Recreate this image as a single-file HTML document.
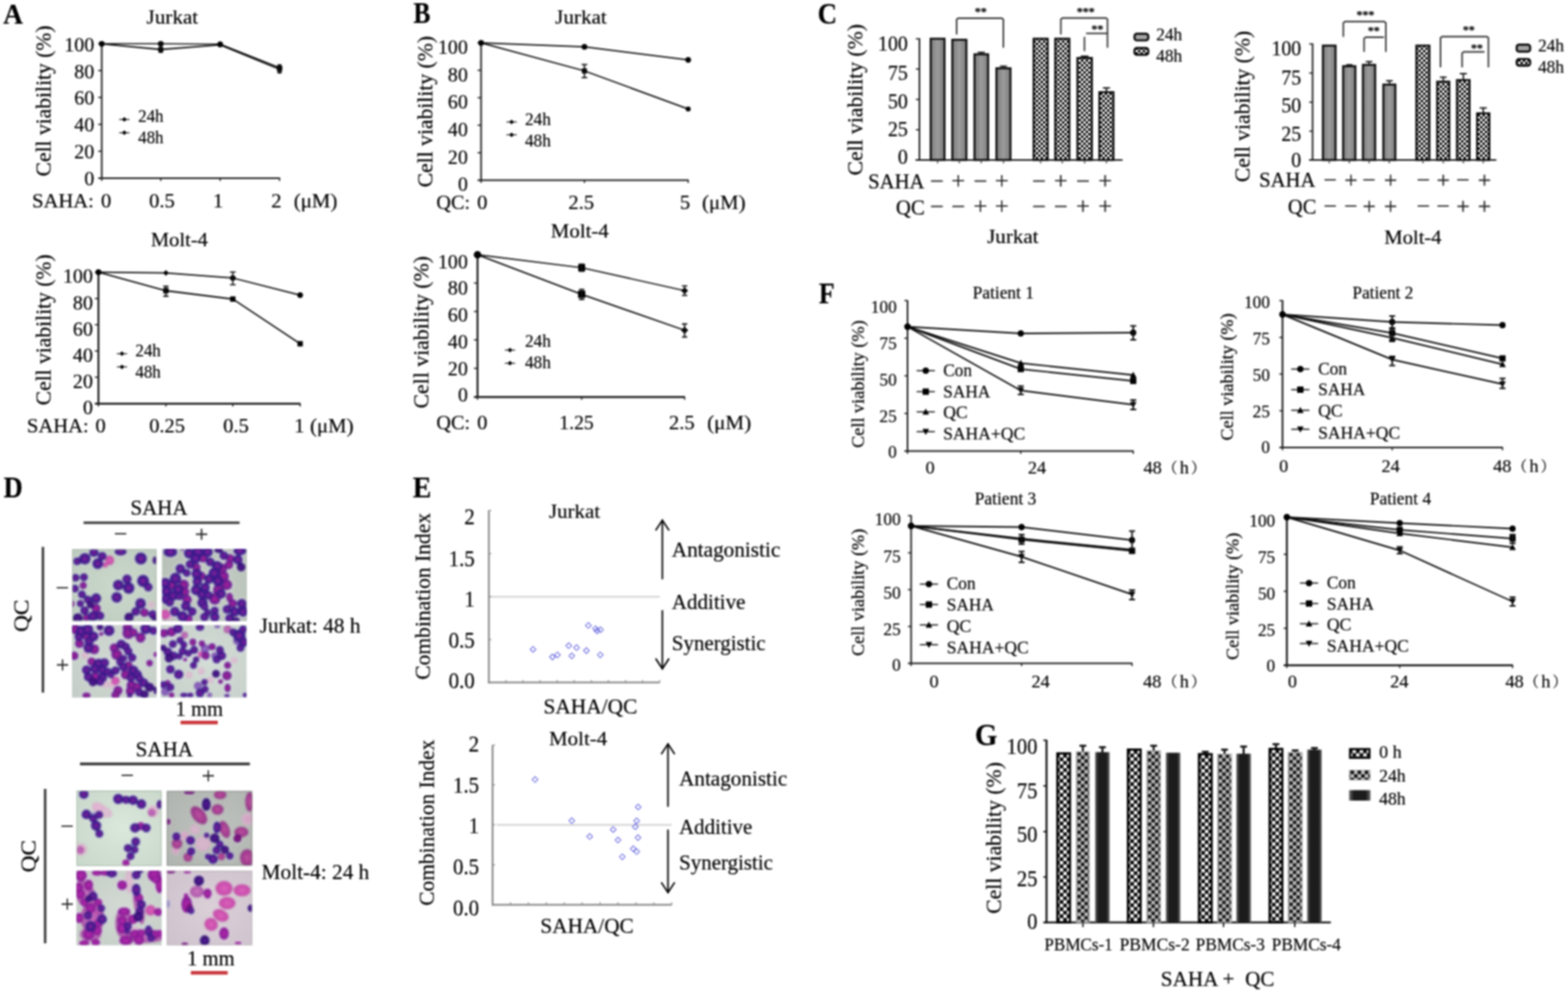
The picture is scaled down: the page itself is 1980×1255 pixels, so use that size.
<!DOCTYPE html>
<html lang="en">
<head>
<meta charset="utf-8">
<title>Figure: SAHA and QC cell viability</title>
<style>
html,body{margin:0;padding:0;background:#fff;}
body{width:1980px;height:1255px;overflow:hidden;}
svg{display:block;font-family:'Liberation Serif', serif;fill:#000;}
text{font-family:"Liberation Serif","Noto Serif CJK SC",serif;stroke:#000;stroke-width:0.22px;stroke-linejoin:round;}
</style>
</head>
<body>
<svg width="1980" height="1255" viewBox="0 0 1980 1255">
<defs>
<filter id="soft" x="0" y="0" width="100%" height="100%" filterUnits="userSpaceOnUse" color-interpolation-filters="sRGB"><feGaussianBlur stdDeviation="0.8"/></filter>
<pattern id="chk" width="6" height="6" patternUnits="userSpaceOnUse"><rect width="6" height="6" fill="#fff"/><rect width="3" height="3" fill="#000"/><rect x="3" y="3" width="3" height="3" fill="#000"/></pattern>
<pattern id="chkd" x="2.1" y="2" width="9" height="9" patternUnits="userSpaceOnUse"><rect width="9" height="9" fill="#000"/><rect x="2.3" y="0.1" width="4.4" height="4.4" rx="0.8" fill="#fff"/><rect x="6.8" y="4.6" width="4.4" height="4.4" rx="0.8" fill="#fff"/><rect x="-2.2" y="4.6" width="4.4" height="4.4" rx="0.8" fill="#fff"/></pattern>
<pattern id="chkl" x="-0.45" y="1" width="9" height="9" patternUnits="userSpaceOnUse"><rect width="9" height="9" fill="#c6c6c6"/><rect x="2.25" y="0" width="4.5" height="4.5" rx="0.9" fill="#0c0c0c"/><rect x="6.75" y="4.5" width="4.5" height="4.5" rx="0.9" fill="#0c0c0c"/><rect x="-2.25" y="4.5" width="4.5" height="4.5" rx="0.9" fill="#0c0c0c"/></pattern>
<linearGradient id="gbar" x1="0" x2="1" y1="0" y2="0"><stop offset="0" stop-color="#7c7c7c"/><stop offset="0.5" stop-color="#9c9c9c"/><stop offset="1" stop-color="#7c7c7c"/></linearGradient>
<linearGradient id="dbar" x1="0" x2="1" y1="0" y2="0"><stop offset="0" stop-color="#6a6a6a"/><stop offset="0.22" stop-color="#1c1c1c"/><stop offset="0.78" stop-color="#1c1c1c"/><stop offset="1" stop-color="#6a6a6a"/></linearGradient>
<radialGradient id="c_p" cx="0.5" cy="0.5" r="0.5"><stop offset="0" stop-color="#92229e"/><stop offset="0.55" stop-color="#4c1a92"/><stop offset="1" stop-color="#2b1a82"/></radialGradient>
<radialGradient id="c_pd" cx="0.5" cy="0.5" r="0.5"><stop offset="0" stop-color="#6a1e96"/><stop offset="0.55" stop-color="#3a1280"/><stop offset="1" stop-color="#250a66"/></radialGradient>
<radialGradient id="c_pl" cx="0.5" cy="0.5" r="0.5"><stop offset="0" stop-color="#9a6cc8"/><stop offset="0.55" stop-color="#7a4ab4"/><stop offset="1" stop-color="#6a44a8"/></radialGradient>
<radialGradient id="c_m" cx="0.5" cy="0.5" r="0.5"><stop offset="0" stop-color="#b62cae"/><stop offset="0.55" stop-color="#9a1f9e"/><stop offset="1" stop-color="#7a1a90"/></radialGradient>
<radialGradient id="c_md" cx="0.5" cy="0.5" r="0.5"><stop offset="0" stop-color="#8e1888"/><stop offset="0.55" stop-color="#74107c"/><stop offset="1" stop-color="#560a68"/></radialGradient>
<radialGradient id="c_ml" cx="0.5" cy="0.5" r="0.5"><stop offset="0" stop-color="#c868bc"/><stop offset="0.55" stop-color="#b450ac"/><stop offset="1" stop-color="#a044a0"/></radialGradient>
<radialGradient id="c_k" cx="0.5" cy="0.5" r="0.5"><stop offset="0" stop-color="#dc5cba"/><stop offset="0.55" stop-color="#cf48ae"/><stop offset="1" stop-color="#c040a2"/></radialGradient>
<radialGradient id="c_kf" cx="0.5" cy="0.5" r="0.5"><stop offset="0" stop-color="#e3b4d4"/><stop offset="0.55" stop-color="#e0b0d0"/><stop offset="1" stop-color="#dca8cc"/></radialGradient>
<radialGradient id="c_b" cx="0.5" cy="0.5" r="0.5"><stop offset="0" stop-color="#8a86d0"/><stop offset="0.55" stop-color="#7c78c8"/><stop offset="1" stop-color="#7070c0"/></radialGradient>
<radialGradient id="c_mj" cx="0.5" cy="0.5" r="0.5"><stop offset="0" stop-color="#a6249c"/><stop offset="0.55" stop-color="#861c94"/><stop offset="1" stop-color="#4c1c8c"/></radialGradient>
<radialGradient id="c_mr" cx="0.5" cy="0.5" r="0.5"><stop offset="0" stop-color="#bc4a9e"/><stop offset="0.55" stop-color="#a83a90"/><stop offset="1" stop-color="#8c2a82"/></radialGradient>
<radialGradient id="c_kp" cx="0.5" cy="0.5" r="0.5"><stop offset="0" stop-color="#dc9cc6"/><stop offset="0.55" stop-color="#dda4ca"/><stop offset="1" stop-color="#deb0d0"/></radialGradient>
<filter id="mb" x="-5%" y="-5%" width="110%" height="110%" color-interpolation-filters="sRGB"><feGaussianBlur stdDeviation="0.8"/></filter>
</defs>
<rect x="0" y="0" width="1980" height="1255" fill="#fff"/>
<g filter="url(#soft)">
<text x="4.0" y="29.7" font-size="36.5" textLength="25.0" lengthAdjust="spacingAndGlyphs" font-weight="bold">A</text>
<text x="185.0" y="30.4" font-size="25" textLength="65.3" lengthAdjust="spacingAndGlyphs">Jurkat</text>
<text x="64.1" y="127.5" font-size="27" text-anchor="middle" textLength="190.6" lengthAdjust="spacingAndGlyphs" transform="rotate(-90 64.1 127.5)">Cell viability (%)</text>
<line x1="128.5" y1="54.5" x2="128.5" y2="226.0" stroke="#1a1a1a" stroke-width="2.0" stroke-linecap="butt"/>
<line x1="124.0" y1="225.0" x2="353.5" y2="225.0" stroke="#1a1a1a" stroke-width="2.0" stroke-linecap="butt"/>
<line x1="124.0" y1="55.2" x2="128.5" y2="55.2" stroke="#1a1a1a" stroke-width="1.6" stroke-linecap="butt"/>
<line x1="124.0" y1="89.1" x2="128.5" y2="89.1" stroke="#1a1a1a" stroke-width="1.6" stroke-linecap="butt"/>
<line x1="124.0" y1="123.0" x2="128.5" y2="123.0" stroke="#1a1a1a" stroke-width="1.6" stroke-linecap="butt"/>
<line x1="124.0" y1="157.0" x2="128.5" y2="157.0" stroke="#1a1a1a" stroke-width="1.6" stroke-linecap="butt"/>
<line x1="124.0" y1="190.9" x2="128.5" y2="190.9" stroke="#1a1a1a" stroke-width="1.6" stroke-linecap="butt"/>
<line x1="128.5" y1="225.0" x2="128.5" y2="228.5" stroke="#1a1a1a" stroke-width="1.6" stroke-linecap="butt"/>
<line x1="203.0" y1="225.0" x2="203.0" y2="228.5" stroke="#1a1a1a" stroke-width="1.6" stroke-linecap="butt"/>
<line x1="278.0" y1="225.0" x2="278.0" y2="228.5" stroke="#1a1a1a" stroke-width="1.6" stroke-linecap="butt"/>
<line x1="353.0" y1="225.0" x2="353.0" y2="228.5" stroke="#1a1a1a" stroke-width="1.6" stroke-linecap="butt"/>
<text x="119.0" y="64.6" font-size="26.2" text-anchor="end" textLength="37.8" lengthAdjust="spacingAndGlyphs">100</text>
<text x="119.0" y="98.5" font-size="26.2" text-anchor="end" textLength="25.2" lengthAdjust="spacingAndGlyphs">80</text>
<text x="119.0" y="132.4" font-size="26.2" text-anchor="end" textLength="25.2" lengthAdjust="spacingAndGlyphs">60</text>
<text x="119.0" y="166.3" font-size="26.2" text-anchor="end" textLength="25.2" lengthAdjust="spacingAndGlyphs">40</text>
<text x="119.0" y="200.3" font-size="26.2" text-anchor="end" textLength="25.2" lengthAdjust="spacingAndGlyphs">20</text>
<text x="119.0" y="234.2" font-size="26.2" text-anchor="end" textLength="12.6" lengthAdjust="spacingAndGlyphs">0</text>
<path d="M128.5 55.3 L203.0 55.3 L278.0 55.8 L353.0 85.5" fill="none" stroke="#0a0a0a" stroke-width="1.6" stroke-linejoin="miter"/>
<circle cx="128.5" cy="55.3" r="3.6" fill="#000"/>
<circle cx="203.0" cy="55.3" r="3.6" fill="#000"/>
<circle cx="278.0" cy="55.8" r="3.6" fill="#000"/>
<circle cx="353.0" cy="85.5" r="3.6" fill="#000"/>
<path d="M128.5 55.3 L203.0 62.5 L278.0 56.6 L353.0 87.5" fill="none" stroke="#0a0a0a" stroke-width="1.8" stroke-linejoin="miter"/>
<circle cx="128.5" cy="55.3" r="3.2" fill="#000"/>
<rect x="199.8" y="59.3" width="6.4" height="6.4" fill="#000"/>
<circle cx="278.0" cy="56.6" r="3.2" fill="#000"/>
<rect x="349.8" y="84.3" width="6.4" height="6.4" fill="#000"/>
<line x1="203.0" y1="53.5" x2="203.0" y2="66.0" stroke="#111" stroke-width="1.8" stroke-linecap="butt"/>
<line x1="200.4" y1="53.5" x2="205.6" y2="53.5" stroke="#111" stroke-width="1.8" stroke-linecap="butt"/>
<line x1="200.4" y1="66.0" x2="205.6" y2="66.0" stroke="#111" stroke-width="1.8" stroke-linecap="butt"/>
<line x1="353.0" y1="82.0" x2="353.0" y2="92.0" stroke="#111" stroke-width="1.8" stroke-linecap="butt"/>
<line x1="350.4" y1="82.0" x2="355.6" y2="82.0" stroke="#111" stroke-width="1.8" stroke-linecap="butt"/>
<line x1="350.4" y1="92.0" x2="355.6" y2="92.0" stroke="#111" stroke-width="1.8" stroke-linecap="butt"/>
<line x1="150.5" y1="150.8" x2="163.5" y2="150.8" stroke="#222" stroke-width="1.3" stroke-linecap="butt"/>
<path d="M154.0 150.8 L157.0 147.8 L160.0 150.8 L157.0 153.8Z" fill="#000"/>
<line x1="150.5" y1="167.6" x2="163.5" y2="167.6" stroke="#222" stroke-width="1.3" stroke-linecap="butt"/>
<path d="M154.0 167.6 L157.0 164.6 L160.0 167.6 L157.0 170.6Z" fill="#000"/>
<text x="174.5" y="154.2" font-size="22.5" textLength="32.0" lengthAdjust="spacingAndGlyphs">24h</text>
<text x="174.5" y="181.0" font-size="22.5" textLength="32.0" lengthAdjust="spacingAndGlyphs">48h</text>
<text x="40.5" y="262.2" font-size="26" textLength="78.0" lengthAdjust="spacingAndGlyphs">SAHA:</text>
<text x="134.0" y="262.2" font-size="26" text-anchor="middle">0</text>
<text x="204.5" y="262.2" font-size="26" text-anchor="middle">0.5</text>
<text x="275.5" y="262.2" font-size="26" text-anchor="middle">1</text>
<text x="349.0" y="262.2" font-size="26" text-anchor="middle">2</text>
<text x="371.0" y="262.2" font-size="26" textLength="55.0" lengthAdjust="spacingAndGlyphs">(μM)</text>
<text x="190.5" y="311.2" font-size="25" textLength="72.0" lengthAdjust="spacingAndGlyphs">Molt-4</text>
<text x="64.1" y="416.5" font-size="27" text-anchor="middle" textLength="190.6" lengthAdjust="spacingAndGlyphs" transform="rotate(-90 64.1 416.5)">Cell viability (%)</text>
<line x1="124.3" y1="343.0" x2="124.3" y2="510.7" stroke="#1a1a1a" stroke-width="2.4" stroke-linecap="butt"/>
<line x1="119.8" y1="509.7" x2="379.5" y2="509.7" stroke="#1a1a1a" stroke-width="2.4" stroke-linecap="butt"/>
<line x1="119.8" y1="343.7" x2="124.3" y2="343.7" stroke="#1a1a1a" stroke-width="1.6" stroke-linecap="butt"/>
<line x1="119.8" y1="376.9" x2="124.3" y2="376.9" stroke="#1a1a1a" stroke-width="1.6" stroke-linecap="butt"/>
<line x1="119.8" y1="410.0" x2="124.3" y2="410.0" stroke="#1a1a1a" stroke-width="1.6" stroke-linecap="butt"/>
<line x1="119.8" y1="443.2" x2="124.3" y2="443.2" stroke="#1a1a1a" stroke-width="1.6" stroke-linecap="butt"/>
<line x1="119.8" y1="476.3" x2="124.3" y2="476.3" stroke="#1a1a1a" stroke-width="1.6" stroke-linecap="butt"/>
<line x1="124.3" y1="509.7" x2="124.3" y2="513.2" stroke="#1a1a1a" stroke-width="1.6" stroke-linecap="butt"/>
<line x1="209.5" y1="509.7" x2="209.5" y2="513.2" stroke="#1a1a1a" stroke-width="1.6" stroke-linecap="butt"/>
<line x1="294.0" y1="509.7" x2="294.0" y2="513.2" stroke="#1a1a1a" stroke-width="1.6" stroke-linecap="butt"/>
<line x1="379.0" y1="509.7" x2="379.0" y2="513.2" stroke="#1a1a1a" stroke-width="1.6" stroke-linecap="butt"/>
<text x="117.3" y="357.4" font-size="26.2" text-anchor="end" textLength="37.8" lengthAdjust="spacingAndGlyphs">100</text>
<text x="117.3" y="390.5" font-size="26.2" text-anchor="end" textLength="25.2" lengthAdjust="spacingAndGlyphs">80</text>
<text x="117.3" y="423.7" font-size="26.2" text-anchor="end" textLength="25.2" lengthAdjust="spacingAndGlyphs">60</text>
<text x="117.3" y="456.9" font-size="26.2" text-anchor="end" textLength="25.2" lengthAdjust="spacingAndGlyphs">40</text>
<text x="117.3" y="490.0" font-size="26.2" text-anchor="end" textLength="25.2" lengthAdjust="spacingAndGlyphs">20</text>
<text x="117.3" y="523.2" font-size="26.2" text-anchor="end" textLength="12.6" lengthAdjust="spacingAndGlyphs">0</text>
<path d="M124.3 343.7 L209.5 344.6 L294.0 351.0 L379.0 372.6" fill="none" stroke="#0a0a0a" stroke-width="1.7" stroke-linejoin="miter"/>
<circle cx="124.3" cy="343.7" r="3.6" fill="#000"/>
<path d="M205.9 344.6 L209.5 341.0 L213.1 344.6 L209.5 348.2Z" fill="#000"/>
<circle cx="294.0" cy="351.0" r="3.6" fill="#000"/>
<circle cx="379.0" cy="372.6" r="3.6" fill="#000"/>
<path d="M124.3 343.7 L209.5 367.0 L294.0 377.6 L379.0 434.0" fill="none" stroke="#0a0a0a" stroke-width="1.8" stroke-linejoin="miter"/>
<circle cx="124.3" cy="343.7" r="3.4" fill="#000"/>
<rect x="206.1" y="363.6" width="6.8" height="6.8" fill="#000"/>
<rect x="290.6" y="374.2" width="6.8" height="6.8" fill="#000"/>
<rect x="375.6" y="430.6" width="6.8" height="6.8" fill="#000"/>
<line x1="294.0" y1="343.5" x2="294.0" y2="359.5" stroke="#111" stroke-width="1.6" stroke-linecap="butt"/>
<line x1="290.4" y1="343.5" x2="297.6" y2="343.5" stroke="#111" stroke-width="1.6" stroke-linecap="butt"/>
<line x1="290.4" y1="359.5" x2="297.6" y2="359.5" stroke="#111" stroke-width="1.6" stroke-linecap="butt"/>
<line x1="209.5" y1="361.5" x2="209.5" y2="374.0" stroke="#111" stroke-width="1.8" stroke-linecap="butt"/>
<line x1="206.1" y1="361.5" x2="212.9" y2="361.5" stroke="#111" stroke-width="1.8" stroke-linecap="butt"/>
<line x1="206.1" y1="374.0" x2="212.9" y2="374.0" stroke="#111" stroke-width="1.8" stroke-linecap="butt"/>
<line x1="147.5" y1="446.6" x2="160.5" y2="446.6" stroke="#222" stroke-width="1.3" stroke-linecap="butt"/>
<path d="M151.0 446.6 L154.0 443.6 L157.0 446.6 L154.0 449.6Z" fill="#000"/>
<line x1="147.5" y1="463.2" x2="160.5" y2="463.2" stroke="#222" stroke-width="1.3" stroke-linecap="butt"/>
<path d="M151.0 463.2 L154.0 460.2 L157.0 463.2 L154.0 466.2Z" fill="#000"/>
<text x="171.0" y="450.3" font-size="22.5" textLength="32.0" lengthAdjust="spacingAndGlyphs">24h</text>
<text x="171.0" y="476.6" font-size="22.5" textLength="32.0" lengthAdjust="spacingAndGlyphs">48h</text>
<text x="34.0" y="545.8" font-size="26" textLength="78.0" lengthAdjust="spacingAndGlyphs">SAHA:</text>
<text x="127.0" y="545.8" font-size="26" text-anchor="middle">0</text>
<text x="211.0" y="545.8" font-size="26" text-anchor="middle" textLength="45.0" lengthAdjust="spacingAndGlyphs">0.25</text>
<text x="298.0" y="545.8" font-size="26" text-anchor="middle">0.5</text>
<text x="378.0" y="545.8" font-size="26" text-anchor="middle">1</text>
<text x="391.5" y="545.8" font-size="26" textLength="55.0" lengthAdjust="spacingAndGlyphs">(μM)</text>
<text x="522.0" y="29.0" font-size="37" textLength="21.5" lengthAdjust="spacingAndGlyphs" font-weight="bold">B</text>
<text x="701.0" y="30.2" font-size="25" textLength="65.3" lengthAdjust="spacingAndGlyphs">Jurkat</text>
<text x="545.6" y="141.0" font-size="27" text-anchor="middle" textLength="191.1" lengthAdjust="spacingAndGlyphs" transform="rotate(-90 545.6 141.0)">Cell viability (%)</text>
<line x1="607.5" y1="53.5" x2="607.5" y2="228.5" stroke="#1a1a1a" stroke-width="2.0" stroke-linecap="butt"/>
<line x1="603.0" y1="227.5" x2="869.5" y2="227.5" stroke="#1a1a1a" stroke-width="2.0" stroke-linecap="butt"/>
<line x1="603.0" y1="54.0" x2="607.5" y2="54.0" stroke="#1a1a1a" stroke-width="1.6" stroke-linecap="butt"/>
<line x1="603.0" y1="88.7" x2="607.5" y2="88.7" stroke="#1a1a1a" stroke-width="1.6" stroke-linecap="butt"/>
<line x1="603.0" y1="123.4" x2="607.5" y2="123.4" stroke="#1a1a1a" stroke-width="1.6" stroke-linecap="butt"/>
<line x1="603.0" y1="158.1" x2="607.5" y2="158.1" stroke="#1a1a1a" stroke-width="1.6" stroke-linecap="butt"/>
<line x1="603.0" y1="192.8" x2="607.5" y2="192.8" stroke="#1a1a1a" stroke-width="1.6" stroke-linecap="butt"/>
<line x1="607.5" y1="227.5" x2="607.5" y2="231.0" stroke="#1a1a1a" stroke-width="1.6" stroke-linecap="butt"/>
<line x1="738.0" y1="227.5" x2="738.0" y2="231.0" stroke="#1a1a1a" stroke-width="1.6" stroke-linecap="butt"/>
<line x1="869.0" y1="227.5" x2="869.0" y2="231.0" stroke="#1a1a1a" stroke-width="1.6" stroke-linecap="butt"/>
<text x="590.8" y="67.9" font-size="26.2" text-anchor="end" textLength="37.8" lengthAdjust="spacingAndGlyphs">100</text>
<text x="590.8" y="102.6" font-size="26.2" text-anchor="end" textLength="25.2" lengthAdjust="spacingAndGlyphs">80</text>
<text x="590.8" y="137.3" font-size="26.2" text-anchor="end" textLength="25.2" lengthAdjust="spacingAndGlyphs">60</text>
<text x="590.8" y="172.0" font-size="26.2" text-anchor="end" textLength="25.2" lengthAdjust="spacingAndGlyphs">40</text>
<text x="590.8" y="206.7" font-size="26.2" text-anchor="end" textLength="25.2" lengthAdjust="spacingAndGlyphs">20</text>
<text x="590.8" y="241.4" font-size="26.2" text-anchor="end" textLength="12.6" lengthAdjust="spacingAndGlyphs">0</text>
<path d="M607.5 54.2 L738.0 59.2 L869.0 75.6" fill="none" stroke="#0a0a0a" stroke-width="1.7" stroke-linejoin="miter"/>
<circle cx="607.5" cy="54.2" r="3.6" fill="#000"/>
<circle cx="738.0" cy="59.2" r="3.6" fill="#000"/>
<circle cx="869.0" cy="75.6" r="3.6" fill="#000"/>
<path d="M607.5 54.2 L738.0 89.5 L869.0 137.6" fill="none" stroke="#0a0a0a" stroke-width="1.8" stroke-linejoin="miter"/>
<circle cx="607.5" cy="54.2" r="3.2" fill="#000"/>
<rect x="734.8" y="86.3" width="6.4" height="6.4" fill="#000"/>
<circle cx="869.0" cy="137.6" r="3.2" fill="#000"/>
<line x1="738.0" y1="81.5" x2="738.0" y2="98.0" stroke="#111" stroke-width="1.7" stroke-linecap="butt"/>
<line x1="734.4" y1="81.5" x2="741.6" y2="81.5" stroke="#111" stroke-width="1.7" stroke-linecap="butt"/>
<line x1="734.4" y1="98.0" x2="741.6" y2="98.0" stroke="#111" stroke-width="1.7" stroke-linecap="butt"/>
<line x1="639.5" y1="154.0" x2="652.5" y2="154.0" stroke="#222" stroke-width="1.3" stroke-linecap="butt"/>
<path d="M643.0 154.0 L646.0 151.0 L649.0 154.0 L646.0 157.0Z" fill="#000"/>
<line x1="639.5" y1="170.2" x2="652.5" y2="170.2" stroke="#222" stroke-width="1.3" stroke-linecap="butt"/>
<path d="M643.0 170.2 L646.0 167.2 L649.0 170.2 L646.0 173.2Z" fill="#000"/>
<text x="663.0" y="157.6" font-size="22.5" textLength="32.5" lengthAdjust="spacingAndGlyphs">24h</text>
<text x="663.0" y="184.6" font-size="22.5" textLength="32.5" lengthAdjust="spacingAndGlyphs">48h</text>
<text x="551.0" y="263.8" font-size="26" textLength="42.5" lengthAdjust="spacingAndGlyphs">QC:</text>
<text x="609.0" y="263.8" font-size="26" text-anchor="middle">0</text>
<text x="734.0" y="263.8" font-size="26" text-anchor="middle">2.5</text>
<text x="865.0" y="263.8" font-size="26" text-anchor="middle">5</text>
<text x="886.5" y="263.8" font-size="26" textLength="55.0" lengthAdjust="spacingAndGlyphs">(μM)</text>
<text x="695.5" y="300.3" font-size="25" textLength="73.3" lengthAdjust="spacingAndGlyphs">Molt-4</text>
<text x="540.6" y="419.5" font-size="27" text-anchor="middle" textLength="192.6" lengthAdjust="spacingAndGlyphs" transform="rotate(-90 540.6 419.5)">Cell viability (%)</text>
<line x1="603.0" y1="321.0" x2="603.0" y2="502.2" stroke="#1a1a1a" stroke-width="2.4" stroke-linecap="butt"/>
<line x1="598.5" y1="501.2" x2="865.0" y2="501.2" stroke="#1a1a1a" stroke-width="2.4" stroke-linecap="butt"/>
<line x1="598.5" y1="321.5" x2="603.0" y2="321.5" stroke="#1a1a1a" stroke-width="1.6" stroke-linecap="butt"/>
<line x1="598.5" y1="357.4" x2="603.0" y2="357.4" stroke="#1a1a1a" stroke-width="1.6" stroke-linecap="butt"/>
<line x1="598.5" y1="393.3" x2="603.0" y2="393.3" stroke="#1a1a1a" stroke-width="1.6" stroke-linecap="butt"/>
<line x1="598.5" y1="429.2" x2="603.0" y2="429.2" stroke="#1a1a1a" stroke-width="1.6" stroke-linecap="butt"/>
<line x1="598.5" y1="465.1" x2="603.0" y2="465.1" stroke="#1a1a1a" stroke-width="1.6" stroke-linecap="butt"/>
<line x1="603.0" y1="501.2" x2="603.0" y2="504.7" stroke="#1a1a1a" stroke-width="1.6" stroke-linecap="butt"/>
<line x1="734.5" y1="501.2" x2="734.5" y2="504.7" stroke="#1a1a1a" stroke-width="1.6" stroke-linecap="butt"/>
<line x1="864.5" y1="501.2" x2="864.5" y2="504.7" stroke="#1a1a1a" stroke-width="1.6" stroke-linecap="butt"/>
<text x="590.8" y="338.7" font-size="26.2" text-anchor="end" textLength="37.8" lengthAdjust="spacingAndGlyphs">100</text>
<text x="590.8" y="372.4" font-size="26.2" text-anchor="end" textLength="25.2" lengthAdjust="spacingAndGlyphs">80</text>
<text x="590.8" y="406.2" font-size="26.2" text-anchor="end" textLength="25.2" lengthAdjust="spacingAndGlyphs">60</text>
<text x="590.8" y="440.0" font-size="26.2" text-anchor="end" textLength="25.2" lengthAdjust="spacingAndGlyphs">40</text>
<text x="590.8" y="474.4" font-size="26.2" text-anchor="end" textLength="25.2" lengthAdjust="spacingAndGlyphs">20</text>
<text x="590.8" y="507.0" font-size="26.2" text-anchor="end" textLength="12.6" lengthAdjust="spacingAndGlyphs">0</text>
<path d="M603.0 321.7 L734.5 338.0 L864.5 367.0" fill="none" stroke="#0a0a0a" stroke-width="1.7" stroke-linejoin="miter"/>
<circle cx="603.0" cy="321.7" r="4.4" fill="#000"/>
<rect x="730.1" y="333.6" width="8.8" height="8.8" fill="#000"/>
<path d="M860.1 367.0 L864.5 362.6 L868.9 367.0 L864.5 371.4Z" fill="#000"/>
<path d="M603.0 321.7 L734.5 371.6 L864.5 417.0" fill="none" stroke="#0a0a0a" stroke-width="1.8" stroke-linejoin="miter"/>
<circle cx="603.0" cy="321.7" r="4.6" fill="#000"/>
<rect x="729.9" y="367.0" width="9.2" height="9.2" fill="#000"/>
<path d="M859.9 417.0 L864.5 412.4 L869.1 417.0 L864.5 421.6Z" fill="#000"/>
<line x1="734.5" y1="333.5" x2="734.5" y2="342.5" stroke="#111" stroke-width="1.6" stroke-linecap="butt"/>
<line x1="731.1" y1="333.5" x2="737.9" y2="333.5" stroke="#111" stroke-width="1.6" stroke-linecap="butt"/>
<line x1="731.1" y1="342.5" x2="737.9" y2="342.5" stroke="#111" stroke-width="1.6" stroke-linecap="butt"/>
<line x1="734.5" y1="365.5" x2="734.5" y2="378.0" stroke="#111" stroke-width="1.8" stroke-linecap="butt"/>
<line x1="731.1" y1="365.5" x2="737.9" y2="365.5" stroke="#111" stroke-width="1.8" stroke-linecap="butt"/>
<line x1="731.1" y1="378.0" x2="737.9" y2="378.0" stroke="#111" stroke-width="1.8" stroke-linecap="butt"/>
<line x1="864.5" y1="361.0" x2="864.5" y2="373.0" stroke="#111" stroke-width="1.6" stroke-linecap="butt"/>
<line x1="861.1" y1="361.0" x2="867.9" y2="361.0" stroke="#111" stroke-width="1.6" stroke-linecap="butt"/>
<line x1="861.1" y1="373.0" x2="867.9" y2="373.0" stroke="#111" stroke-width="1.6" stroke-linecap="butt"/>
<line x1="864.5" y1="409.0" x2="864.5" y2="425.5" stroke="#111" stroke-width="1.8" stroke-linecap="butt"/>
<line x1="861.1" y1="409.0" x2="867.9" y2="409.0" stroke="#111" stroke-width="1.8" stroke-linecap="butt"/>
<line x1="861.1" y1="425.5" x2="867.9" y2="425.5" stroke="#111" stroke-width="1.8" stroke-linecap="butt"/>
<line x1="637.5" y1="442.0" x2="650.5" y2="442.0" stroke="#222" stroke-width="1.3" stroke-linecap="butt"/>
<path d="M641.0 442.0 L644.0 439.0 L647.0 442.0 L644.0 445.0Z" fill="#000"/>
<line x1="637.5" y1="458.6" x2="650.5" y2="458.6" stroke="#222" stroke-width="1.3" stroke-linecap="butt"/>
<path d="M641.0 458.6 L644.0 455.6 L647.0 458.6 L644.0 461.6Z" fill="#000"/>
<text x="663.0" y="438.2" font-size="22.5" textLength="32.5" lengthAdjust="spacingAndGlyphs">24h</text>
<text x="663.0" y="465.2" font-size="22.5" textLength="32.5" lengthAdjust="spacingAndGlyphs">48h</text>
<text x="551.0" y="541.8" font-size="26" textLength="42.5" lengthAdjust="spacingAndGlyphs">QC:</text>
<text x="609.0" y="541.8" font-size="26" text-anchor="middle">0</text>
<text x="728.0" y="541.8" font-size="26" text-anchor="middle" textLength="43.5" lengthAdjust="spacingAndGlyphs">1.25</text>
<text x="861.0" y="541.8" font-size="26" text-anchor="middle">2.5</text>
<text x="893.0" y="541.8" font-size="26" textLength="55.5" lengthAdjust="spacingAndGlyphs">(μM)</text>
<text x="1032.5" y="29.5" font-size="37" textLength="24.5" lengthAdjust="spacingAndGlyphs" font-weight="bold">C</text>
<text x="1089.3" y="126.0" font-size="27" text-anchor="middle" textLength="191.1" lengthAdjust="spacingAndGlyphs" transform="rotate(-90 1089.3 126.0)">Cell viability (%)</text>
<line x1="1161.0" y1="48.3" x2="1161.0" y2="202.6" stroke="#1a1a1a" stroke-width="2.0" stroke-linecap="butt"/>
<line x1="1156.0" y1="202.0" x2="1417.5" y2="202.0" stroke="#1a1a1a" stroke-width="2.0" stroke-linecap="butt"/>
<line x1="1156.5" y1="49.0" x2="1161.0" y2="49.0" stroke="#1a1a1a" stroke-width="1.6" stroke-linecap="butt"/>
<line x1="1156.5" y1="87.2" x2="1161.0" y2="87.2" stroke="#1a1a1a" stroke-width="1.6" stroke-linecap="butt"/>
<line x1="1156.5" y1="125.5" x2="1161.0" y2="125.5" stroke="#1a1a1a" stroke-width="1.6" stroke-linecap="butt"/>
<line x1="1156.5" y1="163.8" x2="1161.0" y2="163.8" stroke="#1a1a1a" stroke-width="1.6" stroke-linecap="butt"/>
<text x="1146.4" y="64.0" font-size="28" text-anchor="end" textLength="37.8" lengthAdjust="spacingAndGlyphs">100</text>
<text x="1146.4" y="101.0" font-size="28" text-anchor="end" textLength="25.2" lengthAdjust="spacingAndGlyphs">75</text>
<text x="1146.4" y="137.4" font-size="28" text-anchor="end" textLength="25.2" lengthAdjust="spacingAndGlyphs">50</text>
<text x="1146.4" y="172.4" font-size="28" text-anchor="end" textLength="25.2" lengthAdjust="spacingAndGlyphs">25</text>
<text x="1146.4" y="206.6" font-size="28" text-anchor="end" textLength="12.6" lengthAdjust="spacingAndGlyphs">0</text>
<rect x="1175.2" y="48.9" width="17.5" height="153.1" fill="url(#gbar)" stroke="#0a0a0a" stroke-width="2.5"/>
<line x1="1183.9" y1="202.0" x2="1183.9" y2="206.3" stroke="#444" stroke-width="1.5" stroke-linecap="butt"/>
<rect x="1202.5" y="50.2" width="17.8" height="151.8" fill="url(#gbar)" stroke="#0a0a0a" stroke-width="2.5"/>
<line x1="1211.4" y1="202.0" x2="1211.4" y2="206.3" stroke="#444" stroke-width="1.5" stroke-linecap="butt"/>
<rect x="1230.5" y="68.6" width="17.3" height="133.4" fill="url(#gbar)" stroke="#0a0a0a" stroke-width="2.5"/>
<line x1="1239.1" y1="202.0" x2="1239.1" y2="206.3" stroke="#444" stroke-width="1.5" stroke-linecap="butt"/>
<rect x="1258.2" y="86.2" width="17.8" height="115.8" fill="url(#gbar)" stroke="#0a0a0a" stroke-width="2.5"/>
<line x1="1267.2" y1="202.0" x2="1267.2" y2="206.3" stroke="#444" stroke-width="1.5" stroke-linecap="butt"/>
<rect x="1305.2" y="48.9" width="17.8" height="153.1" fill="url(#chk)" stroke="#0a0a0a" stroke-width="2.5"/>
<line x1="1314.1" y1="202.0" x2="1314.1" y2="206.3" stroke="#444" stroke-width="1.5" stroke-linecap="butt"/>
<rect x="1332.5" y="48.9" width="17.8" height="153.1" fill="url(#chk)" stroke="#0a0a0a" stroke-width="2.5"/>
<line x1="1341.4" y1="202.0" x2="1341.4" y2="206.3" stroke="#444" stroke-width="1.5" stroke-linecap="butt"/>
<rect x="1360.5" y="73.2" width="18.3" height="128.8" fill="url(#chk)" stroke="#0a0a0a" stroke-width="2.5"/>
<line x1="1369.6" y1="202.0" x2="1369.6" y2="206.3" stroke="#444" stroke-width="1.5" stroke-linecap="butt"/>
<rect x="1388.2" y="116.4" width="17.8" height="85.6" fill="url(#chk)" stroke="#0a0a0a" stroke-width="2.5"/>
<line x1="1397.2" y1="202.0" x2="1397.2" y2="206.3" stroke="#444" stroke-width="1.5" stroke-linecap="butt"/>
<line x1="1239.1" y1="66.2" x2="1239.1" y2="68.0" stroke="#111" stroke-width="1.8" stroke-linecap="butt"/>
<line x1="1234.6" y1="66.2" x2="1243.6" y2="66.2" stroke="#111" stroke-width="1.8" stroke-linecap="butt"/>
<line x1="1267.1" y1="83.6" x2="1267.1" y2="85.6" stroke="#111" stroke-width="1.8" stroke-linecap="butt"/>
<line x1="1262.6" y1="83.6" x2="1271.6" y2="83.6" stroke="#111" stroke-width="1.8" stroke-linecap="butt"/>
<line x1="1369.6" y1="71.0" x2="1369.6" y2="72.6" stroke="#111" stroke-width="1.8" stroke-linecap="butt"/>
<line x1="1364.6" y1="71.0" x2="1374.6" y2="71.0" stroke="#111" stroke-width="1.8" stroke-linecap="butt"/>
<line x1="1397.2" y1="111.0" x2="1397.2" y2="116.0" stroke="#111" stroke-width="1.8" stroke-linecap="butt"/>
<line x1="1392.7" y1="111.0" x2="1401.7" y2="111.0" stroke="#111" stroke-width="1.8" stroke-linecap="butt"/>
<path d="M1208.0 43.5 L1208.0 24.5 L1210.0 23.0 L1265.0 23.0 L1267.0 24.5 L1267.0 60.2" fill="none" stroke="#303030" stroke-width="1.9" stroke-linejoin="round"/>
<path d="M1339.6 43.5 L1339.6 24.2 L1341.6 22.7 L1396.5 22.7 L1398.5 24.2 L1398.5 60.2" fill="none" stroke="#303030" stroke-width="1.9" stroke-linejoin="round"/>
<path d="M1369.4 64.5 L1369.4 46.5" fill="none" stroke="#303030" stroke-width="1.9" stroke-linejoin="miter"/>
<path d="M1371.5 42.2 L1398.5 42.2" fill="none" stroke="#303030" stroke-width="1.9" stroke-linejoin="miter"/>
<text x="1238.4" y="19.5" font-size="15.5" text-anchor="middle" textLength="15.0" lengthAdjust="spacingAndGlyphs" font-weight="bold" stroke-width="0.8">**</text>
<text x="1371.0" y="20.0" font-size="15.5" text-anchor="middle" textLength="22.5" lengthAdjust="spacingAndGlyphs" font-weight="bold" stroke-width="0.8">***</text>
<text x="1385.7" y="42.0" font-size="15.5" text-anchor="middle" textLength="15.0" lengthAdjust="spacingAndGlyphs" font-weight="bold" stroke-width="0.8">**</text>
<rect x="1432.6" y="42.6" width="17.4" height="8.4" rx="3" fill="#a4a4a4" stroke="#0a0a0a" stroke-width="2.7"/>
<rect x="1432.6" y="60.6" width="17.4" height="8.6" rx="3" fill="url(#chk)" stroke="#0a0a0a" stroke-width="2.7"/>
<text x="1460.0" y="50.8" font-size="23" textLength="32.8" lengthAdjust="spacingAndGlyphs">24h</text>
<text x="1460.0" y="78.4" font-size="23" textLength="32.8" lengthAdjust="spacingAndGlyphs">48h</text>
<text x="1096.3" y="237.5" font-size="26.5" textLength="71.0" lengthAdjust="spacingAndGlyphs">SAHA</text>
<text x="1131.3" y="270.5" font-size="26.5" textLength="36.5" lengthAdjust="spacingAndGlyphs">QC</text>
<text x="1183.0" y="239.1" font-size="31.1" text-anchor="middle" fill="#222" stroke="#222" stroke-width="0.54">−</text>
<text x="1210.0" y="239.1" font-size="31.1" text-anchor="middle" fill="#222" stroke="#222" stroke-width="0.54">+</text>
<text x="1238.0" y="239.1" font-size="31.1" text-anchor="middle" fill="#222" stroke="#222" stroke-width="0.54">−</text>
<text x="1265.0" y="239.1" font-size="31.1" text-anchor="middle" fill="#222" stroke="#222" stroke-width="0.54">+</text>
<text x="1312.0" y="239.1" font-size="31.1" text-anchor="middle" fill="#222" stroke="#222" stroke-width="0.54">−</text>
<text x="1339.5" y="239.1" font-size="31.1" text-anchor="middle" fill="#222" stroke="#222" stroke-width="0.54">+</text>
<text x="1367.5" y="239.1" font-size="31.1" text-anchor="middle" fill="#222" stroke="#222" stroke-width="0.54">−</text>
<text x="1395.5" y="239.1" font-size="31.1" text-anchor="middle" fill="#222" stroke="#222" stroke-width="0.54">+</text>
<text x="1183.0" y="271.4" font-size="31.1" text-anchor="middle" fill="#222" stroke="#222" stroke-width="0.54">−</text>
<text x="1210.0" y="271.4" font-size="31.1" text-anchor="middle" fill="#222" stroke="#222" stroke-width="0.54">−</text>
<text x="1238.0" y="271.4" font-size="31.1" text-anchor="middle" fill="#222" stroke="#222" stroke-width="0.54">+</text>
<text x="1265.0" y="271.4" font-size="31.1" text-anchor="middle" fill="#222" stroke="#222" stroke-width="0.54">+</text>
<text x="1312.0" y="271.4" font-size="31.1" text-anchor="middle" fill="#222" stroke="#222" stroke-width="0.54">−</text>
<text x="1339.5" y="271.4" font-size="31.1" text-anchor="middle" fill="#222" stroke="#222" stroke-width="0.54">−</text>
<text x="1367.5" y="271.4" font-size="31.1" text-anchor="middle" fill="#222" stroke="#222" stroke-width="0.54">+</text>
<text x="1395.5" y="271.4" font-size="31.1" text-anchor="middle" fill="#222" stroke="#222" stroke-width="0.54">+</text>
<text x="1246.5" y="307.4" font-size="25.5" textLength="65.0" lengthAdjust="spacingAndGlyphs">Jurkat</text>
<text x="1577.6" y="134.5" font-size="27" text-anchor="middle" textLength="191.1" lengthAdjust="spacingAndGlyphs" transform="rotate(-90 1577.6 134.5)">Cell viability (%)</text>
<line x1="1657.5" y1="54.8" x2="1657.5" y2="202.6" stroke="#1a1a1a" stroke-width="2.0" stroke-linecap="butt"/>
<line x1="1653.0" y1="202.0" x2="1889.5" y2="202.0" stroke="#1a1a1a" stroke-width="2.0" stroke-linecap="butt"/>
<line x1="1653.2" y1="55.5" x2="1657.5" y2="55.5" stroke="#1a1a1a" stroke-width="1.6" stroke-linecap="butt"/>
<line x1="1653.2" y1="92.3" x2="1657.5" y2="92.3" stroke="#1a1a1a" stroke-width="1.6" stroke-linecap="butt"/>
<line x1="1653.2" y1="129.0" x2="1657.5" y2="129.0" stroke="#1a1a1a" stroke-width="1.6" stroke-linecap="butt"/>
<line x1="1653.2" y1="165.6" x2="1657.5" y2="165.6" stroke="#1a1a1a" stroke-width="1.6" stroke-linecap="butt"/>
<text x="1643.2" y="70.4" font-size="28" text-anchor="end" textLength="37.8" lengthAdjust="spacingAndGlyphs">100</text>
<text x="1643.2" y="107.2" font-size="28" text-anchor="end" textLength="25.2" lengthAdjust="spacingAndGlyphs">75</text>
<text x="1643.2" y="142.4" font-size="28" text-anchor="end" textLength="25.2" lengthAdjust="spacingAndGlyphs">50</text>
<text x="1643.2" y="178.0" font-size="28" text-anchor="end" textLength="25.2" lengthAdjust="spacingAndGlyphs">25</text>
<text x="1643.2" y="211.4" font-size="28" text-anchor="end" textLength="12.6" lengthAdjust="spacingAndGlyphs">0</text>
<rect x="1670.5" y="57.6" width="16.0" height="144.4" fill="url(#gbar)" stroke="#0a0a0a" stroke-width="2.5"/>
<line x1="1678.5" y1="202.0" x2="1678.5" y2="206.3" stroke="#444" stroke-width="1.5" stroke-linecap="butt"/>
<rect x="1696.0" y="83.6" width="15.5" height="118.4" fill="url(#gbar)" stroke="#0a0a0a" stroke-width="2.5"/>
<line x1="1703.8" y1="202.0" x2="1703.8" y2="206.3" stroke="#444" stroke-width="1.5" stroke-linecap="butt"/>
<rect x="1721.0" y="81.9" width="15.5" height="120.1" fill="url(#gbar)" stroke="#0a0a0a" stroke-width="2.5"/>
<line x1="1728.8" y1="202.0" x2="1728.8" y2="206.3" stroke="#444" stroke-width="1.5" stroke-linecap="butt"/>
<rect x="1746.8" y="106.8" width="15.2" height="95.2" fill="url(#gbar)" stroke="#0a0a0a" stroke-width="2.5"/>
<line x1="1754.4" y1="202.0" x2="1754.4" y2="206.3" stroke="#444" stroke-width="1.5" stroke-linecap="butt"/>
<rect x="1788.5" y="57.6" width="16.5" height="144.4" fill="url(#chk)" stroke="#0a0a0a" stroke-width="2.5"/>
<line x1="1796.8" y1="202.0" x2="1796.8" y2="206.3" stroke="#444" stroke-width="1.5" stroke-linecap="butt"/>
<rect x="1814.8" y="103.1" width="15.3" height="98.9" fill="url(#chk)" stroke="#0a0a0a" stroke-width="2.5"/>
<line x1="1822.5" y1="202.0" x2="1822.5" y2="206.3" stroke="#444" stroke-width="1.5" stroke-linecap="butt"/>
<rect x="1839.8" y="101.1" width="15.9" height="100.9" fill="url(#chk)" stroke="#0a0a0a" stroke-width="2.5"/>
<line x1="1847.8" y1="202.0" x2="1847.8" y2="206.3" stroke="#444" stroke-width="1.5" stroke-linecap="butt"/>
<rect x="1865.2" y="143.1" width="15.5" height="58.9" fill="url(#chk)" stroke="#0a0a0a" stroke-width="2.5"/>
<line x1="1873.0" y1="202.0" x2="1873.0" y2="206.3" stroke="#444" stroke-width="1.5" stroke-linecap="butt"/>
<line x1="1703.8" y1="81.8" x2="1703.8" y2="83.0" stroke="#111" stroke-width="1.8" stroke-linecap="butt"/>
<line x1="1699.8" y1="81.8" x2="1707.8" y2="81.8" stroke="#111" stroke-width="1.8" stroke-linecap="butt"/>
<line x1="1728.8" y1="77.8" x2="1728.8" y2="81.3" stroke="#111" stroke-width="1.8" stroke-linecap="butt"/>
<line x1="1724.6" y1="77.8" x2="1733.0" y2="77.8" stroke="#111" stroke-width="1.8" stroke-linecap="butt"/>
<line x1="1754.5" y1="102.0" x2="1754.5" y2="106.2" stroke="#111" stroke-width="1.8" stroke-linecap="butt"/>
<line x1="1750.3" y1="102.0" x2="1758.7" y2="102.0" stroke="#111" stroke-width="1.8" stroke-linecap="butt"/>
<line x1="1822.5" y1="97.5" x2="1822.5" y2="102.5" stroke="#111" stroke-width="1.8" stroke-linecap="butt"/>
<line x1="1818.3" y1="97.5" x2="1826.7" y2="97.5" stroke="#111" stroke-width="1.8" stroke-linecap="butt"/>
<line x1="1847.8" y1="93.0" x2="1847.8" y2="100.5" stroke="#111" stroke-width="1.8" stroke-linecap="butt"/>
<line x1="1843.3" y1="93.0" x2="1852.3" y2="93.0" stroke="#111" stroke-width="1.8" stroke-linecap="butt"/>
<line x1="1873.0" y1="136.3" x2="1873.0" y2="142.5" stroke="#111" stroke-width="1.8" stroke-linecap="butt"/>
<line x1="1868.5" y1="136.3" x2="1877.5" y2="136.3" stroke="#111" stroke-width="1.8" stroke-linecap="butt"/>
<path d="M1696.3 46.5 L1696.3 29.0 L1698.3 27.3 L1748.0 27.3 L1750.0 29.0 L1750.0 65.5" fill="none" stroke="#303030" stroke-width="1.9" stroke-linejoin="round"/>
<path d="M1722.5 65.5 L1722.5 48.5 L1724.5 47.0 L1747.5 47.0" fill="none" stroke="#303030" stroke-width="1.9" stroke-linejoin="round"/>
<path d="M1819.0 85.0 L1819.0 47.8 L1821.0 46.2 L1877.5 46.2 L1879.5 47.8 L1879.5 85.0" fill="none" stroke="#303030" stroke-width="1.9" stroke-linejoin="round"/>
<path d="M1846.3 85.0 L1846.3 67.0 L1848.3 65.5 L1874.5 65.5" fill="none" stroke="#303030" stroke-width="1.9" stroke-linejoin="round"/>
<text x="1724.2" y="24.3" font-size="15.5" text-anchor="middle" textLength="22.5" lengthAdjust="spacingAndGlyphs" font-weight="bold" stroke-width="0.8">***</text>
<text x="1734.8" y="44.0" font-size="15.5" text-anchor="middle" textLength="15.0" lengthAdjust="spacingAndGlyphs" font-weight="bold" stroke-width="0.8">**</text>
<text x="1854.8" y="43.2" font-size="15.5" text-anchor="middle" textLength="15.0" lengthAdjust="spacingAndGlyphs" font-weight="bold" stroke-width="0.8">**</text>
<text x="1865.1" y="65.5" font-size="15.5" text-anchor="middle" textLength="15.0" lengthAdjust="spacingAndGlyphs" font-weight="bold" stroke-width="0.8">**</text>
<rect x="1915.2" y="56.3" width="17.0" height="8.9" rx="3" fill="#a4a4a4" stroke="#0a0a0a" stroke-width="2.7"/>
<rect x="1915.2" y="74.5" width="17.0" height="8.3" rx="3" fill="url(#chk)" stroke="#0a0a0a" stroke-width="2.7"/>
<text x="1942.2" y="64.8" font-size="23" textLength="32.8" lengthAdjust="spacingAndGlyphs">24h</text>
<text x="1942.2" y="92.0" font-size="23" textLength="32.8" lengthAdjust="spacingAndGlyphs">48h</text>
<text x="1590.0" y="236.2" font-size="26.5" textLength="71.0" lengthAdjust="spacingAndGlyphs">SAHA</text>
<text x="1626.3" y="269.5" font-size="26.5" textLength="36.0" lengthAdjust="spacingAndGlyphs">QC</text>
<text x="1680.0" y="237.2" font-size="30.0" text-anchor="middle" fill="#222" stroke="#222" stroke-width="0.60">−</text>
<text x="1706.0" y="237.2" font-size="30.0" text-anchor="middle" fill="#222" stroke="#222" stroke-width="0.60">+</text>
<text x="1729.0" y="237.2" font-size="30.0" text-anchor="middle" fill="#222" stroke="#222" stroke-width="0.60">−</text>
<text x="1756.0" y="237.2" font-size="30.0" text-anchor="middle" fill="#222" stroke="#222" stroke-width="0.60">+</text>
<text x="1797.5" y="237.2" font-size="30.0" text-anchor="middle" fill="#222" stroke="#222" stroke-width="0.60">−</text>
<text x="1822.5" y="237.2" font-size="30.0" text-anchor="middle" fill="#222" stroke="#222" stroke-width="0.60">+</text>
<text x="1847.5" y="237.2" font-size="30.0" text-anchor="middle" fill="#222" stroke="#222" stroke-width="0.60">−</text>
<text x="1874.5" y="237.2" font-size="30.0" text-anchor="middle" fill="#222" stroke="#222" stroke-width="0.60">+</text>
<text x="1680.0" y="269.8" font-size="30.0" text-anchor="middle" fill="#222" stroke="#222" stroke-width="0.60">−</text>
<text x="1706.0" y="269.8" font-size="30.0" text-anchor="middle" fill="#222" stroke="#222" stroke-width="0.60">−</text>
<text x="1729.0" y="269.8" font-size="30.0" text-anchor="middle" fill="#222" stroke="#222" stroke-width="0.60">+</text>
<text x="1756.0" y="269.8" font-size="30.0" text-anchor="middle" fill="#222" stroke="#222" stroke-width="0.60">+</text>
<text x="1797.5" y="269.8" font-size="30.0" text-anchor="middle" fill="#222" stroke="#222" stroke-width="0.60">−</text>
<text x="1822.5" y="269.8" font-size="30.0" text-anchor="middle" fill="#222" stroke="#222" stroke-width="0.60">−</text>
<text x="1847.5" y="269.8" font-size="30.0" text-anchor="middle" fill="#222" stroke="#222" stroke-width="0.60">+</text>
<text x="1874.5" y="269.8" font-size="30.0" text-anchor="middle" fill="#222" stroke="#222" stroke-width="0.60">+</text>
<text x="1748.0" y="307.6" font-size="25.5" textLength="72.3" lengthAdjust="spacingAndGlyphs">Molt-4</text>
<text x="1034.0" y="383.0" font-size="37" textLength="20.0" lengthAdjust="spacingAndGlyphs" font-weight="bold">F</text>
<text x="1228.3" y="376.5" font-size="22.5" textLength="77.3" lengthAdjust="spacingAndGlyphs">Patient 1</text>
<text x="1091.1" y="485.0" font-size="22.5" text-anchor="middle" textLength="161.1" lengthAdjust="spacingAndGlyphs" transform="rotate(-90 1091.1 485.0)">Cell viability (%)</text>
<line x1="1146.0" y1="379.0" x2="1146.0" y2="570.5" stroke="#1a1a1a" stroke-width="2.0" stroke-linecap="butt"/>
<line x1="1142.0" y1="569.5" x2="1431.5" y2="569.5" stroke="#1a1a1a" stroke-width="2.0" stroke-linecap="butt"/>
<line x1="1142.0" y1="379.5" x2="1146.0" y2="379.5" stroke="#1a1a1a" stroke-width="1.6" stroke-linecap="butt"/>
<line x1="1142.0" y1="427.0" x2="1146.0" y2="427.0" stroke="#1a1a1a" stroke-width="1.6" stroke-linecap="butt"/>
<line x1="1142.0" y1="474.5" x2="1146.0" y2="474.5" stroke="#1a1a1a" stroke-width="1.6" stroke-linecap="butt"/>
<line x1="1142.0" y1="522.0" x2="1146.0" y2="522.0" stroke="#1a1a1a" stroke-width="1.6" stroke-linecap="butt"/>
<line x1="1146.0" y1="569.5" x2="1146.0" y2="573.0" stroke="#1a1a1a" stroke-width="1.6" stroke-linecap="butt"/>
<line x1="1289.0" y1="569.5" x2="1289.0" y2="573.0" stroke="#1a1a1a" stroke-width="1.6" stroke-linecap="butt"/>
<line x1="1431.0" y1="569.5" x2="1431.0" y2="573.0" stroke="#1a1a1a" stroke-width="1.6" stroke-linecap="butt"/>
<text x="1132.3" y="394.5" font-size="23.3" text-anchor="end" textLength="32.7" lengthAdjust="spacingAndGlyphs">100</text>
<text x="1132.3" y="441.0" font-size="23.3" text-anchor="end" textLength="21.8" lengthAdjust="spacingAndGlyphs">75</text>
<text x="1132.3" y="486.5" font-size="23.3" text-anchor="end" textLength="21.8" lengthAdjust="spacingAndGlyphs">50</text>
<text x="1132.3" y="532.5" font-size="23.3" text-anchor="end" textLength="21.8" lengthAdjust="spacingAndGlyphs">25</text>
<text x="1132.3" y="577.5" font-size="23.3" text-anchor="end" textLength="10.9" lengthAdjust="spacingAndGlyphs">0</text>
<text x="1174.5" y="598.0" font-size="23" text-anchor="middle">0</text>
<text x="1309.5" y="598.0" font-size="23" text-anchor="middle">24</text>
<text x="1455.5" y="598.0" font-size="23" text-anchor="middle">48</text>
<text y="598.0" font-size="23"><tspan x="1468.2" dy="-0.8" font-size="18.5">（</tspan><tspan x="1489.8" dy="0.8">h</tspan><tspan x="1504.1" dy="-0.8" font-size="18.5">）</tspan></text>
<path d="M1146.0 412.5 L1289.0 421.0 L1431.0 420.0" fill="none" stroke="#0a0a0a" stroke-width="1.9" stroke-linejoin="miter"/>
<circle cx="1289.0" cy="421.0" r="3.9" fill="#000"/>
<circle cx="1431.0" cy="420.0" r="3.9" fill="#000"/>
<path d="M1146.0 412.5 L1289.0 466.0 L1431.0 481.0" fill="none" stroke="#0a0a0a" stroke-width="1.9" stroke-linejoin="miter"/>
<rect x="1285.1" y="462.1" width="7.8" height="7.8" fill="#000"/>
<rect x="1427.1" y="477.1" width="7.8" height="7.8" fill="#000"/>
<path d="M1146.0 412.5 L1289.0 458.5 L1431.0 473.5" fill="none" stroke="#0a0a0a" stroke-width="1.9" stroke-linejoin="miter"/>
<path d="M1284.8 462.1 L1293.2 462.1 L1289.0 454.3Z" fill="#000"/>
<path d="M1426.8 477.1 L1435.2 477.1 L1431.0 469.3Z" fill="#000"/>
<path d="M1146.0 412.5 L1289.0 493.0 L1431.0 511.0" fill="none" stroke="#0a0a0a" stroke-width="1.9" stroke-linejoin="miter"/>
<path d="M1284.8 489.4 L1293.2 489.4 L1289.0 497.2Z" fill="#000"/>
<path d="M1426.8 507.4 L1435.2 507.4 L1431.0 515.2Z" fill="#000"/>
<circle cx="1146.0" cy="412.5" r="4.2" fill="#000"/>
<line x1="1431.0" y1="411.5" x2="1431.0" y2="429.0" stroke="#111" stroke-width="2.0" stroke-linecap="butt"/>
<line x1="1427.2" y1="411.5" x2="1434.8" y2="411.5" stroke="#111" stroke-width="2.0" stroke-linecap="butt"/>
<line x1="1427.2" y1="429.0" x2="1434.8" y2="429.0" stroke="#111" stroke-width="2.0" stroke-linecap="butt"/>
<line x1="1289.0" y1="487.5" x2="1289.0" y2="498.0" stroke="#111" stroke-width="2.0" stroke-linecap="butt"/>
<line x1="1285.2" y1="487.5" x2="1292.8" y2="487.5" stroke="#111" stroke-width="2.0" stroke-linecap="butt"/>
<line x1="1285.2" y1="498.0" x2="1292.8" y2="498.0" stroke="#111" stroke-width="2.0" stroke-linecap="butt"/>
<line x1="1431.0" y1="505.0" x2="1431.0" y2="517.0" stroke="#111" stroke-width="2.0" stroke-linecap="butt"/>
<line x1="1427.2" y1="505.0" x2="1434.8" y2="505.0" stroke="#111" stroke-width="2.0" stroke-linecap="butt"/>
<line x1="1427.2" y1="517.0" x2="1434.8" y2="517.0" stroke="#111" stroke-width="2.0" stroke-linecap="butt"/>
<line x1="1157.5" y1="468.0" x2="1180.5" y2="468.0" stroke="#111" stroke-width="1.5" stroke-linecap="butt"/>
<circle cx="1169.0" cy="468.0" r="4.0" fill="#000"/>
<line x1="1157.5" y1="494.5" x2="1180.5" y2="494.5" stroke="#111" stroke-width="1.5" stroke-linecap="butt"/>
<rect x="1165.0" y="490.5" width="8.0" height="8.0" fill="#000"/>
<line x1="1157.5" y1="520.0" x2="1180.5" y2="520.0" stroke="#111" stroke-width="1.5" stroke-linecap="butt"/>
<path d="M1164.8 523.6 L1173.2 523.6 L1169.0 515.8Z" fill="#000"/>
<line x1="1157.5" y1="545.0" x2="1180.5" y2="545.0" stroke="#111" stroke-width="1.5" stroke-linecap="butt"/>
<path d="M1164.8 541.4 L1173.2 541.4 L1169.0 549.2Z" fill="#000"/>
<text x="1191.0" y="474.5" font-size="22.5" textLength="36.5" lengthAdjust="spacingAndGlyphs">Con</text>
<text x="1191.0" y="501.5" font-size="22.5" textLength="59.5" lengthAdjust="spacingAndGlyphs">SAHA</text>
<text x="1191.0" y="528.0" font-size="22.5" textLength="31.0" lengthAdjust="spacingAndGlyphs">QC</text>
<text x="1191.0" y="555.0" font-size="22.5" textLength="103.5" lengthAdjust="spacingAndGlyphs">SAHA+QC</text>
<text x="1707.8" y="376.5" font-size="22.5" textLength="77.0" lengthAdjust="spacingAndGlyphs">Patient 2</text>
<text x="1556.6" y="476.0" font-size="22.5" text-anchor="middle" textLength="160.6" lengthAdjust="spacingAndGlyphs" transform="rotate(-90 1556.6 476.0)">Cell viability (%)</text>
<line x1="1619.5" y1="379.0" x2="1619.5" y2="566.0" stroke="#1a1a1a" stroke-width="2.2" stroke-linecap="butt"/>
<line x1="1615.5" y1="565.0" x2="1897.8" y2="565.0" stroke="#1a1a1a" stroke-width="2.2" stroke-linecap="butt"/>
<line x1="1615.5" y1="379.5" x2="1619.5" y2="379.5" stroke="#1a1a1a" stroke-width="1.6" stroke-linecap="butt"/>
<line x1="1615.5" y1="426.0" x2="1619.5" y2="426.0" stroke="#1a1a1a" stroke-width="1.6" stroke-linecap="butt"/>
<line x1="1615.5" y1="472.3" x2="1619.5" y2="472.3" stroke="#1a1a1a" stroke-width="1.6" stroke-linecap="butt"/>
<line x1="1615.5" y1="518.6" x2="1619.5" y2="518.6" stroke="#1a1a1a" stroke-width="1.6" stroke-linecap="butt"/>
<line x1="1619.5" y1="565.0" x2="1619.5" y2="568.5" stroke="#1a1a1a" stroke-width="1.6" stroke-linecap="butt"/>
<line x1="1758.0" y1="565.0" x2="1758.0" y2="568.5" stroke="#1a1a1a" stroke-width="1.6" stroke-linecap="butt"/>
<line x1="1897.3" y1="565.0" x2="1897.3" y2="568.5" stroke="#1a1a1a" stroke-width="1.6" stroke-linecap="butt"/>
<text x="1603.6" y="389.0" font-size="23.3" text-anchor="end" textLength="32.7" lengthAdjust="spacingAndGlyphs">100</text>
<text x="1603.6" y="434.5" font-size="23.3" text-anchor="end" textLength="21.8" lengthAdjust="spacingAndGlyphs">75</text>
<text x="1603.6" y="480.5" font-size="23.3" text-anchor="end" textLength="21.8" lengthAdjust="spacingAndGlyphs">50</text>
<text x="1603.6" y="526.5" font-size="23.3" text-anchor="end" textLength="21.8" lengthAdjust="spacingAndGlyphs">25</text>
<text x="1603.6" y="571.5" font-size="23.3" text-anchor="end" textLength="10.9" lengthAdjust="spacingAndGlyphs">0</text>
<text x="1621.0" y="596.0" font-size="23" text-anchor="middle">0</text>
<text x="1756.0" y="596.0" font-size="23" text-anchor="middle">24</text>
<text x="1897.0" y="596.0" font-size="23" text-anchor="middle">48</text>
<text y="596.0" font-size="23"><tspan x="1909.7" dy="-0.8" font-size="18.5">（</tspan><tspan x="1931.3" dy="0.8">h</tspan><tspan x="1945.6" dy="-0.8" font-size="18.5">）</tspan></text>
<path d="M1619.5 397.0 L1758.0 406.5 L1897.3 410.5" fill="none" stroke="#0a0a0a" stroke-width="1.9" stroke-linejoin="miter"/>
<circle cx="1758.0" cy="406.5" r="3.9" fill="#000"/>
<circle cx="1897.3" cy="410.5" r="3.9" fill="#000"/>
<path d="M1619.5 397.0 L1758.0 420.5 L1897.3 452.5" fill="none" stroke="#0a0a0a" stroke-width="1.9" stroke-linejoin="miter"/>
<rect x="1754.1" y="416.6" width="7.8" height="7.8" fill="#000"/>
<rect x="1893.4" y="448.6" width="7.8" height="7.8" fill="#000"/>
<path d="M1619.5 397.0 L1758.0 426.5 L1897.3 460.0" fill="none" stroke="#0a0a0a" stroke-width="1.9" stroke-linejoin="miter"/>
<path d="M1753.8 430.1 L1762.2 430.1 L1758.0 422.3Z" fill="#000"/>
<path d="M1893.1 463.6 L1901.5 463.6 L1897.3 455.8Z" fill="#000"/>
<path d="M1619.5 397.0 L1758.0 454.0 L1897.3 485.0" fill="none" stroke="#0a0a0a" stroke-width="1.9" stroke-linejoin="miter"/>
<path d="M1753.8 450.4 L1762.2 450.4 L1758.0 458.2Z" fill="#000"/>
<path d="M1893.1 481.4 L1901.5 481.4 L1897.3 489.2Z" fill="#000"/>
<circle cx="1619.5" cy="397.0" r="4.2" fill="#000"/>
<line x1="1758.0" y1="399.0" x2="1758.0" y2="414.0" stroke="#111" stroke-width="2.0" stroke-linecap="butt"/>
<line x1="1754.2" y1="399.0" x2="1761.8" y2="399.0" stroke="#111" stroke-width="2.0" stroke-linecap="butt"/>
<line x1="1754.2" y1="414.0" x2="1761.8" y2="414.0" stroke="#111" stroke-width="2.0" stroke-linecap="butt"/>
<line x1="1758.0" y1="415.0" x2="1758.0" y2="431.0" stroke="#111" stroke-width="2.0" stroke-linecap="butt"/>
<line x1="1754.2" y1="415.0" x2="1761.8" y2="415.0" stroke="#111" stroke-width="2.0" stroke-linecap="butt"/>
<line x1="1754.2" y1="431.0" x2="1761.8" y2="431.0" stroke="#111" stroke-width="2.0" stroke-linecap="butt"/>
<line x1="1758.0" y1="450.0" x2="1758.0" y2="461.5" stroke="#111" stroke-width="2.0" stroke-linecap="butt"/>
<line x1="1754.2" y1="450.0" x2="1761.8" y2="450.0" stroke="#111" stroke-width="2.0" stroke-linecap="butt"/>
<line x1="1754.2" y1="461.5" x2="1761.8" y2="461.5" stroke="#111" stroke-width="2.0" stroke-linecap="butt"/>
<line x1="1897.3" y1="477.8" x2="1897.3" y2="490.3" stroke="#111" stroke-width="2.0" stroke-linecap="butt"/>
<line x1="1893.5" y1="477.8" x2="1901.1" y2="477.8" stroke="#111" stroke-width="2.0" stroke-linecap="butt"/>
<line x1="1893.5" y1="490.3" x2="1901.1" y2="490.3" stroke="#111" stroke-width="2.0" stroke-linecap="butt"/>
<line x1="1630.5" y1="466.0" x2="1653.5" y2="466.0" stroke="#111" stroke-width="1.5" stroke-linecap="butt"/>
<circle cx="1642.0" cy="466.0" r="4.0" fill="#000"/>
<line x1="1630.5" y1="492.0" x2="1653.5" y2="492.0" stroke="#111" stroke-width="1.5" stroke-linecap="butt"/>
<rect x="1638.0" y="488.0" width="8.0" height="8.0" fill="#000"/>
<line x1="1630.5" y1="518.0" x2="1653.5" y2="518.0" stroke="#111" stroke-width="1.5" stroke-linecap="butt"/>
<path d="M1637.8 521.6 L1646.2 521.6 L1642.0 513.8Z" fill="#000"/>
<line x1="1630.5" y1="542.0" x2="1653.5" y2="542.0" stroke="#111" stroke-width="1.5" stroke-linecap="butt"/>
<path d="M1637.8 538.4 L1646.2 538.4 L1642.0 546.2Z" fill="#000"/>
<text x="1664.5" y="473.0" font-size="22.5" textLength="36.5" lengthAdjust="spacingAndGlyphs">Con</text>
<text x="1664.5" y="499.0" font-size="22.5" textLength="59.5" lengthAdjust="spacingAndGlyphs">SAHA</text>
<text x="1664.5" y="526.0" font-size="22.5" textLength="31.0" lengthAdjust="spacingAndGlyphs">QC</text>
<text x="1664.5" y="553.5" font-size="22.5" textLength="103.5" lengthAdjust="spacingAndGlyphs">SAHA+QC</text>
<text x="1230.7" y="637.0" font-size="22.5" textLength="78.0" lengthAdjust="spacingAndGlyphs">Patient 3</text>
<text x="1091.1" y="748.0" font-size="22.5" text-anchor="middle" textLength="160.6" lengthAdjust="spacingAndGlyphs" transform="rotate(-90 1091.1 748.0)">Cell viability (%)</text>
<line x1="1150.5" y1="650.5" x2="1150.5" y2="838.5" stroke="#1a1a1a" stroke-width="2.0" stroke-linecap="butt"/>
<line x1="1146.5" y1="837.5" x2="1430.0" y2="837.5" stroke="#1a1a1a" stroke-width="2.0" stroke-linecap="butt"/>
<line x1="1146.5" y1="651.0" x2="1150.5" y2="651.0" stroke="#1a1a1a" stroke-width="1.6" stroke-linecap="butt"/>
<line x1="1146.5" y1="698.0" x2="1150.5" y2="698.0" stroke="#1a1a1a" stroke-width="1.6" stroke-linecap="butt"/>
<line x1="1146.5" y1="744.5" x2="1150.5" y2="744.5" stroke="#1a1a1a" stroke-width="1.6" stroke-linecap="butt"/>
<line x1="1146.5" y1="791.0" x2="1150.5" y2="791.0" stroke="#1a1a1a" stroke-width="1.6" stroke-linecap="butt"/>
<line x1="1150.5" y1="837.5" x2="1150.5" y2="841.0" stroke="#1a1a1a" stroke-width="1.6" stroke-linecap="butt"/>
<line x1="1290.0" y1="837.5" x2="1290.0" y2="841.0" stroke="#1a1a1a" stroke-width="1.6" stroke-linecap="butt"/>
<line x1="1429.5" y1="837.5" x2="1429.5" y2="841.0" stroke="#1a1a1a" stroke-width="1.6" stroke-linecap="butt"/>
<text x="1137.3" y="663.0" font-size="23.3" text-anchor="end" textLength="32.7" lengthAdjust="spacingAndGlyphs">100</text>
<text x="1137.3" y="709.5" font-size="23.3" text-anchor="end" textLength="21.8" lengthAdjust="spacingAndGlyphs">75</text>
<text x="1137.3" y="755.5" font-size="23.3" text-anchor="end" textLength="21.8" lengthAdjust="spacingAndGlyphs">50</text>
<text x="1137.3" y="802.0" font-size="23.3" text-anchor="end" textLength="21.8" lengthAdjust="spacingAndGlyphs">25</text>
<text x="1137.3" y="846.5" font-size="23.3" text-anchor="end" textLength="10.9" lengthAdjust="spacingAndGlyphs">0</text>
<text x="1179.5" y="867.5" font-size="23" text-anchor="middle">0</text>
<text x="1314.0" y="867.5" font-size="23" text-anchor="middle">24</text>
<text x="1455.0" y="867.5" font-size="23" text-anchor="middle">48</text>
<text y="867.5" font-size="23"><tspan x="1468.2" dy="-0.8" font-size="18.5">（</tspan><tspan x="1489.8" dy="0.8">h</tspan><tspan x="1504.1" dy="-0.8" font-size="18.5">）</tspan></text>
<path d="M1150.5 664.0 L1290.0 665.5 L1429.5 682.0" fill="none" stroke="#0a0a0a" stroke-width="1.9" stroke-linejoin="miter"/>
<circle cx="1290.0" cy="665.5" r="3.9" fill="#000"/>
<circle cx="1429.5" cy="682.0" r="3.9" fill="#000"/>
<path d="M1150.5 664.0 L1290.0 681.3 L1429.5 695.6" fill="none" stroke="#0a0a0a" stroke-width="1.9" stroke-linejoin="miter"/>
<rect x="1286.1" y="677.4" width="7.8" height="7.8" fill="#000"/>
<rect x="1425.6" y="691.7" width="7.8" height="7.8" fill="#000"/>
<path d="M1150.5 664.0 L1290.0 680.0 L1429.5 694.0" fill="none" stroke="#0a0a0a" stroke-width="1.9" stroke-linejoin="miter"/>
<path d="M1285.8 683.6 L1294.2 683.6 L1290.0 675.8Z" fill="#000"/>
<path d="M1425.3 697.6 L1433.7 697.6 L1429.5 689.8Z" fill="#000"/>
<path d="M1150.5 664.0 L1290.0 703.0 L1429.5 750.5" fill="none" stroke="#0a0a0a" stroke-width="1.9" stroke-linejoin="miter"/>
<path d="M1285.8 699.4 L1294.2 699.4 L1290.0 707.2Z" fill="#000"/>
<path d="M1425.3 746.9 L1433.7 746.9 L1429.5 754.7Z" fill="#000"/>
<circle cx="1150.5" cy="664.0" r="4.2" fill="#000"/>
<line x1="1429.5" y1="670.5" x2="1429.5" y2="692.5" stroke="#111" stroke-width="2.0" stroke-linecap="butt"/>
<line x1="1425.7" y1="670.5" x2="1433.3" y2="670.5" stroke="#111" stroke-width="2.0" stroke-linecap="butt"/>
<line x1="1425.7" y1="692.5" x2="1433.3" y2="692.5" stroke="#111" stroke-width="2.0" stroke-linecap="butt"/>
<line x1="1290.0" y1="696.3" x2="1290.0" y2="710.0" stroke="#111" stroke-width="2.0" stroke-linecap="butt"/>
<line x1="1286.2" y1="696.3" x2="1293.8" y2="696.3" stroke="#111" stroke-width="2.0" stroke-linecap="butt"/>
<line x1="1286.2" y1="710.0" x2="1293.8" y2="710.0" stroke="#111" stroke-width="2.0" stroke-linecap="butt"/>
<line x1="1429.5" y1="745.0" x2="1429.5" y2="757.0" stroke="#111" stroke-width="2.0" stroke-linecap="butt"/>
<line x1="1425.7" y1="745.0" x2="1433.3" y2="745.0" stroke="#111" stroke-width="2.0" stroke-linecap="butt"/>
<line x1="1425.7" y1="757.0" x2="1433.3" y2="757.0" stroke="#111" stroke-width="2.0" stroke-linecap="butt"/>
<line x1="1290.0" y1="675.0" x2="1290.0" y2="687.0" stroke="#111" stroke-width="2.0" stroke-linecap="butt"/>
<line x1="1286.2" y1="675.0" x2="1293.8" y2="675.0" stroke="#111" stroke-width="2.0" stroke-linecap="butt"/>
<line x1="1286.2" y1="687.0" x2="1293.8" y2="687.0" stroke="#111" stroke-width="2.0" stroke-linecap="butt"/>
<line x1="1161.5" y1="737.5" x2="1184.5" y2="737.5" stroke="#111" stroke-width="1.5" stroke-linecap="butt"/>
<circle cx="1173.0" cy="737.5" r="4.0" fill="#000"/>
<line x1="1161.5" y1="763.3" x2="1184.5" y2="763.3" stroke="#111" stroke-width="1.5" stroke-linecap="butt"/>
<rect x="1169.0" y="759.3" width="8.0" height="8.0" fill="#000"/>
<line x1="1161.5" y1="789.0" x2="1184.5" y2="789.0" stroke="#111" stroke-width="1.5" stroke-linecap="butt"/>
<path d="M1168.8 792.6 L1177.2 792.6 L1173.0 784.8Z" fill="#000"/>
<line x1="1161.5" y1="814.0" x2="1184.5" y2="814.0" stroke="#111" stroke-width="1.5" stroke-linecap="butt"/>
<path d="M1168.8 810.4 L1177.2 810.4 L1173.0 818.2Z" fill="#000"/>
<text x="1195.5" y="744.0" font-size="22.5" textLength="36.5" lengthAdjust="spacingAndGlyphs">Con</text>
<text x="1195.5" y="771.0" font-size="22.5" textLength="59.5" lengthAdjust="spacingAndGlyphs">SAHA</text>
<text x="1195.5" y="797.5" font-size="22.5" textLength="31.0" lengthAdjust="spacingAndGlyphs">QC</text>
<text x="1195.5" y="824.5" font-size="22.5" textLength="103.5" lengthAdjust="spacingAndGlyphs">SAHA+QC</text>
<text x="1729.7" y="637.0" font-size="22.5" textLength="77.5" lengthAdjust="spacingAndGlyphs">Patient 4</text>
<text x="1564.4" y="753.0" font-size="22.5" text-anchor="middle" textLength="160.6" lengthAdjust="spacingAndGlyphs" transform="rotate(-90 1564.4 753.0)">Cell viability (%)</text>
<line x1="1625.0" y1="651.0" x2="1625.0" y2="841.0" stroke="#1a1a1a" stroke-width="2.4" stroke-linecap="butt"/>
<line x1="1621.0" y1="840.0" x2="1910.5" y2="840.0" stroke="#1a1a1a" stroke-width="2.4" stroke-linecap="butt"/>
<line x1="1621.0" y1="653.0" x2="1625.0" y2="653.0" stroke="#1a1a1a" stroke-width="1.6" stroke-linecap="butt"/>
<line x1="1621.0" y1="699.8" x2="1625.0" y2="699.8" stroke="#1a1a1a" stroke-width="1.6" stroke-linecap="butt"/>
<line x1="1621.0" y1="746.5" x2="1625.0" y2="746.5" stroke="#1a1a1a" stroke-width="1.6" stroke-linecap="butt"/>
<line x1="1621.0" y1="793.3" x2="1625.0" y2="793.3" stroke="#1a1a1a" stroke-width="1.6" stroke-linecap="butt"/>
<line x1="1625.0" y1="840.0" x2="1625.0" y2="843.5" stroke="#1a1a1a" stroke-width="1.6" stroke-linecap="butt"/>
<line x1="1767.5" y1="840.0" x2="1767.5" y2="843.5" stroke="#1a1a1a" stroke-width="1.6" stroke-linecap="butt"/>
<line x1="1910.0" y1="840.0" x2="1910.0" y2="843.5" stroke="#1a1a1a" stroke-width="1.6" stroke-linecap="butt"/>
<text x="1610.2" y="664.5" font-size="23.3" text-anchor="end" textLength="32.7" lengthAdjust="spacingAndGlyphs">100</text>
<text x="1610.2" y="710.5" font-size="23.3" text-anchor="end" textLength="21.8" lengthAdjust="spacingAndGlyphs">75</text>
<text x="1610.2" y="756.7" font-size="23.3" text-anchor="end" textLength="21.8" lengthAdjust="spacingAndGlyphs">50</text>
<text x="1610.2" y="802.5" font-size="23.3" text-anchor="end" textLength="21.8" lengthAdjust="spacingAndGlyphs">25</text>
<text x="1610.2" y="848.0" font-size="23.3" text-anchor="end" textLength="10.9" lengthAdjust="spacingAndGlyphs">0</text>
<text x="1632.0" y="867.5" font-size="23" text-anchor="middle">0</text>
<text x="1767.0" y="867.5" font-size="23" text-anchor="middle">24</text>
<text x="1912.5" y="867.5" font-size="23" text-anchor="middle">48</text>
<text y="867.5" font-size="23"><tspan x="1924.7" dy="-0.8" font-size="18.5">（</tspan><tspan x="1946.3" dy="0.8">h</tspan><tspan x="1960.6" dy="-0.8" font-size="18.5">）</tspan></text>
<path d="M1625.0 653.0 L1767.5 660.5 L1910.0 667.5" fill="none" stroke="#0a0a0a" stroke-width="1.9" stroke-linejoin="miter"/>
<circle cx="1767.5" cy="660.5" r="3.9" fill="#000"/>
<circle cx="1910.0" cy="667.5" r="3.9" fill="#000"/>
<path d="M1625.0 653.0 L1767.5 669.0 L1910.0 680.0" fill="none" stroke="#0a0a0a" stroke-width="1.9" stroke-linejoin="miter"/>
<rect x="1763.6" y="665.1" width="7.8" height="7.8" fill="#000"/>
<rect x="1906.1" y="676.1" width="7.8" height="7.8" fill="#000"/>
<path d="M1625.0 653.0 L1767.5 673.5 L1910.0 691.0" fill="none" stroke="#0a0a0a" stroke-width="1.9" stroke-linejoin="miter"/>
<path d="M1763.3 677.1 L1771.7 677.1 L1767.5 669.3Z" fill="#000"/>
<path d="M1905.8 694.6 L1914.2 694.6 L1910.0 686.8Z" fill="#000"/>
<path d="M1625.0 653.0 L1767.5 695.0 L1910.0 759.5" fill="none" stroke="#0a0a0a" stroke-width="1.9" stroke-linejoin="miter"/>
<path d="M1763.3 691.4 L1771.7 691.4 L1767.5 699.2Z" fill="#000"/>
<path d="M1905.8 755.9 L1914.2 755.9 L1910.0 763.7Z" fill="#000"/>
<circle cx="1625.0" cy="653.0" r="4.2" fill="#000"/>
<line x1="1767.5" y1="690.5" x2="1767.5" y2="699.0" stroke="#111" stroke-width="2.0" stroke-linecap="butt"/>
<line x1="1763.7" y1="690.5" x2="1771.3" y2="690.5" stroke="#111" stroke-width="2.0" stroke-linecap="butt"/>
<line x1="1763.7" y1="699.0" x2="1771.3" y2="699.0" stroke="#111" stroke-width="2.0" stroke-linecap="butt"/>
<line x1="1910.0" y1="754.0" x2="1910.0" y2="765.0" stroke="#111" stroke-width="2.0" stroke-linecap="butt"/>
<line x1="1906.2" y1="754.0" x2="1913.8" y2="754.0" stroke="#111" stroke-width="2.0" stroke-linecap="butt"/>
<line x1="1906.2" y1="765.0" x2="1913.8" y2="765.0" stroke="#111" stroke-width="2.0" stroke-linecap="butt"/>
<line x1="1910.0" y1="675.0" x2="1910.0" y2="686.0" stroke="#111" stroke-width="2.0" stroke-linecap="butt"/>
<line x1="1906.2" y1="675.0" x2="1913.8" y2="675.0" stroke="#111" stroke-width="2.0" stroke-linecap="butt"/>
<line x1="1906.2" y1="686.0" x2="1913.8" y2="686.0" stroke="#111" stroke-width="2.0" stroke-linecap="butt"/>
<line x1="1641.5" y1="736.2" x2="1664.5" y2="736.2" stroke="#111" stroke-width="1.5" stroke-linecap="butt"/>
<circle cx="1653.0" cy="736.2" r="4.0" fill="#000"/>
<line x1="1641.5" y1="762.0" x2="1664.5" y2="762.0" stroke="#111" stroke-width="1.5" stroke-linecap="butt"/>
<rect x="1649.0" y="758.0" width="8.0" height="8.0" fill="#000"/>
<line x1="1641.5" y1="787.5" x2="1664.5" y2="787.5" stroke="#111" stroke-width="1.5" stroke-linecap="butt"/>
<path d="M1648.8 791.1 L1657.2 791.1 L1653.0 783.3Z" fill="#000"/>
<line x1="1641.5" y1="812.5" x2="1664.5" y2="812.5" stroke="#111" stroke-width="1.5" stroke-linecap="butt"/>
<path d="M1648.8 808.9 L1657.2 808.9 L1653.0 816.7Z" fill="#000"/>
<text x="1675.5" y="743.2" font-size="22.5" textLength="36.5" lengthAdjust="spacingAndGlyphs">Con</text>
<text x="1675.5" y="770.0" font-size="22.5" textLength="59.5" lengthAdjust="spacingAndGlyphs">SAHA</text>
<text x="1675.5" y="796.2" font-size="22.5" textLength="31.0" lengthAdjust="spacingAndGlyphs">QC</text>
<text x="1675.5" y="823.2" font-size="22.5" textLength="103.5" lengthAdjust="spacingAndGlyphs">SAHA+QC</text>
<text x="1231.0" y="941.0" font-size="39" textLength="28.5" lengthAdjust="spacingAndGlyphs" font-weight="bold">G</text>
<text x="1264.0" y="1058.0" font-size="27.5" text-anchor="middle" textLength="191.6" lengthAdjust="spacingAndGlyphs" transform="rotate(-90 1264.0 1058.0)">Cell viability (%)</text>
<line x1="1321.5" y1="934.0" x2="1321.5" y2="1165.5" stroke="#0a0a0a" stroke-width="2.4" stroke-linecap="butt"/>
<line x1="1317.5" y1="1164.6" x2="1680.5" y2="1164.6" stroke="#0a0a0a" stroke-width="2.4" stroke-linecap="butt"/>
<line x1="1317.5" y1="934.6" x2="1321.5" y2="934.6" stroke="#0a0a0a" stroke-width="1.8" stroke-linecap="butt"/>
<line x1="1317.5" y1="992.3" x2="1321.5" y2="992.3" stroke="#0a0a0a" stroke-width="1.8" stroke-linecap="butt"/>
<line x1="1317.5" y1="1050.0" x2="1321.5" y2="1050.0" stroke="#0a0a0a" stroke-width="1.8" stroke-linecap="butt"/>
<line x1="1317.5" y1="1107.3" x2="1321.5" y2="1107.3" stroke="#0a0a0a" stroke-width="1.8" stroke-linecap="butt"/>
<text x="1310.2" y="952.1" font-size="29" text-anchor="end" textLength="39.3" lengthAdjust="spacingAndGlyphs">100</text>
<text x="1310.2" y="1007.6" font-size="29" text-anchor="end" textLength="26.2" lengthAdjust="spacingAndGlyphs">75</text>
<text x="1310.2" y="1063.1" font-size="29" text-anchor="end" textLength="26.2" lengthAdjust="spacingAndGlyphs">50</text>
<text x="1310.2" y="1118.6" font-size="29" text-anchor="end" textLength="26.2" lengthAdjust="spacingAndGlyphs">25</text>
<text x="1310.2" y="1173.1" font-size="29" text-anchor="end" textLength="13.1" lengthAdjust="spacingAndGlyphs">0</text>
<g transform="translate(1333.8 950.0)">
<rect x="1.4" y="1.2" width="15.9" height="213.4" fill="url(#chkd)" stroke="#000" stroke-width="2.8"/>
</g>
<line x1="1367.4" y1="941.6" x2="1367.4" y2="949.6" stroke="#111" stroke-width="2.6" stroke-linecap="butt"/>
<line x1="1363.1" y1="941.6" x2="1371.7" y2="941.6" stroke="#111" stroke-width="2.6" stroke-linecap="butt"/>
<g transform="translate(1358.6 948.6)">
<rect x="0.6" y="0.6" width="16.4" height="215.4" fill="url(#chkl)" stroke="#a8a8a8" stroke-width="1.2"/>
</g>
<line x1="1392.1" y1="943.4" x2="1392.1" y2="950.6" stroke="#111" stroke-width="2.6" stroke-linecap="butt"/>
<line x1="1387.8" y1="943.4" x2="1396.4" y2="943.4" stroke="#111" stroke-width="2.6" stroke-linecap="butt"/>
<g transform="translate(1382.9 949.6)">
<rect x="0" y="0" width="18.3" height="215.0" fill="url(#dbar)"/>
</g>
<g transform="translate(1422.9 945.2)">
<rect x="1.4" y="1.2" width="16.0" height="218.2" fill="url(#chkd)" stroke="#000" stroke-width="2.8"/>
</g>
<line x1="1456.8" y1="941.6" x2="1456.8" y2="948.4" stroke="#111" stroke-width="2.6" stroke-linecap="butt"/>
<line x1="1452.5" y1="941.6" x2="1461.1" y2="941.6" stroke="#111" stroke-width="2.6" stroke-linecap="butt"/>
<g transform="translate(1447.6 947.4)">
<rect x="0.6" y="0.6" width="17.2" height="216.6" fill="url(#chkl)" stroke="#a8a8a8" stroke-width="1.2"/>
</g>
<g transform="translate(1472.2 950.4)">
<rect x="0" y="0" width="18.3" height="214.2" fill="url(#dbar)"/>
</g>
<line x1="1522.0" y1="949.2" x2="1522.0" y2="952.0" stroke="#111" stroke-width="2.6" stroke-linecap="butt"/>
<line x1="1517.7" y1="949.2" x2="1526.3" y2="949.2" stroke="#111" stroke-width="2.6" stroke-linecap="butt"/>
<g transform="translate(1512.6 951.0)">
<rect x="1.4" y="1.2" width="16.0" height="212.4" fill="url(#chkd)" stroke="#000" stroke-width="2.8"/>
</g>
<line x1="1546.3" y1="946.5" x2="1546.3" y2="952.6" stroke="#111" stroke-width="2.6" stroke-linecap="butt"/>
<line x1="1542.0" y1="946.5" x2="1550.6" y2="946.5" stroke="#111" stroke-width="2.6" stroke-linecap="butt"/>
<g transform="translate(1537.0 951.6)">
<rect x="0.6" y="0.6" width="17.4" height="212.4" fill="url(#chkl)" stroke="#a8a8a8" stroke-width="1.2"/>
</g>
<line x1="1570.4" y1="942.6" x2="1570.4" y2="952.6" stroke="#111" stroke-width="2.6" stroke-linecap="butt"/>
<line x1="1566.1" y1="942.6" x2="1574.7" y2="942.6" stroke="#111" stroke-width="2.6" stroke-linecap="butt"/>
<g transform="translate(1561.2 951.6)">
<rect x="0" y="0" width="18.4" height="213.0" fill="url(#dbar)"/>
</g>
<line x1="1611.2" y1="939.6" x2="1611.2" y2="945.4" stroke="#111" stroke-width="2.6" stroke-linecap="butt"/>
<line x1="1606.9" y1="939.6" x2="1615.5" y2="939.6" stroke="#111" stroke-width="2.6" stroke-linecap="butt"/>
<g transform="translate(1601.8 944.4)">
<rect x="1.4" y="1.2" width="16.0" height="219.0" fill="url(#chkd)" stroke="#000" stroke-width="2.8"/>
</g>
<line x1="1635.5" y1="947.5" x2="1635.5" y2="950.5" stroke="#111" stroke-width="2.6" stroke-linecap="butt"/>
<line x1="1631.2" y1="947.5" x2="1639.8" y2="947.5" stroke="#111" stroke-width="2.6" stroke-linecap="butt"/>
<g transform="translate(1626.2 949.5)">
<rect x="0.6" y="0.6" width="17.4" height="214.5" fill="url(#chkl)" stroke="#a8a8a8" stroke-width="1.2"/>
</g>
<line x1="1659.8" y1="944.5" x2="1659.8" y2="947.5" stroke="#111" stroke-width="2.6" stroke-linecap="butt"/>
<line x1="1655.5" y1="944.5" x2="1664.1" y2="944.5" stroke="#111" stroke-width="2.6" stroke-linecap="butt"/>
<g transform="translate(1650.6 946.5)">
<rect x="0" y="0" width="18.4" height="218.1" fill="url(#dbar)"/>
</g>
<line x1="1367.5" y1="1164.6" x2="1367.5" y2="1170.5" stroke="#111" stroke-width="1.8" stroke-linecap="butt"/>
<line x1="1456.5" y1="1164.6" x2="1456.5" y2="1170.5" stroke="#111" stroke-width="1.8" stroke-linecap="butt"/>
<line x1="1545.0" y1="1164.6" x2="1545.0" y2="1170.5" stroke="#111" stroke-width="1.8" stroke-linecap="butt"/>
<line x1="1635.0" y1="1164.6" x2="1635.0" y2="1170.5" stroke="#111" stroke-width="1.8" stroke-linecap="butt"/>
<text x="1318.7" y="1200.0" font-size="23.5" textLength="86.5" lengthAdjust="spacingAndGlyphs">PBMCs-1</text>
<text x="1413.8" y="1200.0" font-size="23.5" textLength="88.5" lengthAdjust="spacingAndGlyphs">PBMCs-2</text>
<text x="1509.8" y="1200.0" font-size="23.5" textLength="87.5" lengthAdjust="spacingAndGlyphs">PBMCs-3</text>
<text x="1605.8" y="1200.0" font-size="23.5" textLength="87.5" lengthAdjust="spacingAndGlyphs">PBMCs-4</text>
<text x="1465.8" y="1245.0" font-size="27" textLength="143.5" lengthAdjust="spacingAndGlyphs" xml:space="preserve">SAHA +  QC</text>
<g transform="translate(1703.5 944.5)"><rect x="1.3" y="1.3" width="24.5" height="11" fill="url(#chkd)" stroke="#000" stroke-width="2.6"/></g>
<g transform="translate(1703.5 972)"><rect x="0.5" y="0.5" width="26" height="12.2" fill="url(#chkl)" stroke="#a0a0a0" stroke-width="1"/></g>
<rect x="1703.6" y="997.6" width="27" height="13.2" fill="url(#dbar)"/>
<text x="1741.5" y="957.0" font-size="22.5" textLength="28.5" lengthAdjust="spacingAndGlyphs">0 h</text>
<text x="1741.5" y="986.5" font-size="22.5" textLength="33.5" lengthAdjust="spacingAndGlyphs">24h</text>
<text x="1741.5" y="1015.5" font-size="22.5" textLength="33.5" lengthAdjust="spacingAndGlyphs">48h</text>
<text x="521.3" y="628.0" font-size="38" textLength="23.5" lengthAdjust="spacingAndGlyphs" font-weight="bold">E</text>
<text x="693.3" y="653.6" font-size="25.3" textLength="64.5" lengthAdjust="spacingAndGlyphs">Jurkat</text>
<text x="543.4" y="753.0" font-size="27" text-anchor="middle" textLength="210.6" lengthAdjust="spacingAndGlyphs" transform="rotate(-90 543.4 753.0)">Combination Index</text>
<line x1="620.0" y1="753.4" x2="833.0" y2="753.4" stroke="#cfcfcf" stroke-width="2.0" stroke-linecap="butt"/>
<line x1="617.3" y1="644.5" x2="617.3" y2="862.7" stroke="#8a8a8a" stroke-width="2.3" stroke-linecap="butt"/>
<line x1="616.3" y1="861.7" x2="833.0" y2="861.7" stroke="#8a8a8a" stroke-width="2.3" stroke-linecap="butt"/>
<line x1="617.3" y1="644.5" x2="620.3" y2="644.5" stroke="#8a8a8a" stroke-width="1.4" stroke-linecap="butt"/>
<line x1="617.3" y1="699.0" x2="620.3" y2="699.0" stroke="#8a8a8a" stroke-width="1.4" stroke-linecap="butt"/>
<line x1="617.3" y1="753.4" x2="620.3" y2="753.4" stroke="#8a8a8a" stroke-width="1.4" stroke-linecap="butt"/>
<line x1="617.3" y1="807.5" x2="620.3" y2="807.5" stroke="#8a8a8a" stroke-width="1.4" stroke-linecap="butt"/>
<line x1="638.9" y1="858.7" x2="638.9" y2="861.7" stroke="#8a8a8a" stroke-width="1.4" stroke-linecap="butt"/>
<line x1="660.4" y1="858.7" x2="660.4" y2="861.7" stroke="#8a8a8a" stroke-width="1.4" stroke-linecap="butt"/>
<line x1="682.0" y1="858.7" x2="682.0" y2="861.7" stroke="#8a8a8a" stroke-width="1.4" stroke-linecap="butt"/>
<line x1="703.6" y1="858.7" x2="703.6" y2="861.7" stroke="#8a8a8a" stroke-width="1.4" stroke-linecap="butt"/>
<line x1="725.1" y1="858.7" x2="725.1" y2="861.7" stroke="#8a8a8a" stroke-width="1.4" stroke-linecap="butt"/>
<line x1="746.7" y1="858.7" x2="746.7" y2="861.7" stroke="#8a8a8a" stroke-width="1.4" stroke-linecap="butt"/>
<line x1="768.3" y1="858.7" x2="768.3" y2="861.7" stroke="#8a8a8a" stroke-width="1.4" stroke-linecap="butt"/>
<line x1="789.9" y1="858.7" x2="789.9" y2="861.7" stroke="#8a8a8a" stroke-width="1.4" stroke-linecap="butt"/>
<line x1="811.4" y1="858.7" x2="811.4" y2="861.7" stroke="#8a8a8a" stroke-width="1.4" stroke-linecap="butt"/>
<line x1="833.0" y1="858.7" x2="833.0" y2="861.7" stroke="#8a8a8a" stroke-width="1.4" stroke-linecap="butt"/>
<text x="599.5" y="662.4" font-size="28.5" text-anchor="end" textLength="13.3" lengthAdjust="spacingAndGlyphs">2</text>
<text x="599.5" y="714.6" font-size="28.5" text-anchor="end" textLength="33.0" lengthAdjust="spacingAndGlyphs">1.5</text>
<text x="599.5" y="765.5" font-size="28.5" text-anchor="end" textLength="13.3" lengthAdjust="spacingAndGlyphs">1</text>
<text x="599.5" y="818.3" font-size="28.5" text-anchor="end" textLength="33.0" lengthAdjust="spacingAndGlyphs">0.5</text>
<text x="599.5" y="869.4" font-size="28.5" text-anchor="end" textLength="33.0" lengthAdjust="spacingAndGlyphs">0.0</text>
<path d="M669.5 819.9 L673.1 816.3 L676.7 819.9 L673.1 823.5Z" fill="none" stroke="#6666e0" stroke-width="1.1"/>
<path d="M694.0 829.5 L697.6 825.9 L701.2 829.5 L697.6 833.1Z" fill="none" stroke="#6666e0" stroke-width="1.1"/>
<path d="M700.3 826.8 L703.9 823.2 L707.5 826.8 L703.9 830.4Z" fill="none" stroke="#6666e0" stroke-width="1.1"/>
<path d="M714.6 815.2 L718.2 811.6 L721.8 815.2 L718.2 818.8Z" fill="none" stroke="#6666e0" stroke-width="1.1"/>
<path d="M724.5 817.7 L728.1 814.1 L731.7 817.7 L728.1 821.3Z" fill="none" stroke="#6666e0" stroke-width="1.1"/>
<path d="M718.4 828.1 L722.0 824.5 L725.6 828.1 L722.0 831.7Z" fill="none" stroke="#6666e0" stroke-width="1.1"/>
<path d="M736.9 821.5 L740.5 817.9 L744.1 821.5 L740.5 825.1Z" fill="none" stroke="#6666e0" stroke-width="1.1"/>
<path d="M754.4 826.8 L758.0 823.2 L761.6 826.8 L758.0 830.4Z" fill="none" stroke="#6666e0" stroke-width="1.1"/>
<path d="M739.4 789.7 L743.0 786.1 L746.6 789.7 L743.0 793.3Z" fill="none" stroke="#6666e0" stroke-width="1.1"/>
<path d="M748.4 793.8 L752.0 790.2 L755.6 793.8 L752.0 797.4Z" fill="none" stroke="#6666e0" stroke-width="1.1"/>
<path d="M750.4 796.5 L754.0 792.9 L757.6 796.5 L754.0 800.1Z" fill="none" stroke="#6666e0" stroke-width="1.1"/>
<path d="M754.7 795.2 L758.3 791.6 L761.9 795.2 L758.3 798.8Z" fill="none" stroke="#6666e0" stroke-width="1.1"/>
<line x1="836.4" y1="731.4" x2="836.4" y2="656.8" stroke="#000" stroke-width="2.0" stroke-linecap="butt"/>
<path d="M827.9 669.8 L836.4 656.8 L844.9 669.8" fill="none" stroke="#000" stroke-width="2.0" stroke-linejoin="miter"/>
<line x1="836.4" y1="770.4" x2="836.4" y2="844.4" stroke="#000" stroke-width="2.0" stroke-linecap="butt"/>
<path d="M827.9 831.4 L836.4 844.4 L844.9 831.4" fill="none" stroke="#000" stroke-width="2.0" stroke-linejoin="miter"/>
<text x="848.3" y="703.0" font-size="27" textLength="137.0" lengthAdjust="spacingAndGlyphs">Antagonistic</text>
<text x="848.3" y="769.0" font-size="27" textLength="93.0" lengthAdjust="spacingAndGlyphs">Additive</text>
<text x="848.3" y="821.0" font-size="27" textLength="118.5" lengthAdjust="spacingAndGlyphs">Synergistic</text>
<text x="686.3" y="901.0" font-size="27" textLength="118.5" lengthAdjust="spacingAndGlyphs">SAHA/QC</text>
<text x="693.3" y="940.8" font-size="25.3" textLength="73.5" lengthAdjust="spacingAndGlyphs">Molt-4</text>
<text x="548.0" y="1038.7" font-size="27" text-anchor="middle" textLength="209.6" lengthAdjust="spacingAndGlyphs" transform="rotate(-90 548.0 1038.7)">Combination Index</text>
<line x1="627.0" y1="1041.4" x2="848.2" y2="1041.4" stroke="#cfcfcf" stroke-width="2.0" stroke-linecap="butt"/>
<line x1="622.0" y1="940.8" x2="622.0" y2="1143.3" stroke="#8a8a8a" stroke-width="2.3" stroke-linecap="butt"/>
<line x1="621.0" y1="1142.3" x2="848.2" y2="1142.3" stroke="#8a8a8a" stroke-width="2.3" stroke-linecap="butt"/>
<line x1="622.0" y1="940.8" x2="625.0" y2="940.8" stroke="#8a8a8a" stroke-width="1.4" stroke-linecap="butt"/>
<line x1="622.0" y1="991.0" x2="625.0" y2="991.0" stroke="#8a8a8a" stroke-width="1.4" stroke-linecap="butt"/>
<line x1="622.0" y1="1041.4" x2="625.0" y2="1041.4" stroke="#8a8a8a" stroke-width="1.4" stroke-linecap="butt"/>
<line x1="622.0" y1="1092.0" x2="625.0" y2="1092.0" stroke="#8a8a8a" stroke-width="1.4" stroke-linecap="butt"/>
<line x1="644.6" y1="1139.3" x2="644.6" y2="1142.3" stroke="#8a8a8a" stroke-width="1.4" stroke-linecap="butt"/>
<line x1="667.2" y1="1139.3" x2="667.2" y2="1142.3" stroke="#8a8a8a" stroke-width="1.4" stroke-linecap="butt"/>
<line x1="689.9" y1="1139.3" x2="689.9" y2="1142.3" stroke="#8a8a8a" stroke-width="1.4" stroke-linecap="butt"/>
<line x1="712.5" y1="1139.3" x2="712.5" y2="1142.3" stroke="#8a8a8a" stroke-width="1.4" stroke-linecap="butt"/>
<line x1="735.1" y1="1139.3" x2="735.1" y2="1142.3" stroke="#8a8a8a" stroke-width="1.4" stroke-linecap="butt"/>
<line x1="757.7" y1="1139.3" x2="757.7" y2="1142.3" stroke="#8a8a8a" stroke-width="1.4" stroke-linecap="butt"/>
<line x1="780.3" y1="1139.3" x2="780.3" y2="1142.3" stroke="#8a8a8a" stroke-width="1.4" stroke-linecap="butt"/>
<line x1="803.0" y1="1139.3" x2="803.0" y2="1142.3" stroke="#8a8a8a" stroke-width="1.4" stroke-linecap="butt"/>
<line x1="825.6" y1="1139.3" x2="825.6" y2="1142.3" stroke="#8a8a8a" stroke-width="1.4" stroke-linecap="butt"/>
<line x1="848.2" y1="1139.3" x2="848.2" y2="1142.3" stroke="#8a8a8a" stroke-width="1.4" stroke-linecap="butt"/>
<text x="605.0" y="948.5" font-size="28.5" text-anchor="end" textLength="13.3" lengthAdjust="spacingAndGlyphs">2</text>
<text x="605.0" y="1000.8" font-size="28.5" text-anchor="end" textLength="33.0" lengthAdjust="spacingAndGlyphs">1.5</text>
<text x="605.0" y="1052.1" font-size="28.5" text-anchor="end" textLength="13.3" lengthAdjust="spacingAndGlyphs">1</text>
<text x="605.0" y="1103.5" font-size="28.5" text-anchor="end" textLength="33.0" lengthAdjust="spacingAndGlyphs">0.5</text>
<text x="605.0" y="1155.8" font-size="28.5" text-anchor="end" textLength="33.0" lengthAdjust="spacingAndGlyphs">0.0</text>
<path d="M672.0 984.2 L675.6 980.6 L679.2 984.2 L675.6 987.8Z" fill="none" stroke="#6666e0" stroke-width="1.1"/>
<path d="M718.4 1036.2 L722.0 1032.6 L725.6 1036.2 L722.0 1039.8Z" fill="none" stroke="#6666e0" stroke-width="1.1"/>
<path d="M741.0 1056.2 L744.6 1052.6 L748.2 1056.2 L744.6 1059.8Z" fill="none" stroke="#6666e0" stroke-width="1.1"/>
<path d="M770.7 1047.4 L774.3 1043.8 L777.9 1047.4 L774.3 1051.0Z" fill="none" stroke="#6666e0" stroke-width="1.1"/>
<path d="M776.7 1060.6 L780.3 1057.0 L783.9 1060.6 L780.3 1064.2Z" fill="none" stroke="#6666e0" stroke-width="1.1"/>
<path d="M782.2 1081.8 L785.8 1078.2 L789.4 1081.8 L785.8 1085.4Z" fill="none" stroke="#6666e0" stroke-width="1.1"/>
<path d="M796.0 1071.6 L799.6 1068.0 L803.2 1071.6 L799.6 1075.2Z" fill="none" stroke="#6666e0" stroke-width="1.1"/>
<path d="M800.4 1075.2 L804.0 1071.6 L807.6 1075.2 L804.0 1078.8Z" fill="none" stroke="#6666e0" stroke-width="1.1"/>
<path d="M802.0 1057.6 L805.6 1054.0 L809.2 1057.6 L805.6 1061.2Z" fill="none" stroke="#6666e0" stroke-width="1.1"/>
<path d="M798.7 1043.9 L802.3 1040.3 L805.9 1043.9 L802.3 1047.5Z" fill="none" stroke="#6666e0" stroke-width="1.1"/>
<path d="M800.4 1036.4 L804.0 1032.8 L807.6 1036.4 L804.0 1040.0Z" fill="none" stroke="#6666e0" stroke-width="1.1"/>
<path d="M802.3 1018.9 L805.9 1015.3 L809.5 1018.9 L805.9 1022.5Z" fill="none" stroke="#6666e0" stroke-width="1.1"/>
<line x1="843.5" y1="1018.6" x2="843.5" y2="939.3" stroke="#000" stroke-width="2.0" stroke-linecap="butt"/>
<path d="M835.0 952.3 L843.5 939.3 L852.0 952.3" fill="none" stroke="#000" stroke-width="2.0" stroke-linejoin="miter"/>
<line x1="843.5" y1="1047.4" x2="843.5" y2="1127.0" stroke="#000" stroke-width="2.0" stroke-linecap="butt"/>
<path d="M835.0 1114.0 L843.5 1127.0 L852.0 1114.0" fill="none" stroke="#000" stroke-width="2.0" stroke-linejoin="miter"/>
<text x="857.5" y="991.6" font-size="27" textLength="136.5" lengthAdjust="spacingAndGlyphs">Antagonistic</text>
<text x="857.5" y="1053.0" font-size="27" textLength="92.5" lengthAdjust="spacingAndGlyphs">Additive</text>
<text x="857.5" y="1098.3" font-size="27" textLength="118.5" lengthAdjust="spacingAndGlyphs">Synergistic</text>
<text x="682.3" y="1178.0" font-size="27" textLength="118.0" lengthAdjust="spacingAndGlyphs">SAHA/QC</text>
<text x="4.6" y="627.8" font-size="38" textLength="24.2" lengthAdjust="spacingAndGlyphs" font-weight="bold">D</text>
<text x="164.8" y="649.5" font-size="27" textLength="72.0" lengthAdjust="spacingAndGlyphs">SAHA</text>
<line x1="105.5" y1="660.0" x2="302.5" y2="660.0" stroke="#363636" stroke-width="2.8" stroke-linecap="butt"/>
<text x="152.0" y="684.4" font-size="30.2" text-anchor="middle" fill="#222" stroke="#222" stroke-width="0.89">−</text>
<text x="254.5" y="684.4" font-size="30.2" text-anchor="middle" fill="#222" stroke="#222" stroke-width="0.69">+</text>
<line x1="54.2" y1="690.5" x2="54.2" y2="874.5" stroke="#333" stroke-width="3.0" stroke-linecap="butt"/>
<text x="35.8" y="777.5" font-size="27" text-anchor="middle" textLength="41.1" lengthAdjust="spacingAndGlyphs" transform="rotate(-90 35.8 777.5)">QC</text>
<text x="79.0" y="751.8" font-size="30.0" text-anchor="middle" fill="#222" stroke="#222" stroke-width="0.90">−</text>
<text x="79.0" y="848.8" font-size="30.0" text-anchor="middle" fill="#222" stroke="#222" stroke-width="0.70">+</text>
<text x="327.8" y="799.3" font-size="26.5" textLength="127.5" lengthAdjust="spacingAndGlyphs">Jurkat: 48 h</text>
<text x="221.8" y="904.2" font-size="26.5" textLength="59.8" lengthAdjust="spacingAndGlyphs">1 mm</text>
<rect x="228" y="910" width="47" height="4.5" fill="#c9363a"/>
<clipPath id="mc1"><rect x="90.9" y="693.3" width="106.9" height="91.0"/></clipPath>
<radialGradient id="mbg1" cx="0.55" cy="0.5" r="0.75"><stop offset="0" stop-color="#cbd8cc"/><stop offset="1" stop-color="#bccabd"/></radialGradient>
<g clip-path="url(#mc1)">
<rect x="88.9" y="691.3" width="110.9" height="95.0" fill="url(#mbg1)"/>
<g filter="url(#mb)">
<ellipse cx="97.4" cy="708.7" rx="6.7" ry="6.7" fill="#dde9dc" fill-opacity="0.9"/>
<ellipse cx="107.2" cy="705.5" rx="9.0" ry="9.0" fill="#dde9dc" fill-opacity="0.9"/>
<ellipse cx="118.6" cy="697.3" rx="7.6" ry="7.6" fill="#dde9dc" fill-opacity="0.9"/>
<ellipse cx="129.1" cy="702.2" rx="7.2" ry="7.2" fill="#dde9dc" fill-opacity="0.9"/>
<ellipse cx="123.4" cy="711.6" rx="8.5" ry="8.5" fill="#dde9dc" fill-opacity="0.9"/>
<ellipse cx="152.3" cy="696.5" rx="9.4" ry="6.7" fill="#dde9dc" fill-opacity="0.9"/>
<ellipse cx="177.9" cy="705.1" rx="9.4" ry="9.4" fill="#dde9dc" fill-opacity="0.9"/>
<ellipse cx="195.8" cy="707.5" rx="4.9" ry="6.7" fill="#dde9dc" fill-opacity="0.9"/>
<ellipse cx="95.4" cy="729.5" rx="6.7" ry="6.7" fill="#dde9dc" fill-opacity="0.9"/>
<ellipse cx="106.0" cy="728.7" rx="6.7" ry="6.7" fill="#dde9dc" fill-opacity="0.9"/>
<ellipse cx="94.6" cy="743.3" rx="6.7" ry="6.7" fill="#dde9dc" fill-opacity="0.9"/>
<ellipse cx="105.1" cy="739.2" rx="6.3" ry="6.3" fill="#dde9dc" fill-opacity="0.9"/>
<ellipse cx="103.5" cy="750.6" rx="6.7" ry="6.7" fill="#dde9dc" fill-opacity="0.9"/>
<ellipse cx="149.4" cy="738.8" rx="8.5" ry="8.5" fill="#dde9dc" fill-opacity="0.9"/>
<ellipse cx="160.4" cy="731.1" rx="7.6" ry="7.6" fill="#dde9dc" fill-opacity="0.9"/>
<ellipse cx="162.5" cy="742.5" rx="9.0" ry="9.0" fill="#dde9dc" fill-opacity="0.9"/>
<ellipse cx="180.7" cy="733.5" rx="9.4" ry="9.4" fill="#dde9dc" fill-opacity="0.9"/>
<ellipse cx="187.3" cy="741.3" rx="7.2" ry="7.2" fill="#dde9dc" fill-opacity="0.9"/>
<ellipse cx="147.4" cy="754.3" rx="8.5" ry="8.5" fill="#dde9dc" fill-opacity="0.9"/>
<ellipse cx="121.4" cy="755.5" rx="8.1" ry="8.1" fill="#dde9dc" fill-opacity="0.9"/>
<ellipse cx="110.8" cy="757.1" rx="6.7" ry="6.7" fill="#dde9dc" fill-opacity="0.9"/>
<ellipse cx="101.5" cy="762.0" rx="6.3" ry="6.3" fill="#dde9dc" fill-opacity="0.9"/>
<ellipse cx="92.1" cy="762.4" rx="3.7" ry="5.8" fill="#dde9dc" fill-opacity="0.9"/>
<ellipse cx="114.1" cy="763.6" rx="6.3" ry="6.3" fill="#dde9dc" fill-opacity="0.9"/>
<ellipse cx="121.4" cy="768.1" rx="7.6" ry="7.6" fill="#dde9dc" fill-opacity="0.9"/>
<ellipse cx="106.8" cy="770.9" rx="7.2" ry="7.2" fill="#dde9dc" fill-opacity="0.9"/>
<ellipse cx="117.3" cy="778.2" rx="8.1" ry="8.1" fill="#dde9dc" fill-opacity="0.9"/>
<ellipse cx="126.3" cy="777.4" rx="7.2" ry="7.2" fill="#dde9dc" fill-opacity="0.9"/>
<ellipse cx="98.2" cy="780.7" rx="8.1" ry="8.1" fill="#dde9dc" fill-opacity="0.9"/>
<ellipse cx="109.2" cy="779.9" rx="6.3" ry="6.3" fill="#dde9dc" fill-opacity="0.9"/>
<ellipse cx="177.5" cy="762.0" rx="8.5" ry="8.5" fill="#dde9dc" fill-opacity="0.9"/>
<ellipse cx="171.4" cy="772.1" rx="7.2" ry="7.2" fill="#dde9dc" fill-opacity="0.9"/>
<ellipse cx="182.4" cy="773.4" rx="7.2" ry="7.2" fill="#dde9dc" fill-opacity="0.9"/>
<ellipse cx="162.9" cy="779.5" rx="7.6" ry="7.6" fill="#dde9dc" fill-opacity="0.9"/>
<ellipse cx="192.9" cy="775.8" rx="7.2" ry="7.2" fill="#dde9dc" fill-opacity="0.9"/>
<ellipse cx="195.4" cy="780.7" rx="5.3" ry="5.3" fill="#dde9dc" fill-opacity="0.9"/>
<ellipse cx="191.3" cy="763.6" rx="4.1" ry="4.1" fill="url(#c_kf)" opacity="0.7"/>
<ellipse cx="138.5" cy="707.5" rx="5.5" ry="5.9" fill="url(#c_k)" opacity="0.92"/>
<ellipse cx="132.8" cy="713.2" rx="3.2" ry="3.2" fill="url(#c_k)" opacity="0.92"/>
<ellipse cx="105.1" cy="739.2" rx="4.6" ry="4.6" fill="url(#c_mj)" opacity="1.0"/>
<ellipse cx="92.1" cy="762.4" rx="2.0" ry="4.1" fill="url(#c_mj)" opacity="1.0"/>
<ellipse cx="121.4" cy="768.1" rx="5.9" ry="5.9" fill="url(#c_mj)" opacity="1.0"/>
<ellipse cx="109.2" cy="779.9" rx="4.6" ry="4.6" fill="url(#c_mj)" opacity="1.0"/>
<ellipse cx="182.4" cy="773.4" rx="5.5" ry="5.5" fill="url(#c_mj)" opacity="1.0"/>
<ellipse cx="97.4" cy="708.7" rx="5.0" ry="5.0" fill="url(#c_p)" opacity="1.0"/>
<ellipse cx="107.2" cy="705.5" rx="7.3" ry="7.3" fill="url(#c_p)" opacity="1.0"/>
<ellipse cx="118.6" cy="697.3" rx="5.9" ry="5.9" fill="url(#c_p)" opacity="1.0"/>
<ellipse cx="129.1" cy="702.2" rx="5.5" ry="5.5" fill="url(#c_p)" opacity="1.0"/>
<ellipse cx="123.4" cy="711.6" rx="6.8" ry="6.8" fill="url(#c_p)" opacity="1.0"/>
<ellipse cx="152.3" cy="696.5" rx="7.7" ry="5.0" fill="url(#c_p)" opacity="1.0"/>
<ellipse cx="177.9" cy="705.1" rx="7.7" ry="7.7" fill="url(#c_p)" opacity="1.0"/>
<ellipse cx="95.4" cy="729.5" rx="5.0" ry="5.0" fill="url(#c_p)" opacity="1.0"/>
<ellipse cx="106.0" cy="728.7" rx="5.0" ry="5.0" fill="url(#c_p)" opacity="1.0"/>
<ellipse cx="94.6" cy="743.3" rx="5.0" ry="5.0" fill="url(#c_p)" opacity="1.0"/>
<ellipse cx="103.5" cy="750.6" rx="5.0" ry="5.0" fill="url(#c_p)" opacity="1.0"/>
<ellipse cx="149.4" cy="738.8" rx="6.8" ry="6.8" fill="url(#c_p)" opacity="1.0"/>
<ellipse cx="160.4" cy="731.1" rx="5.9" ry="5.9" fill="url(#c_p)" opacity="1.0"/>
<ellipse cx="162.5" cy="742.5" rx="7.3" ry="7.3" fill="url(#c_p)" opacity="1.0"/>
<ellipse cx="180.7" cy="733.5" rx="7.7" ry="7.7" fill="url(#c_p)" opacity="1.0"/>
<ellipse cx="187.3" cy="741.3" rx="5.5" ry="5.5" fill="url(#c_p)" opacity="1.0"/>
<ellipse cx="147.4" cy="754.3" rx="6.8" ry="6.8" fill="url(#c_p)" opacity="1.0"/>
<ellipse cx="121.4" cy="755.5" rx="6.4" ry="6.4" fill="url(#c_p)" opacity="1.0"/>
<ellipse cx="110.8" cy="757.1" rx="5.0" ry="5.0" fill="url(#c_p)" opacity="1.0"/>
<ellipse cx="101.5" cy="762.0" rx="4.6" ry="4.6" fill="url(#c_p)" opacity="1.0"/>
<ellipse cx="106.8" cy="770.9" rx="5.5" ry="5.5" fill="url(#c_p)" opacity="1.0"/>
<ellipse cx="117.3" cy="778.2" rx="6.4" ry="6.4" fill="url(#c_p)" opacity="1.0"/>
<ellipse cx="126.3" cy="777.4" rx="5.5" ry="5.5" fill="url(#c_p)" opacity="1.0"/>
<ellipse cx="177.5" cy="762.0" rx="6.8" ry="6.8" fill="url(#c_p)" opacity="1.0"/>
<ellipse cx="171.4" cy="772.1" rx="5.5" ry="5.5" fill="url(#c_p)" opacity="1.0"/>
<ellipse cx="192.9" cy="775.8" rx="5.5" ry="5.5" fill="url(#c_p)" opacity="1.0"/>
<ellipse cx="195.8" cy="707.5" rx="3.2" ry="5.0" fill="url(#c_pd)" opacity="1.0"/>
<ellipse cx="114.1" cy="763.6" rx="4.6" ry="4.6" fill="url(#c_pd)" opacity="1.0"/>
<ellipse cx="98.2" cy="780.7" rx="6.4" ry="6.4" fill="url(#c_pd)" opacity="1.0"/>
<ellipse cx="162.9" cy="779.5" rx="5.9" ry="5.9" fill="url(#c_pd)" opacity="1.0"/>
<ellipse cx="195.4" cy="780.7" rx="3.6" ry="3.6" fill="url(#c_pd)" opacity="1.0"/>
</g>
<rect x="91.5" y="693.9" width="105.7" height="89.8" fill="none" stroke="#aebcae" stroke-width="1.4" stroke-opacity="0.7"/>
</g>
<clipPath id="mc2"><rect x="204.5" y="692.9" width="107.3" height="91.4"/></clipPath>
<radialGradient id="mbg2" cx="0.55" cy="0.5" r="0.75"><stop offset="0" stop-color="#c6d0c6"/><stop offset="1" stop-color="#b4bcb4"/></radialGradient>
<g clip-path="url(#mc2)">
<rect x="202.5" y="690.9" width="111.3" height="95.4" fill="url(#mbg2)"/>
<g filter="url(#mb)">
<ellipse cx="215.1" cy="696.9" rx="10.5" ry="8.3" fill="#dfe8e0" fill-opacity="0.9"/>
<ellipse cx="238.7" cy="698.6" rx="8.3" ry="8.3" fill="#dfe8e0" fill-opacity="0.9"/>
<ellipse cx="250.0" cy="696.9" rx="9.4" ry="9.4" fill="#dfe8e0" fill-opacity="0.9"/>
<ellipse cx="262.2" cy="696.9" rx="8.3" ry="8.3" fill="#dfe8e0" fill-opacity="0.9"/>
<ellipse cx="276.0" cy="694.9" rx="7.2" ry="5.0" fill="#dfe8e0" fill-opacity="0.9"/>
<ellipse cx="302.9" cy="695.7" rx="10.0" ry="7.2" fill="#dfe8e0" fill-opacity="0.9"/>
<ellipse cx="246.8" cy="705.1" rx="8.3" ry="8.3" fill="#dfe8e0" fill-opacity="0.9"/>
<ellipse cx="256.5" cy="704.3" rx="7.8" ry="7.8" fill="#dfe8e0" fill-opacity="0.9"/>
<ellipse cx="265.5" cy="709.5" rx="7.2" ry="7.2" fill="#dfe8e0" fill-opacity="0.9"/>
<ellipse cx="282.6" cy="701.4" rx="7.2" ry="7.2" fill="#dfe8e0" fill-opacity="0.9"/>
<ellipse cx="290.7" cy="705.1" rx="7.2" ry="7.2" fill="#dfe8e0" fill-opacity="0.9"/>
<ellipse cx="300.4" cy="706.7" rx="7.8" ry="7.8" fill="#dfe8e0" fill-opacity="0.9"/>
<ellipse cx="304.5" cy="716.0" rx="7.2" ry="7.2" fill="#dfe8e0" fill-opacity="0.9"/>
<ellipse cx="289.1" cy="713.2" rx="7.2" ry="7.2" fill="#dfe8e0" fill-opacity="0.9"/>
<ellipse cx="239.9" cy="712.4" rx="7.2" ry="7.2" fill="#dfe8e0" fill-opacity="0.9"/>
<ellipse cx="248.0" cy="716.5" rx="7.2" ry="7.2" fill="#dfe8e0" fill-opacity="0.9"/>
<ellipse cx="227.7" cy="718.1" rx="7.8" ry="7.8" fill="#dfe8e0" fill-opacity="0.9"/>
<ellipse cx="235.8" cy="723.4" rx="6.7" ry="6.7" fill="#dfe8e0" fill-opacity="0.9"/>
<ellipse cx="248.4" cy="724.6" rx="8.3" ry="8.3" fill="#dfe8e0" fill-opacity="0.9"/>
<ellipse cx="254.1" cy="727.0" rx="7.2" ry="7.2" fill="#dfe8e0" fill-opacity="0.9"/>
<ellipse cx="274.4" cy="714.8" rx="8.3" ry="8.3" fill="#dfe8e0" fill-opacity="0.9"/>
<ellipse cx="280.1" cy="718.1" rx="8.3" ry="8.3" fill="#dfe8e0" fill-opacity="0.9"/>
<ellipse cx="270.4" cy="723.8" rx="8.9" ry="8.9" fill="#dfe8e0" fill-opacity="0.9"/>
<ellipse cx="282.6" cy="727.8" rx="8.3" ry="8.3" fill="#dfe8e0" fill-opacity="0.9"/>
<ellipse cx="263.9" cy="731.1" rx="7.8" ry="7.8" fill="#dfe8e0" fill-opacity="0.9"/>
<ellipse cx="275.2" cy="733.5" rx="8.3" ry="8.3" fill="#dfe8e0" fill-opacity="0.9"/>
<ellipse cx="286.6" cy="738.4" rx="8.3" ry="8.3" fill="#dfe8e0" fill-opacity="0.9"/>
<ellipse cx="249.2" cy="734.3" rx="7.8" ry="7.8" fill="#dfe8e0" fill-opacity="0.9"/>
<ellipse cx="208.6" cy="736.0" rx="8.3" ry="8.3" fill="#dfe8e0" fill-opacity="0.9"/>
<ellipse cx="221.6" cy="730.3" rx="8.9" ry="8.9" fill="#dfe8e0" fill-opacity="0.9"/>
<ellipse cx="216.7" cy="738.4" rx="8.3" ry="8.3" fill="#dfe8e0" fill-opacity="0.9"/>
<ellipse cx="232.1" cy="738.4" rx="8.3" ry="8.3" fill="#dfe8e0" fill-opacity="0.9"/>
<ellipse cx="224.8" cy="744.1" rx="8.3" ry="8.3" fill="#dfe8e0" fill-opacity="0.9"/>
<ellipse cx="210.2" cy="746.5" rx="8.3" ry="8.3" fill="#dfe8e0" fill-opacity="0.9"/>
<ellipse cx="233.8" cy="747.3" rx="7.2" ry="7.2" fill="#dfe8e0" fill-opacity="0.9"/>
<ellipse cx="218.3" cy="752.2" rx="8.3" ry="8.3" fill="#dfe8e0" fill-opacity="0.9"/>
<ellipse cx="210.2" cy="756.3" rx="8.3" ry="8.3" fill="#dfe8e0" fill-opacity="0.9"/>
<ellipse cx="214.3" cy="760.4" rx="7.2" ry="7.2" fill="#dfe8e0" fill-opacity="0.9"/>
<ellipse cx="226.5" cy="753.0" rx="6.7" ry="6.7" fill="#dfe8e0" fill-opacity="0.9"/>
<ellipse cx="247.6" cy="744.9" rx="8.3" ry="8.3" fill="#dfe8e0" fill-opacity="0.9"/>
<ellipse cx="259.0" cy="741.7" rx="7.8" ry="7.8" fill="#dfe8e0" fill-opacity="0.9"/>
<ellipse cx="254.9" cy="750.6" rx="7.8" ry="7.8" fill="#dfe8e0" fill-opacity="0.9"/>
<ellipse cx="263.0" cy="751.4" rx="7.2" ry="7.2" fill="#dfe8e0" fill-opacity="0.9"/>
<ellipse cx="276.0" cy="744.9" rx="8.9" ry="8.9" fill="#dfe8e0" fill-opacity="0.9"/>
<ellipse cx="279.3" cy="749.8" rx="7.8" ry="7.8" fill="#dfe8e0" fill-opacity="0.9"/>
<ellipse cx="271.2" cy="756.3" rx="8.9" ry="8.9" fill="#dfe8e0" fill-opacity="0.9"/>
<ellipse cx="289.9" cy="754.3" rx="6.1" ry="7.8" fill="#dfe8e0" fill-opacity="0.9"/>
<ellipse cx="236.2" cy="757.1" rx="7.8" ry="7.8" fill="#dfe8e0" fill-opacity="0.9"/>
<ellipse cx="234.6" cy="765.2" rx="7.8" ry="7.8" fill="#dfe8e0" fill-opacity="0.9"/>
<ellipse cx="255.7" cy="761.2" rx="8.3" ry="8.3" fill="#dfe8e0" fill-opacity="0.9"/>
<ellipse cx="258.2" cy="766.0" rx="6.7" ry="6.7" fill="#dfe8e0" fill-opacity="0.9"/>
<ellipse cx="242.7" cy="772.1" rx="7.2" ry="7.2" fill="#dfe8e0" fill-opacity="0.9"/>
<ellipse cx="220.8" cy="772.1" rx="7.8" ry="7.8" fill="#dfe8e0" fill-opacity="0.9"/>
<ellipse cx="230.5" cy="778.2" rx="8.3" ry="8.3" fill="#dfe8e0" fill-opacity="0.9"/>
<ellipse cx="237.8" cy="781.5" rx="7.2" ry="7.2" fill="#dfe8e0" fill-opacity="0.9"/>
<ellipse cx="293.9" cy="762.0" rx="7.2" ry="7.2" fill="#dfe8e0" fill-opacity="0.9"/>
<ellipse cx="305.3" cy="762.0" rx="7.8" ry="7.8" fill="#dfe8e0" fill-opacity="0.9"/>
<ellipse cx="286.6" cy="769.3" rx="7.2" ry="7.2" fill="#dfe8e0" fill-opacity="0.9"/>
<ellipse cx="296.4" cy="772.6" rx="7.8" ry="7.8" fill="#dfe8e0" fill-opacity="0.9"/>
<ellipse cx="306.9" cy="772.6" rx="7.8" ry="7.8" fill="#dfe8e0" fill-opacity="0.9"/>
<ellipse cx="306.1" cy="767.7" rx="7.2" ry="7.2" fill="#dfe8e0" fill-opacity="0.9"/>
<ellipse cx="271.2" cy="770.9" rx="6.7" ry="6.7" fill="#dfe8e0" fill-opacity="0.9"/>
<ellipse cx="262.2" cy="773.4" rx="6.1" ry="6.1" fill="#dfe8e0" fill-opacity="0.9"/>
<ellipse cx="258.2" cy="779.1" rx="7.2" ry="7.2" fill="#dfe8e0" fill-opacity="0.9"/>
<ellipse cx="271.2" cy="779.1" rx="7.8" ry="7.8" fill="#dfe8e0" fill-opacity="0.9"/>
<ellipse cx="289.9" cy="780.7" rx="7.2" ry="7.2" fill="#dfe8e0" fill-opacity="0.9"/>
<ellipse cx="298.0" cy="782.3" rx="6.7" ry="4.5" fill="#dfe8e0" fill-opacity="0.9"/>
<ellipse cx="214.3" cy="779.1" rx="4.4" ry="4.4" fill="url(#c_kf)" opacity="0.7"/>
<ellipse cx="208.6" cy="775.8" rx="6.1" ry="6.1" fill="url(#c_k)" opacity="0.92"/>
<ellipse cx="230.5" cy="694.1" rx="2.2" ry="1.7" fill="url(#c_pl)" opacity="0.9"/>
<ellipse cx="256.5" cy="704.3" rx="6.1" ry="6.1" fill="url(#c_mj)" opacity="1.0"/>
<ellipse cx="290.7" cy="705.1" rx="5.5" ry="5.5" fill="url(#c_mj)" opacity="1.0"/>
<ellipse cx="289.1" cy="713.2" rx="5.5" ry="5.5" fill="url(#c_mj)" opacity="1.0"/>
<ellipse cx="248.0" cy="716.5" rx="5.5" ry="5.5" fill="url(#c_mj)" opacity="1.0"/>
<ellipse cx="254.1" cy="727.0" rx="5.5" ry="5.5" fill="url(#c_mj)" opacity="1.0"/>
<ellipse cx="280.1" cy="718.1" rx="6.6" ry="6.6" fill="url(#c_mj)" opacity="1.0"/>
<ellipse cx="282.6" cy="727.8" rx="6.6" ry="6.6" fill="url(#c_mj)" opacity="1.0"/>
<ellipse cx="286.6" cy="738.4" rx="6.6" ry="6.6" fill="url(#c_mj)" opacity="1.0"/>
<ellipse cx="216.7" cy="738.4" rx="6.6" ry="6.6" fill="url(#c_mj)" opacity="1.0"/>
<ellipse cx="232.1" cy="738.4" rx="6.6" ry="6.6" fill="url(#c_mj)" opacity="1.0"/>
<ellipse cx="233.8" cy="747.3" rx="5.5" ry="5.5" fill="url(#c_mj)" opacity="1.0"/>
<ellipse cx="276.0" cy="744.9" rx="7.2" ry="7.2" fill="url(#c_mj)" opacity="1.0"/>
<ellipse cx="271.2" cy="756.3" rx="7.2" ry="7.2" fill="url(#c_mj)" opacity="1.0"/>
<ellipse cx="289.9" cy="754.3" rx="4.4" ry="6.1" fill="url(#c_mj)" opacity="1.0"/>
<ellipse cx="236.2" cy="757.1" rx="6.1" ry="6.1" fill="url(#c_mj)" opacity="1.0"/>
<ellipse cx="237.8" cy="781.5" rx="5.5" ry="5.5" fill="url(#c_mj)" opacity="1.0"/>
<ellipse cx="293.9" cy="762.0" rx="5.5" ry="5.5" fill="url(#c_mj)" opacity="1.0"/>
<ellipse cx="306.1" cy="767.7" rx="5.5" ry="5.5" fill="url(#c_mj)" opacity="1.0"/>
<ellipse cx="215.1" cy="696.9" rx="8.8" ry="6.6" fill="url(#c_p)" opacity="1.0"/>
<ellipse cx="238.7" cy="698.6" rx="6.6" ry="6.6" fill="url(#c_p)" opacity="1.0"/>
<ellipse cx="250.0" cy="696.9" rx="7.7" ry="7.7" fill="url(#c_p)" opacity="1.0"/>
<ellipse cx="262.2" cy="696.9" rx="6.6" ry="6.6" fill="url(#c_p)" opacity="1.0"/>
<ellipse cx="302.9" cy="695.7" rx="8.3" ry="5.5" fill="url(#c_p)" opacity="1.0"/>
<ellipse cx="246.8" cy="705.1" rx="6.6" ry="6.6" fill="url(#c_p)" opacity="1.0"/>
<ellipse cx="265.5" cy="709.5" rx="5.5" ry="5.5" fill="url(#c_p)" opacity="1.0"/>
<ellipse cx="282.6" cy="701.4" rx="5.5" ry="5.5" fill="url(#c_p)" opacity="1.0"/>
<ellipse cx="300.4" cy="706.7" rx="6.1" ry="6.1" fill="url(#c_p)" opacity="1.0"/>
<ellipse cx="239.9" cy="712.4" rx="5.5" ry="5.5" fill="url(#c_p)" opacity="1.0"/>
<ellipse cx="227.7" cy="718.1" rx="6.1" ry="6.1" fill="url(#c_p)" opacity="1.0"/>
<ellipse cx="235.8" cy="723.4" rx="5.0" ry="5.0" fill="url(#c_p)" opacity="1.0"/>
<ellipse cx="248.4" cy="724.6" rx="6.6" ry="6.6" fill="url(#c_p)" opacity="1.0"/>
<ellipse cx="274.4" cy="714.8" rx="6.6" ry="6.6" fill="url(#c_p)" opacity="1.0"/>
<ellipse cx="270.4" cy="723.8" rx="7.2" ry="7.2" fill="url(#c_p)" opacity="1.0"/>
<ellipse cx="263.9" cy="731.1" rx="6.1" ry="6.1" fill="url(#c_p)" opacity="1.0"/>
<ellipse cx="275.2" cy="733.5" rx="6.6" ry="6.6" fill="url(#c_p)" opacity="1.0"/>
<ellipse cx="249.2" cy="734.3" rx="6.1" ry="6.1" fill="url(#c_p)" opacity="1.0"/>
<ellipse cx="208.6" cy="736.0" rx="6.6" ry="6.6" fill="url(#c_p)" opacity="1.0"/>
<ellipse cx="221.6" cy="730.3" rx="7.2" ry="7.2" fill="url(#c_p)" opacity="1.0"/>
<ellipse cx="224.8" cy="744.1" rx="6.6" ry="6.6" fill="url(#c_p)" opacity="1.0"/>
<ellipse cx="210.2" cy="746.5" rx="6.6" ry="6.6" fill="url(#c_p)" opacity="1.0"/>
<ellipse cx="218.3" cy="752.2" rx="6.6" ry="6.6" fill="url(#c_p)" opacity="1.0"/>
<ellipse cx="210.2" cy="756.3" rx="6.6" ry="6.6" fill="url(#c_p)" opacity="1.0"/>
<ellipse cx="214.3" cy="760.4" rx="5.5" ry="5.5" fill="url(#c_p)" opacity="1.0"/>
<ellipse cx="226.5" cy="753.0" rx="5.0" ry="5.0" fill="url(#c_p)" opacity="1.0"/>
<ellipse cx="247.6" cy="744.9" rx="6.6" ry="6.6" fill="url(#c_p)" opacity="1.0"/>
<ellipse cx="259.0" cy="741.7" rx="6.1" ry="6.1" fill="url(#c_p)" opacity="1.0"/>
<ellipse cx="254.9" cy="750.6" rx="6.1" ry="6.1" fill="url(#c_p)" opacity="1.0"/>
<ellipse cx="263.0" cy="751.4" rx="5.5" ry="5.5" fill="url(#c_p)" opacity="1.0"/>
<ellipse cx="279.3" cy="749.8" rx="6.1" ry="6.1" fill="url(#c_p)" opacity="1.0"/>
<ellipse cx="234.6" cy="765.2" rx="6.1" ry="6.1" fill="url(#c_p)" opacity="1.0"/>
<ellipse cx="255.7" cy="761.2" rx="6.6" ry="6.6" fill="url(#c_p)" opacity="1.0"/>
<ellipse cx="258.2" cy="766.0" rx="5.0" ry="5.0" fill="url(#c_p)" opacity="1.0"/>
<ellipse cx="242.7" cy="772.1" rx="5.5" ry="5.5" fill="url(#c_p)" opacity="1.0"/>
<ellipse cx="220.8" cy="772.1" rx="6.1" ry="6.1" fill="url(#c_p)" opacity="1.0"/>
<ellipse cx="230.5" cy="778.2" rx="6.6" ry="6.6" fill="url(#c_p)" opacity="1.0"/>
<ellipse cx="305.3" cy="762.0" rx="6.1" ry="6.1" fill="url(#c_p)" opacity="1.0"/>
<ellipse cx="286.6" cy="769.3" rx="5.5" ry="5.5" fill="url(#c_p)" opacity="1.0"/>
<ellipse cx="296.4" cy="772.6" rx="6.1" ry="6.1" fill="url(#c_p)" opacity="1.0"/>
<ellipse cx="306.9" cy="772.6" rx="6.1" ry="6.1" fill="url(#c_p)" opacity="1.0"/>
<ellipse cx="271.2" cy="770.9" rx="5.0" ry="5.0" fill="url(#c_p)" opacity="1.0"/>
<ellipse cx="262.2" cy="773.4" rx="4.4" ry="4.4" fill="url(#c_p)" opacity="1.0"/>
<ellipse cx="258.2" cy="779.1" rx="5.5" ry="5.5" fill="url(#c_p)" opacity="1.0"/>
<ellipse cx="271.2" cy="779.1" rx="6.1" ry="6.1" fill="url(#c_p)" opacity="1.0"/>
<ellipse cx="289.9" cy="780.7" rx="5.5" ry="5.5" fill="url(#c_p)" opacity="1.0"/>
<ellipse cx="276.0" cy="694.9" rx="5.5" ry="3.3" fill="url(#c_pd)" opacity="1.0"/>
<ellipse cx="304.5" cy="716.0" rx="5.5" ry="5.5" fill="url(#c_pd)" opacity="1.0"/>
<ellipse cx="298.0" cy="782.3" rx="5.0" ry="2.8" fill="url(#c_pd)" opacity="1.0"/>
</g>
</g>
<clipPath id="mc3"><rect x="90.9" y="789.3" width="106.9" height="91.4"/></clipPath>
<radialGradient id="mbg3" cx="0.55" cy="0.5" r="0.75"><stop offset="0" stop-color="#d0d9d2"/><stop offset="1" stop-color="#c3cdc6"/></radialGradient>
<g clip-path="url(#mc3)">
<rect x="88.9" y="787.3" width="110.9" height="95.4" fill="url(#mbg3)"/>
<g filter="url(#mb)">
<ellipse cx="95.4" cy="794.6" rx="8.0" ry="8.0" fill="#e4e8e6" fill-opacity="0.9"/>
<ellipse cx="102.7" cy="797.0" rx="8.6" ry="8.6" fill="#e4e8e6" fill-opacity="0.9"/>
<ellipse cx="110.8" cy="794.6" rx="8.6" ry="8.6" fill="#e4e8e6" fill-opacity="0.9"/>
<ellipse cx="108.4" cy="801.9" rx="8.0" ry="8.0" fill="#e4e8e6" fill-opacity="0.9"/>
<ellipse cx="118.1" cy="803.5" rx="8.0" ry="8.0" fill="#e4e8e6" fill-opacity="0.9"/>
<ellipse cx="99.4" cy="804.3" rx="7.0" ry="7.0" fill="#e4e8e6" fill-opacity="0.9"/>
<ellipse cx="100.3" cy="812.5" rx="7.5" ry="7.5" fill="#e4e8e6" fill-opacity="0.9"/>
<ellipse cx="112.5" cy="810.0" rx="7.5" ry="7.5" fill="#e4e8e6" fill-opacity="0.9"/>
<ellipse cx="111.6" cy="818.1" rx="8.0" ry="8.0" fill="#e4e8e6" fill-opacity="0.9"/>
<ellipse cx="119.0" cy="819.8" rx="8.0" ry="8.0" fill="#e4e8e6" fill-opacity="0.9"/>
<ellipse cx="126.3" cy="791.7" rx="5.9" ry="5.9" fill="#e4e8e6" fill-opacity="0.9"/>
<ellipse cx="137.7" cy="796.2" rx="8.6" ry="8.6" fill="#e4e8e6" fill-opacity="0.9"/>
<ellipse cx="127.9" cy="800.3" rx="4.3" ry="4.3" fill="#e4e8e6" fill-opacity="0.9"/>
<ellipse cx="161.2" cy="792.9" rx="8.0" ry="8.0" fill="#e4e8e6" fill-opacity="0.9"/>
<ellipse cx="162.0" cy="799.4" rx="9.1" ry="9.1" fill="#e4e8e6" fill-opacity="0.9"/>
<ellipse cx="168.6" cy="798.6" rx="7.0" ry="7.0" fill="#e4e8e6" fill-opacity="0.9"/>
<ellipse cx="177.5" cy="805.1" rx="8.0" ry="8.0" fill="#e4e8e6" fill-opacity="0.9"/>
<ellipse cx="184.0" cy="793.8" rx="8.6" ry="8.6" fill="#e4e8e6" fill-opacity="0.9"/>
<ellipse cx="193.8" cy="796.2" rx="7.0" ry="7.0" fill="#e4e8e6" fill-opacity="0.9"/>
<ellipse cx="93.8" cy="827.9" rx="7.0" ry="7.0" fill="#e4e8e6" fill-opacity="0.9"/>
<ellipse cx="196.2" cy="826.3" rx="4.0" ry="5.1" fill="#e4e8e6" fill-opacity="0.9"/>
<ellipse cx="188.9" cy="837.3" rx="5.9" ry="5.9" fill="#e4e8e6" fill-opacity="0.9"/>
<ellipse cx="144.2" cy="818.1" rx="7.5" ry="7.5" fill="#e4e8e6" fill-opacity="0.9"/>
<ellipse cx="153.1" cy="813.3" rx="7.5" ry="7.5" fill="#e4e8e6" fill-opacity="0.9"/>
<ellipse cx="158.8" cy="816.5" rx="7.0" ry="7.0" fill="#e4e8e6" fill-opacity="0.9"/>
<ellipse cx="147.4" cy="826.3" rx="8.6" ry="8.6" fill="#e4e8e6" fill-opacity="0.9"/>
<ellipse cx="162.0" cy="822.2" rx="7.0" ry="7.0" fill="#e4e8e6" fill-opacity="0.9"/>
<ellipse cx="166.9" cy="830.3" rx="7.0" ry="7.0" fill="#e4e8e6" fill-opacity="0.9"/>
<ellipse cx="156.4" cy="831.2" rx="5.9" ry="5.9" fill="#e4e8e6" fill-opacity="0.9"/>
<ellipse cx="151.5" cy="836.0" rx="6.5" ry="6.5" fill="#e4e8e6" fill-opacity="0.9"/>
<ellipse cx="162.0" cy="840.1" rx="7.0" ry="7.0" fill="#e4e8e6" fill-opacity="0.9"/>
<ellipse cx="155.5" cy="841.7" rx="7.0" ry="7.0" fill="#e4e8e6" fill-opacity="0.9"/>
<ellipse cx="145.8" cy="846.6" rx="7.0" ry="7.0" fill="#e4e8e6" fill-opacity="0.9"/>
<ellipse cx="115.7" cy="835.2" rx="7.0" ry="7.0" fill="#e4e8e6" fill-opacity="0.9"/>
<ellipse cx="124.7" cy="837.7" rx="8.0" ry="8.0" fill="#e4e8e6" fill-opacity="0.9"/>
<ellipse cx="132.0" cy="836.8" rx="7.5" ry="7.5" fill="#e4e8e6" fill-opacity="0.9"/>
<ellipse cx="109.2" cy="845.8" rx="7.5" ry="7.5" fill="#e4e8e6" fill-opacity="0.9"/>
<ellipse cx="119.8" cy="844.2" rx="7.5" ry="7.5" fill="#e4e8e6" fill-opacity="0.9"/>
<ellipse cx="129.5" cy="845.8" rx="7.5" ry="7.5" fill="#e4e8e6" fill-opacity="0.9"/>
<ellipse cx="136.0" cy="848.2" rx="7.0" ry="7.0" fill="#e4e8e6" fill-opacity="0.9"/>
<ellipse cx="111.6" cy="854.7" rx="7.5" ry="7.5" fill="#e4e8e6" fill-opacity="0.9"/>
<ellipse cx="120.6" cy="853.9" rx="7.5" ry="7.5" fill="#e4e8e6" fill-opacity="0.9"/>
<ellipse cx="129.5" cy="855.5" rx="7.5" ry="7.5" fill="#e4e8e6" fill-opacity="0.9"/>
<ellipse cx="117.3" cy="861.2" rx="7.0" ry="7.0" fill="#e4e8e6" fill-opacity="0.9"/>
<ellipse cx="126.3" cy="860.4" rx="7.0" ry="7.0" fill="#e4e8e6" fill-opacity="0.9"/>
<ellipse cx="140.1" cy="852.3" rx="5.9" ry="5.9" fill="#e4e8e6" fill-opacity="0.9"/>
<ellipse cx="158.8" cy="851.5" rx="8.0" ry="8.0" fill="#e4e8e6" fill-opacity="0.9"/>
<ellipse cx="168.6" cy="846.6" rx="8.0" ry="8.0" fill="#e4e8e6" fill-opacity="0.9"/>
<ellipse cx="173.4" cy="851.5" rx="7.5" ry="7.5" fill="#e4e8e6" fill-opacity="0.9"/>
<ellipse cx="165.3" cy="855.5" rx="7.0" ry="7.0" fill="#e4e8e6" fill-opacity="0.9"/>
<ellipse cx="175.9" cy="856.4" rx="7.0" ry="7.0" fill="#e4e8e6" fill-opacity="0.9"/>
<ellipse cx="181.6" cy="862.0" rx="7.5" ry="7.5" fill="#e4e8e6" fill-opacity="0.9"/>
<ellipse cx="188.9" cy="867.7" rx="7.5" ry="7.5" fill="#e4e8e6" fill-opacity="0.9"/>
<ellipse cx="196.2" cy="871.8" rx="4.0" ry="6.5" fill="#e4e8e6" fill-opacity="0.9"/>
<ellipse cx="166.1" cy="865.3" rx="8.0" ry="8.0" fill="#e4e8e6" fill-opacity="0.9"/>
<ellipse cx="173.4" cy="867.7" rx="7.5" ry="7.5" fill="#e4e8e6" fill-opacity="0.9"/>
<ellipse cx="164.5" cy="872.6" rx="7.5" ry="7.5" fill="#e4e8e6" fill-opacity="0.9"/>
<ellipse cx="175.9" cy="874.2" rx="7.0" ry="7.0" fill="#e4e8e6" fill-opacity="0.9"/>
<ellipse cx="182.4" cy="876.7" rx="7.0" ry="7.0" fill="#e4e8e6" fill-opacity="0.9"/>
<ellipse cx="163.7" cy="878.3" rx="4.9" ry="4.9" fill="#e4e8e6" fill-opacity="0.9"/>
<ellipse cx="149.0" cy="871.8" rx="7.5" ry="7.5" fill="#e4e8e6" fill-opacity="0.9"/>
<ellipse cx="145.8" cy="877.5" rx="7.0" ry="7.0" fill="#e4e8e6" fill-opacity="0.9"/>
<ellipse cx="109.2" cy="877.9" rx="7.0" ry="5.4" fill="#e4e8e6" fill-opacity="0.9"/>
<ellipse cx="107.6" cy="827.1" rx="4.8" ry="4.8" fill="url(#c_kf)" opacity="0.7"/>
<ellipse cx="132.8" cy="863.7" rx="4.8" ry="4.8" fill="url(#c_kf)" opacity="0.7"/>
<ellipse cx="140.9" cy="865.3" rx="4.2" ry="4.2" fill="url(#c_kf)" opacity="0.7"/>
<ellipse cx="145.8" cy="859.6" rx="5.3" ry="5.3" fill="url(#c_k)" opacity="0.92"/>
<ellipse cx="95.4" cy="794.6" rx="6.3" ry="6.3" fill="url(#c_mj)" opacity="1.0"/>
<ellipse cx="108.4" cy="801.9" rx="6.3" ry="6.3" fill="url(#c_mj)" opacity="1.0"/>
<ellipse cx="100.3" cy="812.5" rx="5.8" ry="5.8" fill="url(#c_mj)" opacity="1.0"/>
<ellipse cx="119.0" cy="819.8" rx="6.3" ry="6.3" fill="url(#c_mj)" opacity="1.0"/>
<ellipse cx="127.9" cy="800.3" rx="2.6" ry="2.6" fill="url(#c_mj)" opacity="1.0"/>
<ellipse cx="161.2" cy="792.9" rx="6.3" ry="6.3" fill="url(#c_mj)" opacity="1.0"/>
<ellipse cx="162.0" cy="799.4" rx="7.4" ry="7.4" fill="url(#c_mj)" opacity="1.0"/>
<ellipse cx="168.6" cy="798.6" rx="5.3" ry="5.3" fill="url(#c_mj)" opacity="1.0"/>
<ellipse cx="177.5" cy="805.1" rx="6.3" ry="6.3" fill="url(#c_mj)" opacity="1.0"/>
<ellipse cx="93.8" cy="827.9" rx="5.3" ry="5.3" fill="url(#c_mj)" opacity="1.0"/>
<ellipse cx="196.2" cy="826.3" rx="2.3" ry="3.4" fill="url(#c_mj)" opacity="1.0"/>
<ellipse cx="188.9" cy="837.3" rx="4.2" ry="4.2" fill="url(#c_mj)" opacity="1.0"/>
<ellipse cx="144.2" cy="818.1" rx="5.8" ry="5.8" fill="url(#c_mj)" opacity="1.0"/>
<ellipse cx="147.4" cy="826.3" rx="6.9" ry="6.9" fill="url(#c_mj)" opacity="1.0"/>
<ellipse cx="162.0" cy="840.1" rx="5.3" ry="5.3" fill="url(#c_mj)" opacity="1.0"/>
<ellipse cx="115.7" cy="835.2" rx="5.3" ry="5.3" fill="url(#c_mj)" opacity="1.0"/>
<ellipse cx="120.6" cy="853.9" rx="5.8" ry="5.8" fill="url(#c_mj)" opacity="1.0"/>
<ellipse cx="158.8" cy="851.5" rx="6.3" ry="6.3" fill="url(#c_mj)" opacity="1.0"/>
<ellipse cx="166.1" cy="865.3" rx="6.3" ry="6.3" fill="url(#c_mj)" opacity="1.0"/>
<ellipse cx="173.4" cy="867.7" rx="5.8" ry="5.8" fill="url(#c_mj)" opacity="1.0"/>
<ellipse cx="164.5" cy="872.6" rx="5.8" ry="5.8" fill="url(#c_mj)" opacity="1.0"/>
<ellipse cx="149.0" cy="871.8" rx="5.8" ry="5.8" fill="url(#c_mj)" opacity="1.0"/>
<ellipse cx="145.8" cy="877.5" rx="5.3" ry="5.3" fill="url(#c_mj)" opacity="1.0"/>
<ellipse cx="109.2" cy="877.9" rx="5.3" ry="3.7" fill="url(#c_mj)" opacity="1.0"/>
<ellipse cx="102.7" cy="797.0" rx="6.9" ry="6.9" fill="url(#c_p)" opacity="1.0"/>
<ellipse cx="110.8" cy="794.6" rx="6.9" ry="6.9" fill="url(#c_p)" opacity="1.0"/>
<ellipse cx="118.1" cy="803.5" rx="6.3" ry="6.3" fill="url(#c_p)" opacity="1.0"/>
<ellipse cx="99.4" cy="804.3" rx="5.3" ry="5.3" fill="url(#c_p)" opacity="1.0"/>
<ellipse cx="112.5" cy="810.0" rx="5.8" ry="5.8" fill="url(#c_p)" opacity="1.0"/>
<ellipse cx="111.6" cy="818.1" rx="6.3" ry="6.3" fill="url(#c_p)" opacity="1.0"/>
<ellipse cx="137.7" cy="796.2" rx="6.9" ry="6.9" fill="url(#c_p)" opacity="1.0"/>
<ellipse cx="184.0" cy="793.8" rx="6.9" ry="6.9" fill="url(#c_p)" opacity="1.0"/>
<ellipse cx="193.8" cy="796.2" rx="5.3" ry="5.3" fill="url(#c_p)" opacity="1.0"/>
<ellipse cx="153.1" cy="813.3" rx="5.8" ry="5.8" fill="url(#c_p)" opacity="1.0"/>
<ellipse cx="158.8" cy="816.5" rx="5.3" ry="5.3" fill="url(#c_p)" opacity="1.0"/>
<ellipse cx="162.0" cy="822.2" rx="5.3" ry="5.3" fill="url(#c_p)" opacity="1.0"/>
<ellipse cx="166.9" cy="830.3" rx="5.3" ry="5.3" fill="url(#c_p)" opacity="1.0"/>
<ellipse cx="156.4" cy="831.2" rx="4.2" ry="4.2" fill="url(#c_p)" opacity="1.0"/>
<ellipse cx="151.5" cy="836.0" rx="4.8" ry="4.8" fill="url(#c_p)" opacity="1.0"/>
<ellipse cx="155.5" cy="841.7" rx="5.3" ry="5.3" fill="url(#c_p)" opacity="1.0"/>
<ellipse cx="145.8" cy="846.6" rx="5.3" ry="5.3" fill="url(#c_p)" opacity="1.0"/>
<ellipse cx="124.7" cy="837.7" rx="6.3" ry="6.3" fill="url(#c_p)" opacity="1.0"/>
<ellipse cx="132.0" cy="836.8" rx="5.8" ry="5.8" fill="url(#c_p)" opacity="1.0"/>
<ellipse cx="109.2" cy="845.8" rx="5.8" ry="5.8" fill="url(#c_p)" opacity="1.0"/>
<ellipse cx="119.8" cy="844.2" rx="5.8" ry="5.8" fill="url(#c_p)" opacity="1.0"/>
<ellipse cx="129.5" cy="845.8" rx="5.8" ry="5.8" fill="url(#c_p)" opacity="1.0"/>
<ellipse cx="136.0" cy="848.2" rx="5.3" ry="5.3" fill="url(#c_p)" opacity="1.0"/>
<ellipse cx="111.6" cy="854.7" rx="5.8" ry="5.8" fill="url(#c_p)" opacity="1.0"/>
<ellipse cx="129.5" cy="855.5" rx="5.8" ry="5.8" fill="url(#c_p)" opacity="1.0"/>
<ellipse cx="126.3" cy="860.4" rx="5.3" ry="5.3" fill="url(#c_p)" opacity="1.0"/>
<ellipse cx="140.1" cy="852.3" rx="4.2" ry="4.2" fill="url(#c_p)" opacity="1.0"/>
<ellipse cx="168.6" cy="846.6" rx="6.3" ry="6.3" fill="url(#c_p)" opacity="1.0"/>
<ellipse cx="173.4" cy="851.5" rx="5.8" ry="5.8" fill="url(#c_p)" opacity="1.0"/>
<ellipse cx="165.3" cy="855.5" rx="5.3" ry="5.3" fill="url(#c_p)" opacity="1.0"/>
<ellipse cx="175.9" cy="856.4" rx="5.3" ry="5.3" fill="url(#c_p)" opacity="1.0"/>
<ellipse cx="181.6" cy="862.0" rx="5.8" ry="5.8" fill="url(#c_p)" opacity="1.0"/>
<ellipse cx="175.9" cy="874.2" rx="5.3" ry="5.3" fill="url(#c_p)" opacity="1.0"/>
<ellipse cx="163.7" cy="878.3" rx="3.2" ry="3.2" fill="url(#c_p)" opacity="1.0"/>
<ellipse cx="126.3" cy="791.7" rx="4.2" ry="4.2" fill="url(#c_pd)" opacity="1.0"/>
<ellipse cx="117.3" cy="861.2" rx="5.3" ry="5.3" fill="url(#c_pd)" opacity="1.0"/>
<ellipse cx="188.9" cy="867.7" rx="5.8" ry="5.8" fill="url(#c_pd)" opacity="1.0"/>
<ellipse cx="196.2" cy="871.8" rx="2.3" ry="4.8" fill="url(#c_pd)" opacity="1.0"/>
<ellipse cx="182.4" cy="876.7" rx="5.3" ry="5.3" fill="url(#c_pd)" opacity="1.0"/>
</g>
</g>
<clipPath id="mc4"><rect x="202.9" y="789.3" width="108.5" height="91.4"/></clipPath>
<radialGradient id="mbg4" cx="0.55" cy="0.5" r="0.75"><stop offset="0" stop-color="#d3ddd6"/><stop offset="1" stop-color="#c6d0c9"/></radialGradient>
<g clip-path="url(#mc4)">
<rect x="200.9" y="787.3" width="112.5" height="95.4" fill="url(#mbg4)"/>
<g filter="url(#mb)">
<ellipse cx="206.9" cy="799.4" rx="7.2" ry="7.2" fill="#e6ece8" fill-opacity="0.9"/>
<ellipse cx="216.7" cy="797.8" rx="7.7" ry="7.7" fill="#e6ece8" fill-opacity="0.9"/>
<ellipse cx="224.8" cy="793.8" rx="7.7" ry="7.7" fill="#e6ece8" fill-opacity="0.9"/>
<ellipse cx="252.5" cy="792.1" rx="7.2" ry="6.2" fill="#e6ece8" fill-opacity="0.9"/>
<ellipse cx="294.7" cy="798.6" rx="6.7" ry="6.7" fill="#e6ece8" fill-opacity="0.9"/>
<ellipse cx="302.1" cy="802.7" rx="9.6" ry="9.6" fill="#e6ece8" fill-opacity="0.9"/>
<ellipse cx="306.9" cy="794.6" rx="6.7" ry="6.7" fill="#e6ece8" fill-opacity="0.9"/>
<ellipse cx="307.8" cy="810.8" rx="7.7" ry="7.7" fill="#e6ece8" fill-opacity="0.9"/>
<ellipse cx="303.7" cy="818.1" rx="6.7" ry="6.7" fill="#e6ece8" fill-opacity="0.9"/>
<ellipse cx="218.3" cy="813.3" rx="6.7" ry="6.7" fill="#e6ece8" fill-opacity="0.9"/>
<ellipse cx="227.3" cy="808.4" rx="6.2" ry="6.2" fill="#e6ece8" fill-opacity="0.9"/>
<ellipse cx="232.1" cy="814.1" rx="6.2" ry="6.2" fill="#e6ece8" fill-opacity="0.9"/>
<ellipse cx="206.1" cy="818.1" rx="5.7" ry="5.7" fill="#e6ece8" fill-opacity="0.9"/>
<ellipse cx="211.8" cy="823.0" rx="7.2" ry="7.2" fill="#e6ece8" fill-opacity="0.9"/>
<ellipse cx="219.1" cy="827.9" rx="7.2" ry="7.2" fill="#e6ece8" fill-opacity="0.9"/>
<ellipse cx="213.4" cy="831.2" rx="7.2" ry="7.2" fill="#e6ece8" fill-opacity="0.9"/>
<ellipse cx="230.5" cy="822.2" rx="6.7" ry="6.7" fill="#e6ece8" fill-opacity="0.9"/>
<ellipse cx="237.8" cy="824.7" rx="6.2" ry="6.2" fill="#e6ece8" fill-opacity="0.9"/>
<ellipse cx="226.5" cy="828.7" rx="5.7" ry="5.7" fill="#e6ece8" fill-opacity="0.9"/>
<ellipse cx="243.5" cy="810.8" rx="6.2" ry="6.2" fill="#e6ece8" fill-opacity="0.9"/>
<ellipse cx="245.2" cy="820.6" rx="6.7" ry="6.7" fill="#e6ece8" fill-opacity="0.9"/>
<ellipse cx="254.9" cy="812.5" rx="5.7" ry="5.7" fill="#e6ece8" fill-opacity="0.9"/>
<ellipse cx="267.9" cy="816.5" rx="6.2" ry="6.2" fill="#e6ece8" fill-opacity="0.9"/>
<ellipse cx="259.8" cy="827.9" rx="6.7" ry="6.7" fill="#e6ece8" fill-opacity="0.9"/>
<ellipse cx="277.7" cy="820.6" rx="6.7" ry="6.7" fill="#e6ece8" fill-opacity="0.9"/>
<ellipse cx="280.1" cy="827.9" rx="7.2" ry="7.2" fill="#e6ece8" fill-opacity="0.9"/>
<ellipse cx="273.6" cy="832.8" rx="6.7" ry="6.7" fill="#e6ece8" fill-opacity="0.9"/>
<ellipse cx="247.6" cy="832.8" rx="5.7" ry="5.7" fill="#e6ece8" fill-opacity="0.9"/>
<ellipse cx="244.3" cy="840.1" rx="6.2" ry="6.2" fill="#e6ece8" fill-opacity="0.9"/>
<ellipse cx="233.8" cy="832.8" rx="4.2" ry="4.2" fill="#e6ece8" fill-opacity="0.9"/>
<ellipse cx="215.1" cy="845.0" rx="7.2" ry="7.2" fill="#e6ece8" fill-opacity="0.9"/>
<ellipse cx="225.6" cy="851.5" rx="7.7" ry="7.7" fill="#e6ece8" fill-opacity="0.9"/>
<ellipse cx="272.8" cy="850.7" rx="6.7" ry="6.7" fill="#e6ece8" fill-opacity="0.9"/>
<ellipse cx="286.6" cy="853.1" rx="7.7" ry="7.7" fill="#e6ece8" fill-opacity="0.9"/>
<ellipse cx="287.4" cy="840.1" rx="6.2" ry="6.2" fill="#e6ece8" fill-opacity="0.9"/>
<ellipse cx="278.5" cy="860.4" rx="4.7" ry="4.7" fill="#e6ece8" fill-opacity="0.9"/>
<ellipse cx="287.4" cy="868.6" rx="5.7" ry="7.2" fill="#e6ece8" fill-opacity="0.9"/>
<ellipse cx="206.1" cy="864.5" rx="6.2" ry="6.2" fill="#e6ece8" fill-opacity="0.9"/>
<ellipse cx="215.1" cy="867.7" rx="6.7" ry="6.7" fill="#e6ece8" fill-opacity="0.9"/>
<ellipse cx="211.8" cy="862.0" rx="5.2" ry="5.2" fill="#e6ece8" fill-opacity="0.9"/>
<ellipse cx="216.7" cy="877.5" rx="5.2" ry="5.2" fill="#e6ece8" fill-opacity="0.9"/>
<ellipse cx="258.2" cy="861.2" rx="5.7" ry="5.7" fill="#e6ece8" fill-opacity="0.9"/>
<ellipse cx="259.0" cy="870.2" rx="6.2" ry="6.2" fill="#e6ece8" fill-opacity="0.9"/>
<ellipse cx="252.5" cy="875.1" rx="7.2" ry="7.2" fill="#e6ece8" fill-opacity="0.9"/>
<ellipse cx="232.1" cy="877.5" rx="6.2" ry="4.7" fill="#e6ece8" fill-opacity="0.9"/>
<ellipse cx="240.3" cy="877.5" rx="5.7" ry="4.7" fill="#e6ece8" fill-opacity="0.9"/>
<ellipse cx="286.6" cy="878.3" rx="5.2" ry="3.7" fill="#e6ece8" fill-opacity="0.9"/>
<ellipse cx="309.4" cy="877.5" rx="4.7" ry="4.7" fill="#e6ece8" fill-opacity="0.9"/>
<ellipse cx="254.1" cy="847.4" rx="4.5" ry="4.5" fill="url(#c_kf)" opacity="0.7"/>
<ellipse cx="238.7" cy="852.3" rx="4.5" ry="4.5" fill="url(#c_kf)" opacity="0.7"/>
<ellipse cx="295.6" cy="833.6" rx="4.0" ry="4.0" fill="url(#c_kf)" opacity="0.7"/>
<ellipse cx="265.5" cy="858.8" rx="4.0" ry="4.0" fill="url(#c_kf)" opacity="0.7"/>
<ellipse cx="233.0" cy="801.9" rx="4.5" ry="4.5" fill="url(#c_ml)" opacity="0.85"/>
<ellipse cx="287.4" cy="794.6" rx="5.0" ry="5.0" fill="url(#c_ml)" opacity="0.85"/>
<ellipse cx="254.1" cy="826.3" rx="4.0" ry="4.0" fill="url(#c_k)" opacity="0.92"/>
<ellipse cx="274.4" cy="790.9" rx="3.5" ry="2.0" fill="url(#c_pl)" opacity="0.9"/>
<ellipse cx="299.6" cy="809.2" rx="5.0" ry="5.0" fill="url(#c_pl)" opacity="0.9"/>
<ellipse cx="259.0" cy="819.0" rx="5.5" ry="5.5" fill="url(#c_pl)" opacity="0.9"/>
<ellipse cx="271.2" cy="827.9" rx="4.5" ry="4.5" fill="url(#c_pl)" opacity="0.9"/>
<ellipse cx="208.6" cy="873.4" rx="5.0" ry="5.0" fill="url(#c_pl)" opacity="0.9"/>
<ellipse cx="250.0" cy="866.1" rx="5.0" ry="5.0" fill="url(#c_pl)" opacity="0.9"/>
<ellipse cx="264.7" cy="877.5" rx="3.0" ry="3.0" fill="url(#c_pl)" opacity="0.9"/>
<ellipse cx="206.9" cy="799.4" rx="5.5" ry="5.5" fill="url(#c_mj)" opacity="1.0"/>
<ellipse cx="216.7" cy="797.8" rx="6.0" ry="6.0" fill="url(#c_mj)" opacity="1.0"/>
<ellipse cx="243.5" cy="810.8" rx="4.5" ry="4.5" fill="url(#c_mj)" opacity="1.0"/>
<ellipse cx="254.9" cy="812.5" rx="4.0" ry="4.0" fill="url(#c_mj)" opacity="1.0"/>
<ellipse cx="267.9" cy="816.5" rx="4.5" ry="4.5" fill="url(#c_mj)" opacity="1.0"/>
<ellipse cx="259.8" cy="827.9" rx="5.0" ry="5.0" fill="url(#c_mj)" opacity="1.0"/>
<ellipse cx="233.8" cy="832.8" rx="2.5" ry="2.5" fill="url(#c_mj)" opacity="1.0"/>
<ellipse cx="286.6" cy="853.1" rx="6.0" ry="6.0" fill="url(#c_mj)" opacity="1.0"/>
<ellipse cx="287.4" cy="840.1" rx="4.5" ry="4.5" fill="url(#c_mj)" opacity="1.0"/>
<ellipse cx="278.5" cy="860.4" rx="3.0" ry="3.0" fill="url(#c_mj)" opacity="1.0"/>
<ellipse cx="287.4" cy="868.6" rx="4.0" ry="5.5" fill="url(#c_mj)" opacity="1.0"/>
<ellipse cx="211.8" cy="862.0" rx="3.5" ry="3.5" fill="url(#c_mj)" opacity="1.0"/>
<ellipse cx="216.7" cy="877.5" rx="3.5" ry="3.5" fill="url(#c_mj)" opacity="1.0"/>
<ellipse cx="224.8" cy="793.8" rx="6.0" ry="6.0" fill="url(#c_p)" opacity="1.0"/>
<ellipse cx="252.5" cy="792.1" rx="5.5" ry="4.5" fill="url(#c_p)" opacity="1.0"/>
<ellipse cx="294.7" cy="798.6" rx="5.0" ry="5.0" fill="url(#c_p)" opacity="1.0"/>
<ellipse cx="302.1" cy="802.7" rx="7.9" ry="7.9" fill="url(#c_p)" opacity="1.0"/>
<ellipse cx="306.9" cy="794.6" rx="5.0" ry="5.0" fill="url(#c_p)" opacity="1.0"/>
<ellipse cx="307.8" cy="810.8" rx="6.0" ry="6.0" fill="url(#c_p)" opacity="1.0"/>
<ellipse cx="303.7" cy="818.1" rx="5.0" ry="5.0" fill="url(#c_p)" opacity="1.0"/>
<ellipse cx="218.3" cy="813.3" rx="5.0" ry="5.0" fill="url(#c_p)" opacity="1.0"/>
<ellipse cx="227.3" cy="808.4" rx="4.5" ry="4.5" fill="url(#c_p)" opacity="1.0"/>
<ellipse cx="232.1" cy="814.1" rx="4.5" ry="4.5" fill="url(#c_p)" opacity="1.0"/>
<ellipse cx="211.8" cy="823.0" rx="5.5" ry="5.5" fill="url(#c_p)" opacity="1.0"/>
<ellipse cx="219.1" cy="827.9" rx="5.5" ry="5.5" fill="url(#c_p)" opacity="1.0"/>
<ellipse cx="230.5" cy="822.2" rx="5.0" ry="5.0" fill="url(#c_p)" opacity="1.0"/>
<ellipse cx="237.8" cy="824.7" rx="4.5" ry="4.5" fill="url(#c_p)" opacity="1.0"/>
<ellipse cx="226.5" cy="828.7" rx="4.0" ry="4.0" fill="url(#c_p)" opacity="1.0"/>
<ellipse cx="245.2" cy="820.6" rx="5.0" ry="5.0" fill="url(#c_p)" opacity="1.0"/>
<ellipse cx="277.7" cy="820.6" rx="5.0" ry="5.0" fill="url(#c_p)" opacity="1.0"/>
<ellipse cx="280.1" cy="827.9" rx="5.5" ry="5.5" fill="url(#c_p)" opacity="1.0"/>
<ellipse cx="273.6" cy="832.8" rx="5.0" ry="5.0" fill="url(#c_p)" opacity="1.0"/>
<ellipse cx="247.6" cy="832.8" rx="4.0" ry="4.0" fill="url(#c_p)" opacity="1.0"/>
<ellipse cx="244.3" cy="840.1" rx="4.5" ry="4.5" fill="url(#c_p)" opacity="1.0"/>
<ellipse cx="215.1" cy="845.0" rx="5.5" ry="5.5" fill="url(#c_p)" opacity="1.0"/>
<ellipse cx="225.6" cy="851.5" rx="6.0" ry="6.0" fill="url(#c_p)" opacity="1.0"/>
<ellipse cx="206.1" cy="864.5" rx="4.5" ry="4.5" fill="url(#c_p)" opacity="1.0"/>
<ellipse cx="215.1" cy="867.7" rx="5.0" ry="5.0" fill="url(#c_p)" opacity="1.0"/>
<ellipse cx="258.2" cy="861.2" rx="4.0" ry="4.0" fill="url(#c_p)" opacity="1.0"/>
<ellipse cx="259.0" cy="870.2" rx="4.5" ry="4.5" fill="url(#c_p)" opacity="1.0"/>
<ellipse cx="252.5" cy="875.1" rx="5.5" ry="5.5" fill="url(#c_p)" opacity="1.0"/>
<ellipse cx="232.1" cy="877.5" rx="4.5" ry="3.0" fill="url(#c_p)" opacity="1.0"/>
<ellipse cx="240.3" cy="877.5" rx="4.0" ry="3.0" fill="url(#c_p)" opacity="1.0"/>
<ellipse cx="286.6" cy="878.3" rx="3.5" ry="2.0" fill="url(#c_p)" opacity="1.0"/>
<ellipse cx="309.4" cy="877.5" rx="3.0" ry="3.0" fill="url(#c_p)" opacity="1.0"/>
<ellipse cx="206.1" cy="818.1" rx="4.0" ry="4.0" fill="url(#c_pd)" opacity="1.0"/>
<ellipse cx="213.4" cy="831.2" rx="5.5" ry="5.5" fill="url(#c_pd)" opacity="1.0"/>
<ellipse cx="272.8" cy="850.7" rx="5.0" ry="5.0" fill="url(#c_pd)" opacity="1.0"/>
</g>
</g>
<text x="171.3" y="955.0" font-size="27" textLength="72.5" lengthAdjust="spacingAndGlyphs">SAHA</text>
<line x1="101.0" y1="964.5" x2="315.5" y2="964.5" stroke="#363636" stroke-width="3.3" stroke-linecap="butt"/>
<text x="160.5" y="989.3" font-size="30.2" text-anchor="middle" fill="#222" stroke="#222" stroke-width="0.89">−</text>
<text x="263.0" y="989.3" font-size="30.2" text-anchor="middle" fill="#222" stroke="#222" stroke-width="0.69">+</text>
<line x1="57.0" y1="996.0" x2="57.0" y2="1191.0" stroke="#333" stroke-width="3.0" stroke-linecap="butt"/>
<text x="44.8" y="1081.0" font-size="27" text-anchor="middle" textLength="41.1" lengthAdjust="spacingAndGlyphs" transform="rotate(-90 44.8 1081.0)">QC</text>
<text x="85.0" y="1053.2" font-size="30.0" text-anchor="middle" fill="#222" stroke="#222" stroke-width="0.90">−</text>
<text x="85.0" y="1150.8" font-size="30.0" text-anchor="middle" fill="#222" stroke="#222" stroke-width="0.70">+</text>
<text x="330.3" y="1110.3" font-size="26.5" textLength="136.0" lengthAdjust="spacingAndGlyphs">Molt-4: 24 h</text>
<text x="236.3" y="1218.7" font-size="26.5" textLength="60.0" lengthAdjust="spacingAndGlyphs">1 mm</text>
<rect x="241" y="1226" width="46.5" height="4.5" fill="#c9363a"/>
<clipPath id="mc5"><rect x="96.5" y="998.1" width="107.7" height="95.4"/></clipPath>
<radialGradient id="mbg5" cx="0.55" cy="0.5" r="0.75"><stop offset="0" stop-color="#dbe8dc"/><stop offset="1" stop-color="#c6d6c8"/></radialGradient>
<g clip-path="url(#mc5)">
<rect x="94.5" y="996.1" width="111.7" height="99.4" fill="url(#mbg5)"/>
<g filter="url(#mb)">
<ellipse cx="105.9" cy="1002.6" rx="7.8" ry="7.8" fill="#e6f0e4" fill-opacity="0.9"/>
<ellipse cx="149.3" cy="1008.7" rx="8.2" ry="8.2" fill="#e6f0e4" fill-opacity="0.9"/>
<ellipse cx="159.1" cy="1009.9" rx="6.8" ry="6.8" fill="#e6f0e4" fill-opacity="0.9"/>
<ellipse cx="168.0" cy="1010.3" rx="7.8" ry="7.8" fill="#e6f0e4" fill-opacity="0.9"/>
<ellipse cx="178.6" cy="1015.2" rx="7.8" ry="7.8" fill="#e6f0e4" fill-opacity="0.9"/>
<ellipse cx="201.8" cy="1015.6" rx="5.9" ry="7.3" fill="#e6f0e4" fill-opacity="0.9"/>
<ellipse cx="109.1" cy="1028.2" rx="7.8" ry="7.8" fill="#e6f0e4" fill-opacity="0.9"/>
<ellipse cx="117.6" cy="1033.5" rx="6.8" ry="6.8" fill="#e6f0e4" fill-opacity="0.9"/>
<ellipse cx="125.0" cy="1029.0" rx="6.8" ry="6.8" fill="#e6f0e4" fill-opacity="0.9"/>
<ellipse cx="121.3" cy="1042.4" rx="8.2" ry="8.2" fill="#e6f0e4" fill-opacity="0.9"/>
<ellipse cx="125.4" cy="1052.6" rx="6.8" ry="6.8" fill="#e6f0e4" fill-opacity="0.9"/>
<ellipse cx="170.5" cy="1045.3" rx="7.8" ry="7.8" fill="#e6f0e4" fill-opacity="0.9"/>
<ellipse cx="177.8" cy="1043.2" rx="6.8" ry="6.8" fill="#e6f0e4" fill-opacity="0.9"/>
<ellipse cx="184.7" cy="1045.3" rx="7.3" ry="7.3" fill="#e6f0e4" fill-opacity="0.9"/>
<ellipse cx="171.3" cy="1062.7" rx="7.3" ry="7.3" fill="#e6f0e4" fill-opacity="0.9"/>
<ellipse cx="161.5" cy="1070.9" rx="6.8" ry="6.8" fill="#e6f0e4" fill-opacity="0.9"/>
<ellipse cx="170.1" cy="1072.9" rx="6.4" ry="6.4" fill="#e6f0e4" fill-opacity="0.9"/>
<ellipse cx="164.8" cy="1081.0" rx="6.8" ry="6.8" fill="#e6f0e4" fill-opacity="0.9"/>
<ellipse cx="159.1" cy="1089.6" rx="6.4" ry="6.4" fill="#e6f0e4" fill-opacity="0.9"/>
<ellipse cx="129.0" cy="1023.7" rx="14.0" ry="7.0" fill="url(#c_kf)" opacity="0.7" transform="rotate(25 129.0 1023.7)"/>
<ellipse cx="124.1" cy="1018.8" rx="8.4" ry="5.6" fill="url(#c_kf)" opacity="0.7" transform="rotate(25 124.1 1018.8)"/>
<ellipse cx="193.3" cy="1024.5" rx="7.5" ry="7.5" fill="url(#c_kp)" opacity="0.75"/>
<ellipse cx="102.2" cy="1072.5" rx="7.9" ry="7.9" fill="url(#c_kp)" opacity="0.75"/>
<ellipse cx="191.6" cy="1026.1" rx="4.7" ry="4.7" fill="url(#c_ml)" opacity="0.85"/>
<ellipse cx="101.4" cy="1073.3" rx="4.7" ry="4.7" fill="url(#c_ml)" opacity="0.85"/>
<ellipse cx="117.6" cy="1027.8" rx="2.3" ry="2.3" fill="url(#c_b)" opacity="0.85"/>
<ellipse cx="165.6" cy="1068.4" rx="2.3" ry="2.3" fill="url(#c_b)" opacity="0.85"/>
<ellipse cx="177.8" cy="1043.2" rx="5.1" ry="5.1" fill="url(#c_m)" opacity="1.0"/>
<ellipse cx="159.1" cy="1089.6" rx="4.7" ry="4.7" fill="url(#c_m)" opacity="1.0"/>
<ellipse cx="105.9" cy="1002.6" rx="6.1" ry="6.1" fill="url(#c_p)" opacity="1.0"/>
<ellipse cx="149.3" cy="1008.7" rx="6.5" ry="6.5" fill="url(#c_p)" opacity="1.0"/>
<ellipse cx="159.1" cy="1009.9" rx="5.1" ry="5.1" fill="url(#c_p)" opacity="1.0"/>
<ellipse cx="168.0" cy="1010.3" rx="6.1" ry="6.1" fill="url(#c_p)" opacity="1.0"/>
<ellipse cx="178.6" cy="1015.2" rx="6.1" ry="6.1" fill="url(#c_p)" opacity="1.0"/>
<ellipse cx="201.8" cy="1015.6" rx="4.2" ry="5.6" fill="url(#c_p)" opacity="1.0"/>
<ellipse cx="109.1" cy="1028.2" rx="6.1" ry="6.1" fill="url(#c_p)" opacity="1.0"/>
<ellipse cx="117.6" cy="1033.5" rx="5.1" ry="5.1" fill="url(#c_p)" opacity="1.0"/>
<ellipse cx="125.0" cy="1029.0" rx="5.1" ry="5.1" fill="url(#c_p)" opacity="1.0"/>
<ellipse cx="121.3" cy="1042.4" rx="6.5" ry="6.5" fill="url(#c_p)" opacity="1.0"/>
<ellipse cx="125.4" cy="1052.6" rx="5.1" ry="5.1" fill="url(#c_p)" opacity="1.0"/>
<ellipse cx="170.5" cy="1045.3" rx="6.1" ry="6.1" fill="url(#c_p)" opacity="1.0"/>
<ellipse cx="184.7" cy="1045.3" rx="5.6" ry="5.6" fill="url(#c_p)" opacity="1.0"/>
<ellipse cx="171.3" cy="1062.7" rx="5.6" ry="5.6" fill="url(#c_p)" opacity="1.0"/>
<ellipse cx="161.5" cy="1070.9" rx="5.1" ry="5.1" fill="url(#c_p)" opacity="1.0"/>
<ellipse cx="170.1" cy="1072.9" rx="4.7" ry="4.7" fill="url(#c_p)" opacity="1.0"/>
<ellipse cx="164.8" cy="1081.0" rx="5.1" ry="5.1" fill="url(#c_p)" opacity="1.0"/>
</g>
<rect x="97.1" y="998.7" width="106.5" height="94.2" fill="none" stroke="#a9b9aa" stroke-width="1.4" stroke-opacity="0.7"/>
</g>
<clipPath id="mc6"><rect x="210.5" y="998.5" width="108.1" height="94.8"/></clipPath>
<radialGradient id="mbg6" cx="0.55" cy="0.5" r="0.75"><stop offset="0" stop-color="#bfc3bf"/><stop offset="1" stop-color="#aeb3ae"/></radialGradient>
<g clip-path="url(#mc6)">
<rect x="208.5" y="996.5" width="112.1" height="98.8" fill="url(#mbg6)"/>
<g filter="url(#mb)">
<ellipse cx="260.5" cy="1015.6" rx="7.3" ry="9.9" fill="#cfd2d0" fill-opacity="0.9"/>
<ellipse cx="273.9" cy="1044.8" rx="6.4" ry="9.2" fill="#cfd2d0" fill-opacity="0.9"/>
<ellipse cx="271.1" cy="1058.3" rx="7.8" ry="7.8" fill="#cfd2d0" fill-opacity="0.9"/>
<ellipse cx="277.6" cy="1066.0" rx="6.4" ry="6.4" fill="#cfd2d0" fill-opacity="0.9"/>
<ellipse cx="273.5" cy="1073.3" rx="6.8" ry="6.8" fill="#cfd2d0" fill-opacity="0.9"/>
<ellipse cx="284.1" cy="1072.9" rx="6.8" ry="6.8" fill="#cfd2d0" fill-opacity="0.9"/>
<ellipse cx="290.2" cy="1080.6" rx="6.4" ry="6.4" fill="#cfd2d0" fill-opacity="0.9"/>
<ellipse cx="269.0" cy="1084.7" rx="7.8" ry="7.8" fill="#cfd2d0" fill-opacity="0.9"/>
<ellipse cx="262.5" cy="1081.4" rx="5.4" ry="5.4" fill="#cfd2d0" fill-opacity="0.9"/>
<ellipse cx="260.9" cy="1054.6" rx="5.0" ry="5.0" fill="#cfd2d0" fill-opacity="0.9"/>
<ellipse cx="222.7" cy="1056.2" rx="6.8" ry="6.8" fill="#cfd2d0" fill-opacity="0.9"/>
<ellipse cx="240.6" cy="1061.1" rx="7.3" ry="7.3" fill="#cfd2d0" fill-opacity="0.9"/>
<ellipse cx="241.4" cy="1074.9" rx="6.8" ry="6.8" fill="#cfd2d0" fill-opacity="0.9"/>
<ellipse cx="239.0" cy="1000.5" rx="8.7" ry="4.0" fill="#cfd2d0" fill-opacity="0.9"/>
<ellipse cx="299.9" cy="1058.7" rx="6.8" ry="6.8" fill="#cfd2d0" fill-opacity="0.9"/>
<ellipse cx="212.5" cy="1037.5" rx="4.5" ry="5.4" fill="#cfd2d0" fill-opacity="0.9"/>
<ellipse cx="312.9" cy="1034.3" rx="7.9" ry="7.9" fill="url(#c_kp)" opacity="0.75"/>
<ellipse cx="246.3" cy="1047.3" rx="6.5" ry="6.5" fill="url(#c_kf)" opacity="0.7"/>
<ellipse cx="256.0" cy="1065.2" rx="9.8" ry="9.8" fill="url(#c_kf)" opacity="0.7"/>
<ellipse cx="233.3" cy="1055.4" rx="6.1" ry="6.1" fill="url(#c_kp)" opacity="0.75"/>
<ellipse cx="221.9" cy="1074.1" rx="5.1" ry="5.1" fill="url(#c_kp)" opacity="0.75"/>
<ellipse cx="279.6" cy="1081.4" rx="4.7" ry="4.7" fill="url(#c_mr)" opacity="0.95"/>
<ellipse cx="223.5" cy="1065.2" rx="6.5" ry="6.5" fill="url(#c_mr)" opacity="0.95"/>
<ellipse cx="237.3" cy="1082.2" rx="5.6" ry="5.6" fill="url(#c_mr)" opacity="0.95"/>
<ellipse cx="251.2" cy="1029.4" rx="7.9" ry="13.1" fill="url(#c_mr)" opacity="0.95" transform="rotate(-40 251.2 1029.4)"/>
<ellipse cx="274.7" cy="1022.1" rx="7.5" ry="6.5" fill="url(#c_mr)" opacity="0.95"/>
<ellipse cx="278.0" cy="1003.4" rx="7.9" ry="5.6" fill="url(#c_mr)" opacity="0.95"/>
<ellipse cx="315.4" cy="1012.3" rx="5.6" ry="12.2" fill="url(#c_mr)" opacity="0.95"/>
<ellipse cx="283.7" cy="1047.3" rx="6.1" ry="11.2" fill="url(#c_mr)" opacity="0.95" transform="rotate(-20 283.7 1047.3)"/>
<ellipse cx="304.8" cy="1050.5" rx="8.9" ry="6.5" fill="url(#c_mr)" opacity="0.95"/>
<ellipse cx="312.1" cy="1083.1" rx="8.9" ry="10.8" fill="url(#c_mr)" opacity="0.95"/>
<ellipse cx="239.0" cy="1000.5" rx="7.0" ry="2.3" fill="url(#c_md)" opacity="1.0"/>
<ellipse cx="299.9" cy="1058.7" rx="5.1" ry="5.1" fill="url(#c_md)" opacity="1.0"/>
<ellipse cx="212.5" cy="1037.5" rx="2.8" ry="3.7" fill="url(#c_md)" opacity="1.0"/>
<ellipse cx="273.9" cy="1044.8" rx="4.7" ry="7.5" fill="url(#c_p)" opacity="1.0"/>
<ellipse cx="277.6" cy="1066.0" rx="4.7" ry="4.7" fill="url(#c_p)" opacity="1.0"/>
<ellipse cx="273.5" cy="1073.3" rx="5.1" ry="5.1" fill="url(#c_p)" opacity="1.0"/>
<ellipse cx="290.2" cy="1080.6" rx="4.7" ry="4.7" fill="url(#c_p)" opacity="1.0"/>
<ellipse cx="269.0" cy="1084.7" rx="6.1" ry="6.1" fill="url(#c_p)" opacity="1.0"/>
<ellipse cx="262.5" cy="1081.4" rx="3.7" ry="3.7" fill="url(#c_p)" opacity="1.0"/>
<ellipse cx="260.9" cy="1054.6" rx="3.3" ry="3.3" fill="url(#c_p)" opacity="1.0"/>
<ellipse cx="222.7" cy="1056.2" rx="5.1" ry="5.1" fill="url(#c_p)" opacity="1.0"/>
<ellipse cx="240.6" cy="1061.1" rx="5.6" ry="5.6" fill="url(#c_p)" opacity="1.0"/>
<ellipse cx="241.4" cy="1074.9" rx="5.1" ry="5.1" fill="url(#c_p)" opacity="1.0"/>
<ellipse cx="260.5" cy="1015.6" rx="5.6" ry="8.2" fill="url(#c_pd)" opacity="1.0"/>
<ellipse cx="271.1" cy="1058.3" rx="6.1" ry="6.1" fill="url(#c_pd)" opacity="1.0"/>
<ellipse cx="284.1" cy="1072.9" rx="5.1" ry="5.1" fill="url(#c_pd)" opacity="1.0"/>
</g>
<rect x="211.1" y="999.1" width="106.9" height="93.6" fill="none" stroke="#848a84" stroke-width="1.4" stroke-opacity="0.7"/>
</g>
<clipPath id="mc7"><rect x="96.5" y="1099.3" width="107.7" height="94.3"/></clipPath>
<radialGradient id="mbg7" cx="0.55" cy="0.5" r="0.75"><stop offset="0" stop-color="#d3dad4"/><stop offset="1" stop-color="#c2cbc4"/></radialGradient>
<g clip-path="url(#mc7)">
<rect x="94.5" y="1097.3" width="111.7" height="98.3" fill="url(#mbg7)"/>
<g filter="url(#mb)">
<ellipse cx="102.2" cy="1105.4" rx="9.3" ry="9.3" fill="#e2e4e4" fill-opacity="0.9"/>
<ellipse cx="98.9" cy="1120.8" rx="7.8" ry="7.8" fill="#e2e4e4" fill-opacity="0.9"/>
<ellipse cx="101.4" cy="1129.0" rx="7.8" ry="7.8" fill="#e2e4e4" fill-opacity="0.9"/>
<ellipse cx="112.0" cy="1117.6" rx="7.3" ry="8.8" fill="#e2e4e4" fill-opacity="0.9"/>
<ellipse cx="117.6" cy="1131.4" rx="7.3" ry="7.3" fill="#e2e4e4" fill-opacity="0.9"/>
<ellipse cx="112.0" cy="1134.7" rx="5.8" ry="5.8" fill="#e2e4e4" fill-opacity="0.9"/>
<ellipse cx="124.1" cy="1139.5" rx="6.8" ry="6.8" fill="#e2e4e4" fill-opacity="0.9"/>
<ellipse cx="106.3" cy="1139.5" rx="6.8" ry="6.8" fill="#e2e4e4" fill-opacity="0.9"/>
<ellipse cx="128.2" cy="1146.8" rx="6.3" ry="6.3" fill="#e2e4e4" fill-opacity="0.9"/>
<ellipse cx="114.4" cy="1146.8" rx="7.8" ry="7.8" fill="#e2e4e4" fill-opacity="0.9"/>
<ellipse cx="129.0" cy="1160.7" rx="7.8" ry="7.8" fill="#e2e4e4" fill-opacity="0.9"/>
<ellipse cx="111.1" cy="1155.8" rx="6.8" ry="6.8" fill="#e2e4e4" fill-opacity="0.9"/>
<ellipse cx="114.4" cy="1169.6" rx="8.3" ry="8.3" fill="#e2e4e4" fill-opacity="0.9"/>
<ellipse cx="124.1" cy="1165.5" rx="6.8" ry="6.8" fill="#e2e4e4" fill-opacity="0.9"/>
<ellipse cx="123.3" cy="1175.3" rx="7.3" ry="7.3" fill="#e2e4e4" fill-opacity="0.9"/>
<ellipse cx="112.0" cy="1179.4" rx="8.8" ry="8.8" fill="#e2e4e4" fill-opacity="0.9"/>
<ellipse cx="99.8" cy="1159.0" rx="6.8" ry="8.3" fill="#e2e4e4" fill-opacity="0.9"/>
<ellipse cx="106.3" cy="1190.7" rx="8.3" ry="5.3" fill="#e2e4e4" fill-opacity="0.9"/>
<ellipse cx="120.9" cy="1189.9" rx="7.3" ry="5.8" fill="#e2e4e4" fill-opacity="0.9"/>
<ellipse cx="122.5" cy="1102.1" rx="8.3" ry="5.3" fill="#e2e4e4" fill-opacity="0.9"/>
<ellipse cx="133.1" cy="1102.1" rx="8.3" ry="5.3" fill="#e2e4e4" fill-opacity="0.9"/>
<ellipse cx="141.2" cy="1102.9" rx="8.3" ry="6.8" fill="#e2e4e4" fill-opacity="0.9"/>
<ellipse cx="172.1" cy="1104.6" rx="7.3" ry="7.3" fill="#e2e4e4" fill-opacity="0.9"/>
<ellipse cx="177.0" cy="1100.5" rx="5.8" ry="3.5" fill="#e2e4e4" fill-opacity="0.9"/>
<ellipse cx="194.9" cy="1104.6" rx="10.3" ry="10.3" fill="#e2e4e4" fill-opacity="0.9"/>
<ellipse cx="201.4" cy="1116.8" rx="6.8" ry="12.9" fill="#e2e4e4" fill-opacity="0.9"/>
<ellipse cx="196.5" cy="1110.3" rx="6.8" ry="6.8" fill="#e2e4e4" fill-opacity="0.9"/>
<ellipse cx="154.2" cy="1117.6" rx="7.8" ry="7.8" fill="#e2e4e4" fill-opacity="0.9"/>
<ellipse cx="172.1" cy="1123.3" rx="7.3" ry="9.3" fill="#e2e4e4" fill-opacity="0.9"/>
<ellipse cx="175.4" cy="1133.8" rx="7.3" ry="7.3" fill="#e2e4e4" fill-opacity="0.9"/>
<ellipse cx="178.6" cy="1142.0" rx="7.3" ry="7.3" fill="#e2e4e4" fill-opacity="0.9"/>
<ellipse cx="176.2" cy="1150.9" rx="6.8" ry="6.8" fill="#e2e4e4" fill-opacity="0.9"/>
<ellipse cx="174.6" cy="1157.4" rx="7.8" ry="7.8" fill="#e2e4e4" fill-opacity="0.9"/>
<ellipse cx="168.0" cy="1160.7" rx="7.8" ry="7.8" fill="#e2e4e4" fill-opacity="0.9"/>
<ellipse cx="199.8" cy="1151.7" rx="6.8" ry="6.8" fill="#e2e4e4" fill-opacity="0.9"/>
<ellipse cx="156.7" cy="1150.9" rx="9.8" ry="6.8" fill="#e2e4e4" fill-opacity="0.9"/>
<ellipse cx="154.2" cy="1162.3" rx="7.8" ry="7.8" fill="#e2e4e4" fill-opacity="0.9"/>
<ellipse cx="161.5" cy="1169.6" rx="6.8" ry="6.8" fill="#e2e4e4" fill-opacity="0.9"/>
<ellipse cx="154.2" cy="1172.0" rx="8.3" ry="8.3" fill="#e2e4e4" fill-opacity="0.9"/>
<ellipse cx="160.7" cy="1176.1" rx="4.7" ry="4.7" fill="#e2e4e4" fill-opacity="0.9"/>
<ellipse cx="169.7" cy="1179.4" rx="7.3" ry="7.3" fill="#e2e4e4" fill-opacity="0.9"/>
<ellipse cx="177.8" cy="1178.6" rx="6.8" ry="6.8" fill="#e2e4e4" fill-opacity="0.9"/>
<ellipse cx="187.6" cy="1175.3" rx="6.3" ry="8.8" fill="#e2e4e4" fill-opacity="0.9"/>
<ellipse cx="194.9" cy="1180.2" rx="7.3" ry="7.3" fill="#e2e4e4" fill-opacity="0.9"/>
<ellipse cx="201.4" cy="1178.6" rx="6.3" ry="6.3" fill="#e2e4e4" fill-opacity="0.9"/>
<ellipse cx="190.8" cy="1184.2" rx="6.3" ry="6.3" fill="#e2e4e4" fill-opacity="0.9"/>
<ellipse cx="175.4" cy="1186.7" rx="8.3" ry="8.3" fill="#e2e4e4" fill-opacity="0.9"/>
<ellipse cx="159.1" cy="1187.5" rx="10.3" ry="7.8" fill="#e2e4e4" fill-opacity="0.9"/>
<ellipse cx="163.2" cy="1112.7" rx="5.1" ry="15.2" fill="url(#c_kf)" opacity="0.7"/>
<ellipse cx="170.5" cy="1173.7" rx="4.1" ry="4.1" fill="url(#c_kf)" opacity="0.7"/>
<ellipse cx="118.5" cy="1155.8" rx="9.7" ry="9.7" fill="url(#c_ml)" opacity="0.85"/>
<ellipse cx="190.0" cy="1149.3" rx="6.6" ry="6.6" fill="url(#c_k)" opacity="0.92"/>
<ellipse cx="166.4" cy="1182.6" rx="2.5" ry="2.5" fill="url(#c_b)" opacity="0.85"/>
<ellipse cx="108.7" cy="1130.6" rx="12.2" ry="20.3" fill="url(#c_ml)" opacity="0.85" transform="rotate(-30 108.7 1130.6)"/>
<ellipse cx="116.8" cy="1159.0" rx="15.2" ry="19.3" fill="url(#c_ml)" opacity="0.85"/>
<ellipse cx="114.4" cy="1179.4" rx="13.2" ry="9.1" fill="url(#c_ml)" opacity="0.85"/>
<ellipse cx="175.4" cy="1142.8" rx="6.1" ry="24.4" fill="url(#c_ml)" opacity="0.85" transform="rotate(-10 175.4 1142.8)"/>
<ellipse cx="183.5" cy="1181.8" rx="25.4" ry="8.6" fill="url(#c_ml)" opacity="0.85"/>
<ellipse cx="155.9" cy="1165.5" rx="10.2" ry="19.3" fill="url(#c_ml)" opacity="0.85"/>
<ellipse cx="102.2" cy="1105.4" rx="7.6" ry="7.6" fill="url(#c_m)" opacity="1.0"/>
<ellipse cx="98.9" cy="1120.8" rx="6.1" ry="6.1" fill="url(#c_m)" opacity="1.0"/>
<ellipse cx="101.4" cy="1129.0" rx="6.1" ry="6.1" fill="url(#c_m)" opacity="1.0"/>
<ellipse cx="112.0" cy="1117.6" rx="5.6" ry="7.1" fill="url(#c_m)" opacity="1.0"/>
<ellipse cx="124.1" cy="1139.5" rx="5.1" ry="5.1" fill="url(#c_m)" opacity="1.0"/>
<ellipse cx="106.3" cy="1139.5" rx="5.1" ry="5.1" fill="url(#c_m)" opacity="1.0"/>
<ellipse cx="114.4" cy="1146.8" rx="6.1" ry="6.1" fill="url(#c_m)" opacity="1.0"/>
<ellipse cx="124.1" cy="1165.5" rx="5.1" ry="5.1" fill="url(#c_m)" opacity="1.0"/>
<ellipse cx="123.3" cy="1175.3" rx="5.6" ry="5.6" fill="url(#c_m)" opacity="1.0"/>
<ellipse cx="112.0" cy="1179.4" rx="7.1" ry="7.1" fill="url(#c_m)" opacity="1.0"/>
<ellipse cx="99.8" cy="1159.0" rx="5.1" ry="6.6" fill="url(#c_m)" opacity="1.0"/>
<ellipse cx="106.3" cy="1190.7" rx="6.6" ry="3.6" fill="url(#c_m)" opacity="1.0"/>
<ellipse cx="120.9" cy="1189.9" rx="5.6" ry="4.1" fill="url(#c_m)" opacity="1.0"/>
<ellipse cx="122.5" cy="1102.1" rx="6.6" ry="3.6" fill="url(#c_m)" opacity="1.0"/>
<ellipse cx="133.1" cy="1102.1" rx="6.6" ry="3.6" fill="url(#c_m)" opacity="1.0"/>
<ellipse cx="194.9" cy="1104.6" rx="8.6" ry="8.6" fill="url(#c_m)" opacity="1.0"/>
<ellipse cx="201.4" cy="1116.8" rx="5.1" ry="11.2" fill="url(#c_m)" opacity="1.0"/>
<ellipse cx="196.5" cy="1110.3" rx="5.1" ry="5.1" fill="url(#c_m)" opacity="1.0"/>
<ellipse cx="154.2" cy="1117.6" rx="6.1" ry="6.1" fill="url(#c_m)" opacity="1.0"/>
<ellipse cx="175.4" cy="1133.8" rx="5.6" ry="5.6" fill="url(#c_m)" opacity="1.0"/>
<ellipse cx="168.0" cy="1160.7" rx="6.1" ry="6.1" fill="url(#c_m)" opacity="1.0"/>
<ellipse cx="199.8" cy="1151.7" rx="5.1" ry="5.1" fill="url(#c_m)" opacity="1.0"/>
<ellipse cx="156.7" cy="1150.9" rx="8.1" ry="5.1" fill="url(#c_m)" opacity="1.0"/>
<ellipse cx="154.2" cy="1162.3" rx="6.1" ry="6.1" fill="url(#c_m)" opacity="1.0"/>
<ellipse cx="154.2" cy="1172.0" rx="6.6" ry="6.6" fill="url(#c_m)" opacity="1.0"/>
<ellipse cx="169.7" cy="1179.4" rx="5.6" ry="5.6" fill="url(#c_m)" opacity="1.0"/>
<ellipse cx="177.8" cy="1178.6" rx="5.1" ry="5.1" fill="url(#c_m)" opacity="1.0"/>
<ellipse cx="194.9" cy="1180.2" rx="5.6" ry="5.6" fill="url(#c_m)" opacity="1.0"/>
<ellipse cx="201.4" cy="1178.6" rx="4.6" ry="4.6" fill="url(#c_m)" opacity="1.0"/>
<ellipse cx="175.4" cy="1186.7" rx="6.6" ry="6.6" fill="url(#c_m)" opacity="1.0"/>
<ellipse cx="159.1" cy="1187.5" rx="8.6" ry="6.1" fill="url(#c_m)" opacity="1.0"/>
<ellipse cx="117.6" cy="1131.4" rx="5.6" ry="5.6" fill="url(#c_p)" opacity="1.0"/>
<ellipse cx="128.2" cy="1146.8" rx="4.6" ry="4.6" fill="url(#c_p)" opacity="1.0"/>
<ellipse cx="129.0" cy="1160.7" rx="6.1" ry="6.1" fill="url(#c_p)" opacity="1.0"/>
<ellipse cx="111.1" cy="1155.8" rx="5.1" ry="5.1" fill="url(#c_p)" opacity="1.0"/>
<ellipse cx="114.4" cy="1169.6" rx="6.6" ry="6.6" fill="url(#c_p)" opacity="1.0"/>
<ellipse cx="141.2" cy="1102.9" rx="6.6" ry="5.1" fill="url(#c_p)" opacity="1.0"/>
<ellipse cx="172.1" cy="1104.6" rx="5.6" ry="5.6" fill="url(#c_p)" opacity="1.0"/>
<ellipse cx="172.1" cy="1123.3" rx="5.6" ry="7.6" fill="url(#c_p)" opacity="1.0"/>
<ellipse cx="178.6" cy="1142.0" rx="5.6" ry="5.6" fill="url(#c_p)" opacity="1.0"/>
<ellipse cx="176.2" cy="1150.9" rx="5.1" ry="5.1" fill="url(#c_p)" opacity="1.0"/>
<ellipse cx="161.5" cy="1169.6" rx="5.1" ry="5.1" fill="url(#c_p)" opacity="1.0"/>
<ellipse cx="160.7" cy="1176.1" rx="3.0" ry="3.0" fill="url(#c_p)" opacity="1.0"/>
<ellipse cx="187.6" cy="1175.3" rx="4.6" ry="7.1" fill="url(#c_p)" opacity="1.0"/>
<ellipse cx="190.8" cy="1184.2" rx="4.6" ry="4.6" fill="url(#c_p)" opacity="1.0"/>
<ellipse cx="112.0" cy="1134.7" rx="4.1" ry="4.1" fill="url(#c_pd)" opacity="1.0"/>
<ellipse cx="177.0" cy="1100.5" rx="4.1" ry="1.8" fill="url(#c_pd)" opacity="1.0"/>
<ellipse cx="174.6" cy="1157.4" rx="6.1" ry="6.1" fill="url(#c_pd)" opacity="1.0"/>
</g>
</g>
<clipPath id="mc8"><rect x="210.5" y="1099.3" width="108.1" height="94.3"/></clipPath>
<radialGradient id="mbg8" cx="0.55" cy="0.5" r="0.75"><stop offset="0" stop-color="#dbd0d8"/><stop offset="1" stop-color="#cdc2cc"/></radialGradient>
<g clip-path="url(#mc8)">
<rect x="208.5" y="1097.3" width="112.1" height="98.3" fill="url(#mbg8)"/>
<g filter="url(#mb)">
<ellipse cx="251.2" cy="1111.9" rx="8.2" ry="8.2" fill="#e4dbe2" fill-opacity="0.9"/>
<ellipse cx="258.5" cy="1187.5" rx="7.8" ry="8.4" fill="#e4dbe2" fill-opacity="0.9"/>
<ellipse cx="316.6" cy="1146.8" rx="5.6" ry="6.4" fill="#e4dbe2" fill-opacity="0.9"/>
<ellipse cx="233.3" cy="1192.4" rx="5.9" ry="4.0" fill="#e4dbe2" fill-opacity="0.9"/>
<ellipse cx="215.4" cy="1100.5" rx="7.8" ry="4.0" fill="#e4dbe2" fill-opacity="0.9"/>
<ellipse cx="236.5" cy="1100.9" rx="6.4" ry="3.6" fill="#e4dbe2" fill-opacity="0.9"/>
<ellipse cx="235.7" cy="1142.0" rx="8.4" ry="12.5" fill="#e4dbe2" fill-opacity="0.9"/>
<ellipse cx="239.8" cy="1146.8" rx="5.9" ry="7.3" fill="#e4dbe2" fill-opacity="0.9"/>
<ellipse cx="241.4" cy="1150.1" rx="5.9" ry="5.9" fill="#e4dbe2" fill-opacity="0.9"/>
<ellipse cx="234.9" cy="1130.6" rx="4.5" ry="4.5" fill="#e4dbe2" fill-opacity="0.9"/>
<ellipse cx="262.1" cy="1128.1" rx="6.8" ry="8.1" fill="#e4dbe2" fill-opacity="0.9"/>
<ellipse cx="282.9" cy="1178.6" rx="7.8" ry="9.6" fill="#e4dbe2" fill-opacity="0.9"/>
<ellipse cx="300.7" cy="1190.7" rx="5.9" ry="3.6" fill="#e4dbe2" fill-opacity="0.9"/>
<ellipse cx="267.4" cy="1100.1" rx="2.8" ry="0.9" fill="url(#c_kf)" opacity="0.7"/>
<ellipse cx="211.7" cy="1141.2" rx="2.3" ry="4.7" fill="url(#c_b)" opacity="0.85"/>
<ellipse cx="248.7" cy="1125.7" rx="8.9" ry="7.5" fill="url(#c_ml)" opacity="0.85"/>
<ellipse cx="282.9" cy="1121.6" rx="10.8" ry="9.3" fill="url(#c_k)" opacity="0.92"/>
<ellipse cx="305.6" cy="1124.1" rx="10.8" ry="7.5" fill="url(#c_k)" opacity="0.92"/>
<ellipse cx="286.9" cy="1140.3" rx="10.5" ry="7.7" fill="url(#c_k)" opacity="0.92"/>
<ellipse cx="278.8" cy="1155.8" rx="10.5" ry="7.3" fill="url(#c_k)" opacity="0.92" transform="rotate(25 278.8 1155.8)"/>
<ellipse cx="266.6" cy="1167.2" rx="8.6" ry="7.9" fill="url(#c_k)" opacity="0.92" transform="rotate(30 266.6 1167.2)"/>
<ellipse cx="233.3" cy="1192.4" rx="4.2" ry="2.3" fill="url(#c_md)" opacity="1.0"/>
<ellipse cx="215.4" cy="1100.5" rx="6.1" ry="2.3" fill="url(#c_md)" opacity="1.0"/>
<ellipse cx="236.5" cy="1100.9" rx="4.7" ry="1.9" fill="url(#c_m)" opacity="1.0"/>
<ellipse cx="235.7" cy="1142.0" rx="6.7" ry="10.8" fill="url(#c_m)" opacity="1.0"/>
<ellipse cx="239.8" cy="1146.8" rx="4.2" ry="5.6" fill="url(#c_md)" opacity="1.0"/>
<ellipse cx="234.9" cy="1130.6" rx="2.8" ry="2.8" fill="url(#c_m)" opacity="1.0"/>
<ellipse cx="262.1" cy="1128.1" rx="5.1" ry="6.4" fill="url(#c_m)" opacity="1.0"/>
<ellipse cx="282.9" cy="1178.6" rx="6.1" ry="7.9" fill="url(#c_m)" opacity="1.0"/>
<ellipse cx="300.7" cy="1190.7" rx="4.2" ry="1.9" fill="url(#c_m)" opacity="1.0"/>
<ellipse cx="241.4" cy="1150.1" rx="4.2" ry="4.2" fill="url(#c_p)" opacity="1.0"/>
<ellipse cx="251.2" cy="1111.9" rx="6.5" ry="6.5" fill="url(#c_pd)" opacity="1.0"/>
<ellipse cx="258.5" cy="1187.5" rx="6.1" ry="6.7" fill="url(#c_pd)" opacity="1.0"/>
<ellipse cx="316.6" cy="1146.8" rx="3.9" ry="4.7" fill="url(#c_pd)" opacity="1.0"/>
</g>
<rect x="211.1" y="1099.9" width="106.9" height="93.1" fill="none" stroke="#b9b0b8" stroke-width="1.4" stroke-opacity="0.7"/>
</g>
</g>
</svg>
</body>
</html>
